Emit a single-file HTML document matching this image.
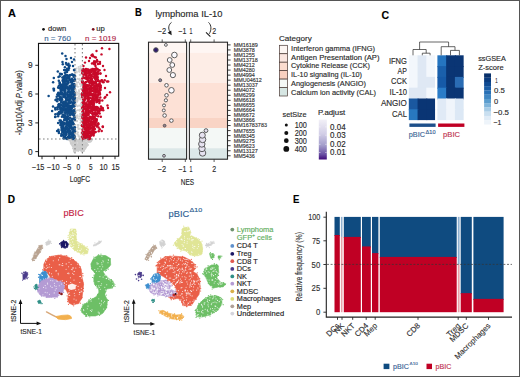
<!DOCTYPE html>
<html><head><meta charset="utf-8"><style>
html,body{margin:0;padding:0;background:#fff;}
body{width:520px;height:377px;overflow:hidden;font-family:"Liberation Sans", sans-serif;}
svg{display:block;}
text{stroke-width:0.14px;}
</style></head><body>
<svg width="520" height="377" viewBox="0 0 520 377" font-family='"Liberation Sans", sans-serif'><rect width="520" height="377" fill="#fff"/><g fill="#d2d2d2" ><circle cx="76.1" cy="112.3" r="1.05"/><circle cx="77.2" cy="117.3" r="1.05"/><circle cx="79.2" cy="71.6" r="1.05"/><circle cx="74.3" cy="137.2" r="1.05"/><circle cx="76.3" cy="85.9" r="1.05"/><circle cx="80.9" cy="106.5" r="1.05"/><circle cx="79.3" cy="78.8" r="1.05"/><circle cx="79.3" cy="139.8" r="1.05"/><circle cx="78.4" cy="129.0" r="1.05"/><circle cx="79.6" cy="71.4" r="1.05"/><circle cx="80.3" cy="116.2" r="1.05"/><circle cx="76.6" cy="68.6" r="1.05"/><circle cx="81.1" cy="106.2" r="1.05"/><circle cx="80.0" cy="140.7" r="1.05"/><circle cx="79.9" cy="144.3" r="1.05"/><circle cx="77.4" cy="134.1" r="1.05"/><circle cx="77.8" cy="145.5" r="1.05"/><circle cx="81.2" cy="74.3" r="1.05"/><circle cx="75.3" cy="84.4" r="1.05"/><circle cx="81.9" cy="103.1" r="1.05"/><circle cx="79.2" cy="91.6" r="1.05"/><circle cx="78.3" cy="98.8" r="1.05"/><circle cx="77.0" cy="115.7" r="1.05"/><circle cx="78.9" cy="142.9" r="1.05"/><circle cx="79.7" cy="145.0" r="1.05"/><circle cx="81.1" cy="150.2" r="1.05"/><circle cx="79.6" cy="79.9" r="1.05"/><circle cx="81.1" cy="148.0" r="1.05"/><circle cx="81.4" cy="114.4" r="1.05"/><circle cx="79.9" cy="83.9" r="1.05"/><circle cx="80.9" cy="114.8" r="1.05"/><circle cx="76.5" cy="71.4" r="1.05"/><circle cx="81.0" cy="150.1" r="1.05"/><circle cx="74.9" cy="134.1" r="1.05"/><circle cx="77.5" cy="78.8" r="1.05"/><circle cx="76.6" cy="131.3" r="1.05"/><circle cx="81.2" cy="69.8" r="1.05"/><circle cx="79.1" cy="69.8" r="1.05"/><circle cx="79.9" cy="94.1" r="1.05"/><circle cx="81.2" cy="149.4" r="1.05"/><circle cx="78.2" cy="150.9" r="1.05"/><circle cx="76.7" cy="72.5" r="1.05"/><circle cx="79.0" cy="68.7" r="1.05"/><circle cx="75.8" cy="100.7" r="1.05"/><circle cx="79.1" cy="79.3" r="1.05"/><circle cx="74.5" cy="139.8" r="1.05"/><circle cx="76.7" cy="147.5" r="1.05"/><circle cx="81.4" cy="98.1" r="1.05"/><circle cx="77.9" cy="110.2" r="1.05"/><circle cx="79.4" cy="116.6" r="1.05"/><circle cx="78.7" cy="118.7" r="1.05"/><circle cx="81.7" cy="109.1" r="1.05"/><circle cx="77.6" cy="127.2" r="1.05"/><circle cx="76.1" cy="91.6" r="1.05"/><circle cx="78.6" cy="67.0" r="1.05"/><circle cx="77.5" cy="115.3" r="1.05"/><circle cx="74.4" cy="118.3" r="1.05"/><circle cx="79.3" cy="71.1" r="1.05"/><circle cx="79.2" cy="105.6" r="1.05"/><circle cx="79.6" cy="96.0" r="1.05"/><circle cx="79.9" cy="128.7" r="1.05"/><circle cx="74.4" cy="71.1" r="1.05"/><circle cx="79.6" cy="147.9" r="1.05"/><circle cx="76.2" cy="104.8" r="1.05"/><circle cx="78.9" cy="93.2" r="1.05"/><circle cx="77.1" cy="92.6" r="1.05"/><circle cx="77.2" cy="116.6" r="1.05"/><circle cx="76.6" cy="98.1" r="1.05"/><circle cx="80.4" cy="68.3" r="1.05"/><circle cx="78.8" cy="128.5" r="1.05"/><circle cx="76.7" cy="84.9" r="1.05"/><circle cx="80.6" cy="86.3" r="1.05"/><circle cx="75.7" cy="103.0" r="1.05"/><circle cx="79.8" cy="74.7" r="1.05"/><circle cx="76.8" cy="94.4" r="1.05"/><circle cx="80.9" cy="103.3" r="1.05"/><circle cx="81.0" cy="80.4" r="1.05"/><circle cx="76.9" cy="121.3" r="1.05"/><circle cx="81.3" cy="104.3" r="1.05"/><circle cx="76.0" cy="76.3" r="1.05"/><circle cx="78.4" cy="82.2" r="1.05"/><circle cx="80.7" cy="137.3" r="1.05"/><circle cx="75.7" cy="89.7" r="1.05"/><circle cx="80.7" cy="120.6" r="1.05"/><circle cx="80.7" cy="95.3" r="1.05"/><circle cx="75.2" cy="90.8" r="1.05"/><circle cx="80.6" cy="89.0" r="1.05"/><circle cx="77.0" cy="101.4" r="1.05"/><circle cx="77.6" cy="100.8" r="1.05"/><circle cx="81.6" cy="79.3" r="1.05"/><circle cx="74.2" cy="146.2" r="1.05"/><circle cx="81.2" cy="149.9" r="1.05"/><circle cx="77.7" cy="146.8" r="1.05"/><circle cx="81.6" cy="84.9" r="1.05"/><circle cx="80.2" cy="137.1" r="1.05"/><circle cx="79.5" cy="110.1" r="1.05"/><circle cx="76.5" cy="95.0" r="1.05"/><circle cx="76.0" cy="71.8" r="1.05"/><circle cx="78.9" cy="90.4" r="1.05"/><circle cx="80.7" cy="69.8" r="1.05"/><circle cx="81.4" cy="125.0" r="1.05"/><circle cx="81.6" cy="142.2" r="1.05"/><circle cx="81.4" cy="115.0" r="1.05"/><circle cx="74.3" cy="129.4" r="1.05"/><circle cx="75.6" cy="91.5" r="1.05"/><circle cx="79.5" cy="110.6" r="1.05"/><circle cx="77.5" cy="145.8" r="1.05"/><circle cx="79.1" cy="95.0" r="1.05"/><circle cx="76.2" cy="139.2" r="1.05"/><circle cx="78.0" cy="132.5" r="1.05"/><circle cx="77.0" cy="82.8" r="1.05"/><circle cx="78.5" cy="135.4" r="1.05"/><circle cx="75.6" cy="133.3" r="1.05"/><circle cx="81.6" cy="134.5" r="1.05"/><circle cx="80.8" cy="66.6" r="1.05"/><circle cx="79.2" cy="139.3" r="1.05"/><circle cx="74.6" cy="89.1" r="1.05"/><circle cx="76.3" cy="110.8" r="1.05"/><circle cx="77.6" cy="106.2" r="1.05"/><circle cx="80.4" cy="66.2" r="1.05"/><circle cx="74.6" cy="76.8" r="1.05"/><circle cx="75.2" cy="71.8" r="1.05"/><circle cx="82.0" cy="138.6" r="1.05"/><circle cx="74.9" cy="108.7" r="1.05"/><circle cx="76.7" cy="92.7" r="1.05"/><circle cx="77.0" cy="121.0" r="1.05"/><circle cx="78.9" cy="96.7" r="1.05"/><circle cx="75.7" cy="93.9" r="1.05"/><circle cx="75.2" cy="113.2" r="1.05"/><circle cx="79.9" cy="98.3" r="1.05"/><circle cx="74.8" cy="81.2" r="1.05"/><circle cx="77.2" cy="117.4" r="1.05"/><circle cx="80.5" cy="98.3" r="1.05"/><circle cx="80.6" cy="118.9" r="1.05"/><circle cx="77.7" cy="97.7" r="1.05"/><circle cx="78.2" cy="125.7" r="1.05"/><circle cx="77.6" cy="125.0" r="1.05"/><circle cx="77.9" cy="86.8" r="1.05"/><circle cx="78.5" cy="125.1" r="1.05"/><circle cx="74.8" cy="102.1" r="1.05"/><circle cx="77.6" cy="140.8" r="1.05"/><circle cx="81.7" cy="97.8" r="1.05"/><circle cx="81.4" cy="133.2" r="1.05"/><circle cx="76.3" cy="105.5" r="1.05"/><circle cx="75.2" cy="135.1" r="1.05"/><circle cx="79.5" cy="141.4" r="1.05"/><circle cx="80.5" cy="122.7" r="1.05"/><circle cx="80.1" cy="113.9" r="1.05"/><circle cx="75.0" cy="116.0" r="1.05"/><circle cx="74.2" cy="78.2" r="1.05"/><circle cx="80.4" cy="69.8" r="1.05"/><circle cx="74.9" cy="74.4" r="1.05"/><circle cx="81.2" cy="81.2" r="1.05"/><circle cx="74.4" cy="137.5" r="1.05"/><circle cx="75.2" cy="137.7" r="1.05"/><circle cx="79.6" cy="137.1" r="1.05"/><circle cx="81.8" cy="115.2" r="1.05"/><circle cx="80.6" cy="69.1" r="1.05"/><circle cx="80.3" cy="109.5" r="1.05"/><circle cx="79.9" cy="75.1" r="1.05"/><circle cx="80.2" cy="145.4" r="1.05"/><circle cx="74.7" cy="93.6" r="1.05"/><circle cx="78.7" cy="136.4" r="1.05"/><circle cx="76.1" cy="81.3" r="1.05"/><circle cx="76.2" cy="118.4" r="1.05"/><circle cx="80.2" cy="99.5" r="1.05"/><circle cx="77.1" cy="99.7" r="1.05"/><circle cx="77.0" cy="101.5" r="1.05"/><circle cx="74.9" cy="108.5" r="1.05"/><circle cx="80.2" cy="79.7" r="1.05"/></g><g fill="#cdcdcd" ><circle cx="85.1" cy="148.8" r="1.05"/><circle cx="84.7" cy="145.7" r="1.05"/><circle cx="80.1" cy="147.4" r="1.05"/><circle cx="90.0" cy="140.9" r="1.05"/><circle cx="79.1" cy="148.3" r="1.05"/><circle cx="73.0" cy="142.5" r="1.05"/><circle cx="73.3" cy="146.6" r="1.05"/><circle cx="76.1" cy="142.0" r="1.05"/><circle cx="75.6" cy="148.2" r="1.05"/><circle cx="78.4" cy="150.1" r="1.05"/><circle cx="82.5" cy="142.5" r="1.05"/><circle cx="73.7" cy="139.3" r="1.05"/><circle cx="80.0" cy="144.0" r="1.05"/><circle cx="72.6" cy="143.7" r="1.05"/><circle cx="76.2" cy="149.1" r="1.05"/><circle cx="80.0" cy="146.8" r="1.05"/><circle cx="79.7" cy="149.8" r="1.05"/><circle cx="80.1" cy="148.4" r="1.05"/><circle cx="79.7" cy="142.0" r="1.05"/><circle cx="74.1" cy="148.3" r="1.05"/><circle cx="89.0" cy="142.1" r="1.05"/><circle cx="73.1" cy="142.4" r="1.05"/><circle cx="73.0" cy="148.2" r="1.05"/><circle cx="74.6" cy="150.2" r="1.05"/><circle cx="76.0" cy="144.5" r="1.05"/><circle cx="86.0" cy="140.1" r="1.05"/><circle cx="75.5" cy="143.6" r="1.05"/><circle cx="82.4" cy="147.8" r="1.05"/><circle cx="79.0" cy="145.3" r="1.05"/><circle cx="73.5" cy="146.6" r="1.05"/><circle cx="81.6" cy="140.5" r="1.05"/><circle cx="75.1" cy="147.7" r="1.05"/><circle cx="90.3" cy="140.3" r="1.05"/><circle cx="75.6" cy="147.8" r="1.05"/><circle cx="84.2" cy="149.5" r="1.05"/><circle cx="74.9" cy="148.8" r="1.05"/><circle cx="81.4" cy="140.5" r="1.05"/><circle cx="80.4" cy="143.6" r="1.05"/><circle cx="85.7" cy="147.8" r="1.05"/><circle cx="82.1" cy="141.4" r="1.05"/><circle cx="84.0" cy="147.2" r="1.05"/><circle cx="84.2" cy="140.6" r="1.05"/><circle cx="90.9" cy="140.8" r="1.05"/><circle cx="76.5" cy="148.4" r="1.05"/><circle cx="82.8" cy="146.2" r="1.05"/><circle cx="84.0" cy="145.0" r="1.05"/><circle cx="76.0" cy="141.3" r="1.05"/><circle cx="86.6" cy="146.1" r="1.05"/><circle cx="86.3" cy="143.7" r="1.05"/><circle cx="74.9" cy="144.0" r="1.05"/><circle cx="89.4" cy="139.5" r="1.05"/><circle cx="80.6" cy="142.2" r="1.05"/><circle cx="87.0" cy="143.6" r="1.05"/><circle cx="76.5" cy="144.2" r="1.05"/><circle cx="81.5" cy="149.0" r="1.05"/><circle cx="77.0" cy="150.0" r="1.05"/><circle cx="71.2" cy="142.5" r="1.05"/><circle cx="70.9" cy="140.5" r="1.05"/><circle cx="72.9" cy="141.5" r="1.05"/><circle cx="78.5" cy="148.7" r="1.05"/><circle cx="82.7" cy="140.9" r="1.05"/><circle cx="78.1" cy="141.5" r="1.05"/><circle cx="81.2" cy="146.4" r="1.05"/><circle cx="73.3" cy="142.3" r="1.05"/><circle cx="87.3" cy="139.4" r="1.05"/><circle cx="81.8" cy="146.6" r="1.05"/><circle cx="85.0" cy="142.9" r="1.05"/><circle cx="82.9" cy="148.4" r="1.05"/><circle cx="84.4" cy="145.4" r="1.05"/><circle cx="81.1" cy="145.0" r="1.05"/><circle cx="73.1" cy="145.9" r="1.05"/><circle cx="84.0" cy="144.8" r="1.05"/><circle cx="82.1" cy="151.5" r="1.05"/><circle cx="89.9" cy="140.8" r="1.05"/><circle cx="74.1" cy="140.0" r="1.05"/><circle cx="81.4" cy="151.1" r="1.05"/><circle cx="76.3" cy="150.3" r="1.05"/><circle cx="85.2" cy="140.7" r="1.05"/><circle cx="86.3" cy="143.5" r="1.05"/><circle cx="86.7" cy="145.3" r="1.05"/><circle cx="71.1" cy="139.6" r="1.05"/><circle cx="70.4" cy="141.6" r="1.05"/><circle cx="72.4" cy="145.5" r="1.05"/><circle cx="85.3" cy="146.0" r="1.05"/><circle cx="78.6" cy="147.4" r="1.05"/><circle cx="75.8" cy="145.0" r="1.05"/><circle cx="86.7" cy="144.2" r="1.05"/><circle cx="85.8" cy="143.8" r="1.05"/><circle cx="77.4" cy="145.9" r="1.05"/><circle cx="82.8" cy="141.9" r="1.05"/><circle cx="87.3" cy="140.9" r="1.05"/><circle cx="79.5" cy="141.5" r="1.05"/><circle cx="73.5" cy="141.2" r="1.05"/><circle cx="78.2" cy="141.2" r="1.05"/><circle cx="72.5" cy="145.4" r="1.05"/><circle cx="69.9" cy="139.3" r="1.05"/><circle cx="79.3" cy="144.3" r="1.05"/><circle cx="85.4" cy="139.7" r="1.05"/><circle cx="78.2" cy="144.2" r="1.05"/><circle cx="73.8" cy="140.2" r="1.05"/><circle cx="79.9" cy="141.1" r="1.05"/><circle cx="83.4" cy="143.5" r="1.05"/><circle cx="71.5" cy="139.7" r="1.05"/><circle cx="86.0" cy="142.6" r="1.05"/><circle cx="87.4" cy="145.1" r="1.05"/><circle cx="74.5" cy="142.5" r="1.05"/><circle cx="76.8" cy="140.2" r="1.05"/><circle cx="82.7" cy="139.0" r="1.05"/><circle cx="69.2" cy="140.2" r="1.05"/><circle cx="72.6" cy="139.5" r="1.05"/><circle cx="90.1" cy="141.6" r="1.05"/><circle cx="91.1" cy="139.4" r="1.05"/><circle cx="75.8" cy="146.9" r="1.05"/><circle cx="91.2" cy="140.1" r="1.05"/><circle cx="75.5" cy="150.0" r="1.05"/><circle cx="71.3" cy="144.1" r="1.05"/><circle cx="76.5" cy="147.8" r="1.05"/><circle cx="90.8" cy="141.3" r="1.05"/><circle cx="78.5" cy="142.0" r="1.05"/><circle cx="87.2" cy="145.2" r="1.05"/><circle cx="75.0" cy="141.2" r="1.05"/><circle cx="85.8" cy="146.9" r="1.05"/><circle cx="85.6" cy="144.0" r="1.05"/><circle cx="80.2" cy="141.0" r="1.05"/><circle cx="85.6" cy="139.3" r="1.05"/><circle cx="79.7" cy="148.9" r="1.05"/><circle cx="84.8" cy="140.3" r="1.05"/><circle cx="74.2" cy="150.0" r="1.05"/><circle cx="83.9" cy="150.4" r="1.05"/><circle cx="76.5" cy="143.8" r="1.05"/><circle cx="91.4" cy="140.4" r="1.05"/><circle cx="82.2" cy="140.4" r="1.05"/><circle cx="74.3" cy="139.6" r="1.05"/><circle cx="82.6" cy="139.2" r="1.05"/><circle cx="74.0" cy="151.6" r="1.05"/><circle cx="73.8" cy="146.3" r="1.05"/><circle cx="78.6" cy="149.2" r="1.05"/><circle cx="83.0" cy="149.3" r="1.05"/><circle cx="81.3" cy="141.4" r="1.05"/><circle cx="72.8" cy="140.0" r="1.05"/><circle cx="88.3" cy="140.5" r="1.05"/><circle cx="73.8" cy="149.8" r="1.05"/><circle cx="83.3" cy="147.3" r="1.05"/><circle cx="76.8" cy="146.8" r="1.05"/><circle cx="79.2" cy="140.4" r="1.05"/><circle cx="88.1" cy="141.7" r="1.05"/><circle cx="81.4" cy="145.0" r="1.05"/><circle cx="86.0" cy="140.0" r="1.05"/><circle cx="76.8" cy="145.3" r="1.05"/><circle cx="86.1" cy="144.5" r="1.05"/><circle cx="84.1" cy="146.9" r="1.05"/><circle cx="73.6" cy="143.6" r="1.05"/><circle cx="78.8" cy="140.1" r="1.05"/><circle cx="73.7" cy="141.1" r="1.05"/><circle cx="83.2" cy="151.1" r="1.05"/><circle cx="81.4" cy="144.4" r="1.05"/><circle cx="87.1" cy="144.3" r="1.05"/><circle cx="75.5" cy="151.1" r="1.05"/><circle cx="72.9" cy="140.2" r="1.05"/><circle cx="85.8" cy="142.8" r="1.05"/><circle cx="81.0" cy="147.3" r="1.05"/><circle cx="75.1" cy="144.6" r="1.05"/><circle cx="76.8" cy="148.6" r="1.05"/><circle cx="86.4" cy="142.7" r="1.05"/><circle cx="71.0" cy="142.9" r="1.05"/><circle cx="78.4" cy="140.0" r="1.05"/><circle cx="77.4" cy="141.1" r="1.05"/><circle cx="76.0" cy="145.0" r="1.05"/><circle cx="81.1" cy="146.0" r="1.05"/><circle cx="77.1" cy="150.1" r="1.05"/><circle cx="75.3" cy="145.0" r="1.05"/><circle cx="75.6" cy="142.2" r="1.05"/><circle cx="87.9" cy="139.1" r="1.05"/><circle cx="81.4" cy="141.2" r="1.05"/><circle cx="87.0" cy="145.1" r="1.05"/><circle cx="92.0" cy="139.5" r="1.05"/><circle cx="72.9" cy="139.2" r="1.05"/><circle cx="78.9" cy="143.4" r="1.05"/><circle cx="70.8" cy="143.1" r="1.05"/><circle cx="74.4" cy="149.4" r="1.05"/><circle cx="78.5" cy="142.4" r="1.05"/><circle cx="83.6" cy="147.8" r="1.05"/><circle cx="74.4" cy="140.8" r="1.05"/><circle cx="80.7" cy="149.8" r="1.05"/><circle cx="81.7" cy="142.6" r="1.05"/><circle cx="72.5" cy="139.2" r="1.05"/><circle cx="83.9" cy="150.7" r="1.05"/><circle cx="78.4" cy="145.7" r="1.05"/><circle cx="72.6" cy="141.4" r="1.05"/><circle cx="81.6" cy="144.3" r="1.05"/><circle cx="76.9" cy="144.9" r="1.05"/><circle cx="87.8" cy="144.9" r="1.05"/><circle cx="76.1" cy="145.8" r="1.05"/><circle cx="78.4" cy="150.1" r="1.05"/><circle cx="83.2" cy="139.4" r="1.05"/><circle cx="82.3" cy="146.1" r="1.05"/><circle cx="80.2" cy="142.6" r="1.05"/><circle cx="77.4" cy="145.7" r="1.05"/><circle cx="83.9" cy="141.5" r="1.05"/><circle cx="90.6" cy="141.4" r="1.05"/></g><g fill="#0f4a87" ><circle cx="62.1" cy="99.5" r="1.25"/><circle cx="70.8" cy="95.2" r="1.25"/><circle cx="63.5" cy="135.8" r="1.25"/><circle cx="69.0" cy="95.3" r="1.25"/><circle cx="73.0" cy="93.0" r="1.25"/><circle cx="60.6" cy="91.0" r="1.25"/><circle cx="72.0" cy="80.1" r="1.25"/><circle cx="73.8" cy="87.8" r="1.25"/><circle cx="63.4" cy="108.7" r="1.25"/><circle cx="66.6" cy="128.7" r="1.25"/><circle cx="74.8" cy="127.3" r="1.25"/><circle cx="60.7" cy="93.1" r="1.25"/><circle cx="71.6" cy="79.4" r="1.25"/><circle cx="70.7" cy="105.9" r="1.25"/><circle cx="74.2" cy="110.0" r="1.25"/><circle cx="61.0" cy="90.1" r="1.25"/><circle cx="62.8" cy="84.2" r="1.25"/><circle cx="61.2" cy="86.4" r="1.25"/><circle cx="65.4" cy="118.2" r="1.25"/><circle cx="74.2" cy="84.1" r="1.25"/><circle cx="72.4" cy="123.6" r="1.25"/><circle cx="63.4" cy="87.1" r="1.25"/><circle cx="74.3" cy="131.0" r="1.25"/><circle cx="68.5" cy="136.5" r="1.25"/><circle cx="73.2" cy="99.5" r="1.25"/><circle cx="59.6" cy="100.0" r="1.25"/><circle cx="73.0" cy="93.0" r="1.25"/><circle cx="73.2" cy="84.3" r="1.25"/><circle cx="60.9" cy="97.6" r="1.25"/><circle cx="72.5" cy="79.9" r="1.25"/><circle cx="62.8" cy="135.1" r="1.25"/><circle cx="72.0" cy="137.7" r="1.25"/><circle cx="60.4" cy="97.7" r="1.25"/><circle cx="64.0" cy="106.0" r="1.25"/><circle cx="74.6" cy="95.0" r="1.25"/><circle cx="63.5" cy="97.1" r="1.25"/><circle cx="67.1" cy="125.0" r="1.25"/><circle cx="66.6" cy="104.7" r="1.25"/><circle cx="66.6" cy="103.3" r="1.25"/><circle cx="72.2" cy="128.3" r="1.25"/><circle cx="60.7" cy="113.0" r="1.25"/><circle cx="72.5" cy="129.3" r="1.25"/><circle cx="64.9" cy="136.7" r="1.25"/><circle cx="71.3" cy="85.7" r="1.25"/><circle cx="74.2" cy="88.0" r="1.25"/><circle cx="70.1" cy="137.6" r="1.25"/><circle cx="73.4" cy="130.9" r="1.25"/><circle cx="65.3" cy="75.9" r="1.25"/><circle cx="61.4" cy="125.8" r="1.25"/><circle cx="67.2" cy="118.9" r="1.25"/><circle cx="73.6" cy="124.0" r="1.25"/><circle cx="68.1" cy="109.6" r="1.25"/><circle cx="66.9" cy="84.4" r="1.25"/><circle cx="67.3" cy="95.7" r="1.25"/><circle cx="70.0" cy="98.9" r="1.25"/><circle cx="65.7" cy="97.9" r="1.25"/><circle cx="63.9" cy="137.8" r="1.25"/><circle cx="64.1" cy="130.2" r="1.25"/><circle cx="60.4" cy="93.4" r="1.25"/><circle cx="73.1" cy="92.3" r="1.25"/><circle cx="63.6" cy="107.1" r="1.25"/><circle cx="65.1" cy="96.8" r="1.25"/><circle cx="60.6" cy="93.1" r="1.25"/><circle cx="67.5" cy="104.0" r="1.25"/><circle cx="61.3" cy="109.0" r="1.25"/><circle cx="68.7" cy="138.1" r="1.25"/><circle cx="65.3" cy="103.3" r="1.25"/><circle cx="69.7" cy="79.4" r="1.25"/><circle cx="64.7" cy="129.2" r="1.25"/><circle cx="64.6" cy="78.8" r="1.25"/><circle cx="59.7" cy="99.6" r="1.25"/><circle cx="71.6" cy="98.5" r="1.25"/><circle cx="61.2" cy="110.1" r="1.25"/><circle cx="61.5" cy="102.6" r="1.25"/><circle cx="69.7" cy="120.5" r="1.25"/><circle cx="67.4" cy="94.2" r="1.25"/><circle cx="69.1" cy="100.5" r="1.25"/><circle cx="61.9" cy="116.7" r="1.25"/><circle cx="72.7" cy="112.4" r="1.25"/><circle cx="69.6" cy="89.1" r="1.25"/><circle cx="72.8" cy="114.3" r="1.25"/><circle cx="70.9" cy="80.2" r="1.25"/><circle cx="74.5" cy="93.1" r="1.25"/><circle cx="60.6" cy="109.5" r="1.25"/><circle cx="63.5" cy="109.2" r="1.25"/><circle cx="63.8" cy="128.0" r="1.25"/><circle cx="69.4" cy="133.4" r="1.25"/><circle cx="73.1" cy="118.7" r="1.25"/><circle cx="70.1" cy="131.3" r="1.25"/><circle cx="61.1" cy="105.4" r="1.25"/><circle cx="72.1" cy="93.4" r="1.25"/><circle cx="66.9" cy="127.7" r="1.25"/><circle cx="74.5" cy="80.4" r="1.25"/><circle cx="74.8" cy="97.5" r="1.25"/><circle cx="72.5" cy="128.3" r="1.25"/><circle cx="69.2" cy="92.5" r="1.25"/><circle cx="68.2" cy="107.7" r="1.25"/><circle cx="65.0" cy="115.2" r="1.25"/><circle cx="73.4" cy="102.9" r="1.25"/><circle cx="66.8" cy="137.7" r="1.25"/><circle cx="69.3" cy="80.3" r="1.25"/><circle cx="61.0" cy="123.2" r="1.25"/><circle cx="74.8" cy="79.2" r="1.25"/><circle cx="68.4" cy="105.7" r="1.25"/><circle cx="64.5" cy="132.2" r="1.25"/><circle cx="68.6" cy="96.2" r="1.25"/><circle cx="61.4" cy="112.3" r="1.25"/><circle cx="69.4" cy="87.9" r="1.25"/><circle cx="66.8" cy="80.7" r="1.25"/><circle cx="64.3" cy="76.7" r="1.25"/><circle cx="66.0" cy="108.5" r="1.25"/><circle cx="72.0" cy="80.5" r="1.25"/><circle cx="61.6" cy="105.0" r="1.25"/><circle cx="70.5" cy="109.5" r="1.25"/><circle cx="67.2" cy="137.9" r="1.25"/><circle cx="71.8" cy="108.8" r="1.25"/><circle cx="61.5" cy="94.1" r="1.25"/><circle cx="67.9" cy="83.5" r="1.25"/><circle cx="69.6" cy="114.7" r="1.25"/><circle cx="62.3" cy="124.2" r="1.25"/><circle cx="65.3" cy="129.9" r="1.25"/><circle cx="74.1" cy="88.0" r="1.25"/><circle cx="70.1" cy="102.7" r="1.25"/><circle cx="62.7" cy="87.4" r="1.25"/><circle cx="63.2" cy="88.8" r="1.25"/><circle cx="73.4" cy="135.0" r="1.25"/><circle cx="70.0" cy="133.5" r="1.25"/><circle cx="72.2" cy="88.6" r="1.25"/><circle cx="69.1" cy="77.4" r="1.25"/><circle cx="61.7" cy="99.6" r="1.25"/><circle cx="74.1" cy="128.3" r="1.25"/><circle cx="68.9" cy="100.7" r="1.25"/><circle cx="71.4" cy="86.4" r="1.25"/><circle cx="64.7" cy="91.9" r="1.25"/><circle cx="73.2" cy="96.8" r="1.25"/><circle cx="68.6" cy="89.1" r="1.25"/><circle cx="71.1" cy="111.1" r="1.25"/><circle cx="71.8" cy="119.8" r="1.25"/><circle cx="65.9" cy="117.9" r="1.25"/><circle cx="64.6" cy="86.2" r="1.25"/><circle cx="66.5" cy="100.2" r="1.25"/><circle cx="65.4" cy="113.3" r="1.25"/><circle cx="74.0" cy="103.3" r="1.25"/><circle cx="63.1" cy="125.3" r="1.25"/><circle cx="65.9" cy="106.4" r="1.25"/><circle cx="61.7" cy="92.2" r="1.25"/><circle cx="71.7" cy="118.9" r="1.25"/><circle cx="61.7" cy="127.3" r="1.25"/><circle cx="59.8" cy="97.1" r="1.25"/><circle cx="72.1" cy="105.9" r="1.25"/><circle cx="70.0" cy="120.9" r="1.25"/><circle cx="66.6" cy="121.9" r="1.25"/><circle cx="68.1" cy="81.9" r="1.25"/><circle cx="68.6" cy="129.5" r="1.25"/><circle cx="61.5" cy="109.5" r="1.25"/><circle cx="67.3" cy="103.6" r="1.25"/><circle cx="62.3" cy="112.3" r="1.25"/><circle cx="73.6" cy="88.0" r="1.25"/><circle cx="67.2" cy="123.7" r="1.25"/><circle cx="61.6" cy="94.4" r="1.25"/><circle cx="68.0" cy="131.6" r="1.25"/><circle cx="65.2" cy="138.3" r="1.25"/><circle cx="70.8" cy="122.9" r="1.25"/><circle cx="67.5" cy="75.7" r="1.25"/><circle cx="69.9" cy="122.0" r="1.25"/><circle cx="66.1" cy="105.6" r="1.25"/><circle cx="64.7" cy="91.0" r="1.25"/><circle cx="69.0" cy="111.0" r="1.25"/><circle cx="67.8" cy="82.0" r="1.25"/><circle cx="64.0" cy="95.5" r="1.25"/><circle cx="69.5" cy="86.0" r="1.25"/><circle cx="69.2" cy="87.6" r="1.25"/><circle cx="73.3" cy="111.9" r="1.25"/><circle cx="69.1" cy="78.5" r="1.25"/><circle cx="67.8" cy="87.9" r="1.25"/><circle cx="73.5" cy="85.7" r="1.25"/><circle cx="60.6" cy="109.4" r="1.25"/><circle cx="68.2" cy="130.6" r="1.25"/><circle cx="73.9" cy="100.4" r="1.25"/><circle cx="70.3" cy="92.7" r="1.25"/><circle cx="73.5" cy="135.3" r="1.25"/><circle cx="69.2" cy="135.7" r="1.25"/><circle cx="70.8" cy="102.8" r="1.25"/><circle cx="72.7" cy="136.6" r="1.25"/><circle cx="67.1" cy="111.6" r="1.25"/><circle cx="71.8" cy="87.8" r="1.25"/><circle cx="65.7" cy="138.1" r="1.25"/><circle cx="62.1" cy="121.9" r="1.25"/><circle cx="65.9" cy="81.3" r="1.25"/><circle cx="71.7" cy="123.0" r="1.25"/><circle cx="59.8" cy="104.3" r="1.25"/><circle cx="63.4" cy="95.9" r="1.25"/><circle cx="65.8" cy="85.6" r="1.25"/><circle cx="67.4" cy="92.2" r="1.25"/><circle cx="61.5" cy="98.8" r="1.25"/><circle cx="67.8" cy="122.7" r="1.25"/><circle cx="68.7" cy="119.0" r="1.25"/><circle cx="71.4" cy="126.5" r="1.25"/><circle cx="65.8" cy="109.8" r="1.25"/><circle cx="74.2" cy="99.8" r="1.25"/><circle cx="66.1" cy="85.9" r="1.25"/><circle cx="64.1" cy="88.5" r="1.25"/><circle cx="60.1" cy="107.3" r="1.25"/><circle cx="65.4" cy="129.3" r="1.25"/><circle cx="74.2" cy="98.8" r="1.25"/><circle cx="63.4" cy="110.6" r="1.25"/><circle cx="72.4" cy="133.9" r="1.25"/><circle cx="61.6" cy="85.1" r="1.25"/><circle cx="68.0" cy="122.3" r="1.25"/><circle cx="72.8" cy="122.3" r="1.25"/><circle cx="64.5" cy="109.8" r="1.25"/><circle cx="72.5" cy="113.6" r="1.25"/><circle cx="66.6" cy="83.8" r="1.25"/><circle cx="73.1" cy="131.6" r="1.25"/><circle cx="74.0" cy="75.5" r="1.25"/><circle cx="69.5" cy="125.3" r="1.25"/><circle cx="59.5" cy="104.2" r="1.25"/><circle cx="70.9" cy="114.1" r="1.25"/><circle cx="74.9" cy="119.9" r="1.25"/><circle cx="64.6" cy="93.0" r="1.25"/><circle cx="74.5" cy="85.9" r="1.25"/><circle cx="69.8" cy="108.2" r="1.25"/><circle cx="73.7" cy="137.2" r="1.25"/><circle cx="69.6" cy="126.3" r="1.25"/><circle cx="68.9" cy="126.5" r="1.25"/><circle cx="70.1" cy="117.7" r="1.25"/><circle cx="68.4" cy="89.4" r="1.25"/><circle cx="70.2" cy="126.2" r="1.25"/><circle cx="68.9" cy="89.7" r="1.25"/><circle cx="70.9" cy="81.1" r="1.25"/><circle cx="66.5" cy="111.7" r="1.25"/><circle cx="70.5" cy="113.2" r="1.25"/><circle cx="74.6" cy="76.6" r="1.25"/><circle cx="71.9" cy="96.7" r="1.25"/><circle cx="70.8" cy="111.4" r="1.25"/><circle cx="66.5" cy="123.8" r="1.25"/><circle cx="64.0" cy="117.4" r="1.25"/><circle cx="68.3" cy="108.4" r="1.25"/><circle cx="74.0" cy="94.7" r="1.25"/><circle cx="68.1" cy="125.8" r="1.25"/><circle cx="63.1" cy="81.4" r="1.25"/><circle cx="65.4" cy="112.2" r="1.25"/><circle cx="72.9" cy="103.1" r="1.25"/><circle cx="73.0" cy="139.0" r="1.25"/><circle cx="59.6" cy="98.4" r="1.25"/><circle cx="68.4" cy="82.8" r="1.25"/><circle cx="71.1" cy="105.7" r="1.25"/><circle cx="69.8" cy="134.2" r="1.25"/><circle cx="69.7" cy="75.7" r="1.25"/><circle cx="67.2" cy="75.3" r="1.25"/><circle cx="63.2" cy="130.6" r="1.25"/><circle cx="66.9" cy="78.1" r="1.25"/><circle cx="67.8" cy="94.5" r="1.25"/><circle cx="70.3" cy="94.2" r="1.25"/><circle cx="66.6" cy="83.5" r="1.25"/><circle cx="62.7" cy="80.7" r="1.25"/><circle cx="63.6" cy="77.8" r="1.25"/><circle cx="73.7" cy="87.3" r="1.25"/><circle cx="67.4" cy="122.7" r="1.25"/><circle cx="67.8" cy="124.2" r="1.25"/><circle cx="73.7" cy="115.4" r="1.25"/><circle cx="67.4" cy="118.1" r="1.25"/><circle cx="74.8" cy="136.6" r="1.25"/><circle cx="66.6" cy="79.4" r="1.25"/><circle cx="69.7" cy="134.3" r="1.25"/><circle cx="66.8" cy="120.5" r="1.25"/><circle cx="67.7" cy="100.0" r="1.25"/><circle cx="74.5" cy="113.5" r="1.25"/><circle cx="63.9" cy="94.6" r="1.25"/><circle cx="68.0" cy="91.5" r="1.25"/><circle cx="69.7" cy="91.4" r="1.25"/><circle cx="63.9" cy="116.6" r="1.25"/><circle cx="69.2" cy="136.2" r="1.25"/><circle cx="70.2" cy="88.0" r="1.25"/><circle cx="72.0" cy="78.7" r="1.25"/><circle cx="65.6" cy="112.4" r="1.25"/><circle cx="72.3" cy="90.5" r="1.25"/><circle cx="72.6" cy="81.3" r="1.25"/><circle cx="70.9" cy="107.1" r="1.25"/><circle cx="67.7" cy="131.6" r="1.25"/><circle cx="68.4" cy="96.8" r="1.25"/><circle cx="66.4" cy="77.6" r="1.25"/><circle cx="69.8" cy="123.1" r="1.25"/><circle cx="71.0" cy="121.4" r="1.25"/><circle cx="71.6" cy="89.0" r="1.25"/><circle cx="66.4" cy="87.6" r="1.25"/><circle cx="64.1" cy="116.1" r="1.25"/><circle cx="65.1" cy="81.6" r="1.25"/><circle cx="69.0" cy="105.6" r="1.25"/><circle cx="68.2" cy="107.2" r="1.25"/><circle cx="69.3" cy="87.8" r="1.25"/><circle cx="64.3" cy="116.3" r="1.25"/><circle cx="72.5" cy="133.6" r="1.25"/><circle cx="64.8" cy="132.0" r="1.25"/><circle cx="60.8" cy="120.6" r="1.25"/><circle cx="64.6" cy="83.8" r="1.25"/><circle cx="73.4" cy="132.6" r="1.25"/><circle cx="60.5" cy="113.1" r="1.25"/><circle cx="62.2" cy="93.8" r="1.25"/><circle cx="69.5" cy="133.0" r="1.25"/><circle cx="72.0" cy="84.3" r="1.25"/><circle cx="69.3" cy="128.1" r="1.25"/><circle cx="68.2" cy="95.2" r="1.25"/><circle cx="71.8" cy="134.4" r="1.25"/><circle cx="64.3" cy="76.2" r="1.25"/><circle cx="69.1" cy="95.3" r="1.25"/><circle cx="71.6" cy="137.5" r="1.25"/><circle cx="63.7" cy="80.5" r="1.25"/><circle cx="71.7" cy="90.6" r="1.25"/><circle cx="72.1" cy="135.0" r="1.25"/><circle cx="70.7" cy="132.7" r="1.25"/><circle cx="71.7" cy="94.4" r="1.25"/><circle cx="66.2" cy="109.7" r="1.25"/><circle cx="67.0" cy="100.5" r="1.25"/><circle cx="62.4" cy="94.1" r="1.25"/><circle cx="65.7" cy="134.8" r="1.25"/><circle cx="74.0" cy="127.5" r="1.25"/><circle cx="71.9" cy="91.0" r="1.25"/><circle cx="61.8" cy="84.9" r="1.25"/><circle cx="63.5" cy="132.9" r="1.25"/><circle cx="73.1" cy="110.7" r="1.25"/><circle cx="74.0" cy="102.3" r="1.25"/><circle cx="71.6" cy="132.9" r="1.25"/><circle cx="60.9" cy="93.4" r="1.25"/><circle cx="61.9" cy="87.8" r="1.25"/><circle cx="64.9" cy="94.9" r="1.25"/><circle cx="63.3" cy="81.8" r="1.25"/><circle cx="69.6" cy="100.5" r="1.25"/><circle cx="66.1" cy="116.9" r="1.25"/><circle cx="73.1" cy="91.1" r="1.25"/><circle cx="74.5" cy="111.8" r="1.25"/><circle cx="70.5" cy="130.8" r="1.25"/><circle cx="70.4" cy="85.9" r="1.25"/><circle cx="70.8" cy="82.3" r="1.25"/><circle cx="68.6" cy="109.8" r="1.25"/><circle cx="70.5" cy="96.4" r="1.25"/><circle cx="62.8" cy="106.1" r="1.25"/><circle cx="63.0" cy="103.0" r="1.25"/><circle cx="73.0" cy="105.9" r="1.25"/><circle cx="63.3" cy="85.9" r="1.25"/><circle cx="69.0" cy="105.7" r="1.25"/><circle cx="61.8" cy="108.0" r="1.25"/><circle cx="69.3" cy="99.0" r="1.25"/><circle cx="74.7" cy="98.4" r="1.25"/><circle cx="67.5" cy="109.9" r="1.25"/><circle cx="67.9" cy="106.7" r="1.25"/><circle cx="63.8" cy="105.2" r="1.25"/><circle cx="61.3" cy="86.9" r="1.25"/><circle cx="63.7" cy="82.3" r="1.25"/><circle cx="64.0" cy="86.2" r="1.25"/><circle cx="73.8" cy="91.7" r="1.25"/><circle cx="61.9" cy="109.6" r="1.25"/><circle cx="63.4" cy="129.1" r="1.25"/><circle cx="74.3" cy="137.7" r="1.25"/><circle cx="73.3" cy="99.3" r="1.25"/><circle cx="68.6" cy="123.3" r="1.25"/><circle cx="63.7" cy="122.6" r="1.25"/><circle cx="67.1" cy="138.9" r="1.25"/><circle cx="67.9" cy="131.0" r="1.25"/><circle cx="63.7" cy="80.2" r="1.25"/><circle cx="73.8" cy="80.8" r="1.25"/><circle cx="71.2" cy="128.1" r="1.25"/><circle cx="74.5" cy="117.4" r="1.25"/><circle cx="64.7" cy="88.5" r="1.25"/><circle cx="69.0" cy="77.4" r="1.25"/><circle cx="72.3" cy="135.0" r="1.25"/><circle cx="64.1" cy="120.1" r="1.25"/><circle cx="63.4" cy="114.7" r="1.25"/><circle cx="74.7" cy="119.7" r="1.25"/><circle cx="67.4" cy="87.3" r="1.25"/><circle cx="72.3" cy="137.1" r="1.25"/><circle cx="72.9" cy="112.6" r="1.25"/><circle cx="69.1" cy="129.2" r="1.25"/><circle cx="64.5" cy="108.4" r="1.25"/><circle cx="65.2" cy="83.7" r="1.25"/><circle cx="63.2" cy="126.2" r="1.25"/><circle cx="71.4" cy="93.0" r="1.25"/><circle cx="62.7" cy="85.6" r="1.25"/><circle cx="68.9" cy="103.0" r="1.25"/><circle cx="64.1" cy="108.3" r="1.25"/><circle cx="69.8" cy="95.4" r="1.25"/><circle cx="64.1" cy="124.0" r="1.25"/><circle cx="73.8" cy="93.9" r="1.25"/><circle cx="65.9" cy="134.4" r="1.25"/><circle cx="68.8" cy="113.0" r="1.25"/><circle cx="69.8" cy="136.4" r="1.25"/><circle cx="73.5" cy="88.9" r="1.25"/><circle cx="65.7" cy="97.5" r="1.25"/><circle cx="60.4" cy="98.3" r="1.25"/><circle cx="68.1" cy="116.6" r="1.25"/><circle cx="66.0" cy="117.3" r="1.25"/><circle cx="67.4" cy="114.5" r="1.25"/><circle cx="67.3" cy="108.5" r="1.25"/><circle cx="72.4" cy="128.2" r="1.25"/><circle cx="70.8" cy="125.3" r="1.25"/><circle cx="73.9" cy="129.3" r="1.25"/><circle cx="68.0" cy="106.0" r="1.25"/><circle cx="72.0" cy="120.5" r="1.25"/><circle cx="72.9" cy="91.8" r="1.25"/><circle cx="66.0" cy="110.9" r="1.25"/><circle cx="73.0" cy="75.0" r="1.25"/><circle cx="61.4" cy="87.8" r="1.25"/><circle cx="66.1" cy="104.1" r="1.25"/><circle cx="65.1" cy="93.5" r="1.25"/><circle cx="65.9" cy="127.0" r="1.25"/><circle cx="70.2" cy="75.1" r="1.25"/><circle cx="74.2" cy="106.3" r="1.25"/><circle cx="70.5" cy="125.6" r="1.25"/><circle cx="65.6" cy="93.8" r="1.25"/><circle cx="67.3" cy="112.4" r="1.25"/><circle cx="68.2" cy="130.0" r="1.25"/><circle cx="73.9" cy="97.0" r="1.25"/><circle cx="69.3" cy="110.4" r="1.25"/><circle cx="69.5" cy="109.3" r="1.25"/><circle cx="74.5" cy="75.4" r="1.25"/><circle cx="73.6" cy="85.1" r="1.25"/><circle cx="67.3" cy="129.5" r="1.25"/><circle cx="64.6" cy="90.3" r="1.25"/><circle cx="74.0" cy="115.6" r="1.25"/><circle cx="71.7" cy="123.1" r="1.25"/><circle cx="73.3" cy="138.8" r="1.25"/><circle cx="71.2" cy="93.3" r="1.25"/><circle cx="64.3" cy="130.2" r="1.25"/><circle cx="72.6" cy="112.1" r="1.25"/><circle cx="64.0" cy="102.4" r="1.25"/><circle cx="63.8" cy="78.7" r="1.25"/><circle cx="62.6" cy="128.8" r="1.25"/><circle cx="65.9" cy="119.7" r="1.25"/><circle cx="71.8" cy="137.4" r="1.25"/><circle cx="73.1" cy="94.6" r="1.25"/><circle cx="63.9" cy="86.5" r="1.25"/><circle cx="65.4" cy="81.1" r="1.25"/><circle cx="61.3" cy="100.4" r="1.25"/><circle cx="65.3" cy="123.6" r="1.25"/><circle cx="74.3" cy="129.1" r="1.25"/><circle cx="69.5" cy="92.0" r="1.25"/><circle cx="64.5" cy="102.5" r="1.25"/><circle cx="65.4" cy="131.3" r="1.25"/><circle cx="66.4" cy="134.4" r="1.25"/><circle cx="67.1" cy="97.8" r="1.25"/><circle cx="63.4" cy="122.9" r="1.25"/><circle cx="69.4" cy="98.7" r="1.25"/><circle cx="71.5" cy="114.3" r="1.25"/><circle cx="74.9" cy="131.5" r="1.25"/><circle cx="67.7" cy="116.5" r="1.25"/><circle cx="66.9" cy="87.5" r="1.25"/><circle cx="60.0" cy="105.3" r="1.25"/><circle cx="67.4" cy="131.6" r="1.25"/><circle cx="63.5" cy="130.8" r="1.25"/><circle cx="63.6" cy="85.6" r="1.25"/><circle cx="61.8" cy="128.3" r="1.25"/><circle cx="69.4" cy="123.6" r="1.25"/><circle cx="65.7" cy="88.2" r="1.25"/><circle cx="64.1" cy="88.5" r="1.25"/><circle cx="62.2" cy="111.8" r="1.25"/><circle cx="70.3" cy="97.8" r="1.25"/><circle cx="66.6" cy="132.9" r="1.25"/><circle cx="66.3" cy="99.2" r="1.25"/><circle cx="64.9" cy="102.9" r="1.25"/><circle cx="70.5" cy="108.1" r="1.25"/><circle cx="64.5" cy="137.7" r="1.25"/><circle cx="71.0" cy="123.6" r="1.25"/><circle cx="64.7" cy="87.4" r="1.25"/><circle cx="66.2" cy="127.6" r="1.25"/><circle cx="64.6" cy="88.7" r="1.25"/><circle cx="69.1" cy="108.5" r="1.25"/><circle cx="68.1" cy="112.7" r="1.25"/><circle cx="63.7" cy="116.5" r="1.25"/><circle cx="73.6" cy="137.9" r="1.25"/><circle cx="60.4" cy="111.5" r="1.25"/><circle cx="66.3" cy="117.0" r="1.25"/><circle cx="74.5" cy="129.6" r="1.25"/><circle cx="66.4" cy="125.7" r="1.25"/><circle cx="70.2" cy="112.4" r="1.25"/><circle cx="73.0" cy="114.6" r="1.25"/><circle cx="70.9" cy="108.6" r="1.25"/><circle cx="65.1" cy="134.6" r="1.25"/><circle cx="63.2" cy="105.3" r="1.25"/><circle cx="66.8" cy="99.6" r="1.25"/><circle cx="63.3" cy="85.3" r="1.25"/><circle cx="64.3" cy="123.9" r="1.25"/><circle cx="64.6" cy="80.3" r="1.25"/><circle cx="68.7" cy="75.8" r="1.25"/><circle cx="74.0" cy="106.2" r="1.25"/><circle cx="61.1" cy="102.0" r="1.25"/><circle cx="70.2" cy="115.0" r="1.25"/><circle cx="70.1" cy="127.1" r="1.25"/><circle cx="69.8" cy="132.4" r="1.25"/><circle cx="62.8" cy="80.0" r="1.25"/><circle cx="71.8" cy="79.5" r="1.25"/><circle cx="73.3" cy="124.3" r="1.25"/><circle cx="61.6" cy="109.8" r="1.25"/><circle cx="69.6" cy="112.8" r="1.25"/><circle cx="63.4" cy="123.5" r="1.25"/><circle cx="65.3" cy="112.1" r="1.25"/><circle cx="68.8" cy="95.6" r="1.25"/><circle cx="63.6" cy="138.5" r="1.25"/><circle cx="72.8" cy="75.1" r="1.25"/><circle cx="63.5" cy="89.4" r="1.25"/><circle cx="72.5" cy="87.8" r="1.25"/><circle cx="72.6" cy="124.0" r="1.25"/><circle cx="69.6" cy="137.6" r="1.25"/><circle cx="64.6" cy="132.5" r="1.25"/><circle cx="63.8" cy="88.3" r="1.25"/><circle cx="71.5" cy="101.6" r="1.25"/><circle cx="66.6" cy="77.9" r="1.25"/><circle cx="70.2" cy="110.9" r="1.25"/><circle cx="72.3" cy="128.3" r="1.25"/><circle cx="73.5" cy="103.5" r="1.25"/><circle cx="61.4" cy="97.4" r="1.25"/><circle cx="72.5" cy="107.0" r="1.25"/><circle cx="65.5" cy="90.1" r="1.25"/><circle cx="61.8" cy="92.8" r="1.25"/><circle cx="64.4" cy="78.9" r="1.25"/><circle cx="62.6" cy="114.8" r="1.25"/><circle cx="73.8" cy="97.7" r="1.25"/><circle cx="66.3" cy="86.0" r="1.25"/><circle cx="73.7" cy="76.7" r="1.25"/><circle cx="62.8" cy="125.1" r="1.25"/><circle cx="64.0" cy="129.8" r="1.25"/><circle cx="61.4" cy="110.5" r="1.25"/><circle cx="66.8" cy="119.6" r="1.25"/><circle cx="74.5" cy="102.2" r="1.25"/><circle cx="71.7" cy="80.7" r="1.25"/><circle cx="73.0" cy="104.5" r="1.25"/><circle cx="68.1" cy="137.1" r="1.25"/><circle cx="62.3" cy="122.4" r="1.25"/><circle cx="62.1" cy="89.5" r="1.25"/><circle cx="71.7" cy="136.3" r="1.25"/><circle cx="64.4" cy="83.0" r="1.25"/><circle cx="64.8" cy="131.9" r="1.25"/><circle cx="65.6" cy="101.1" r="1.25"/><circle cx="71.9" cy="82.3" r="1.25"/><circle cx="63.4" cy="101.8" r="1.25"/><circle cx="63.2" cy="80.7" r="1.25"/><circle cx="63.8" cy="76.9" r="1.25"/><circle cx="63.0" cy="90.2" r="1.25"/><circle cx="62.1" cy="127.4" r="1.25"/><circle cx="64.1" cy="105.1" r="1.25"/><circle cx="62.5" cy="93.7" r="1.25"/><circle cx="65.6" cy="74.4" r="1.25"/><circle cx="74.4" cy="70.1" r="1.25"/><circle cx="74.0" cy="59.4" r="1.25"/><circle cx="72.2" cy="74.6" r="1.25"/><circle cx="71.9" cy="74.8" r="1.25"/><circle cx="68.8" cy="68.2" r="1.25"/><circle cx="55.2" cy="107.9" r="1.25"/><circle cx="58.1" cy="123.0" r="1.25"/><circle cx="60.1" cy="88.4" r="1.25"/><circle cx="65.3" cy="70.3" r="1.25"/><circle cx="61.5" cy="74.1" r="1.25"/><circle cx="59.8" cy="83.3" r="1.25"/><circle cx="57.2" cy="101.2" r="1.25"/><circle cx="66.4" cy="70.3" r="1.25"/><circle cx="59.1" cy="112.4" r="1.25"/><circle cx="52.1" cy="111.0" r="1.25"/><circle cx="53.5" cy="88.7" r="1.25"/><circle cx="53.0" cy="106.5" r="1.25"/><circle cx="56.4" cy="99.6" r="1.25"/><circle cx="59.1" cy="111.9" r="1.25"/><circle cx="57.6" cy="98.9" r="1.25"/><circle cx="57.6" cy="94.6" r="1.25"/><circle cx="58.4" cy="129.8" r="1.25"/><circle cx="60.4" cy="122.2" r="1.25"/><circle cx="57.6" cy="113.5" r="1.25"/><circle cx="62.2" cy="132.1" r="1.25"/><circle cx="57.8" cy="71.6" r="1.25"/><circle cx="58.2" cy="87.4" r="1.25"/><circle cx="58.3" cy="104.7" r="1.25"/><circle cx="58.3" cy="92.7" r="1.25"/><circle cx="61.2" cy="135.8" r="1.25"/><circle cx="59.7" cy="120.4" r="1.25"/><circle cx="57.8" cy="114.2" r="1.25"/><circle cx="55.4" cy="116.7" r="1.25"/><circle cx="62.8" cy="64.3" r="1.25"/><circle cx="58.7" cy="106.2" r="1.25"/><circle cx="59.7" cy="94.7" r="1.25"/><circle cx="59.7" cy="76.3" r="1.25"/><circle cx="55.4" cy="114.2" r="1.25"/><circle cx="66.4" cy="70.8" r="1.25"/><circle cx="59.3" cy="88.0" r="1.25"/><circle cx="59.0" cy="114.2" r="1.25"/><circle cx="58.1" cy="116.2" r="1.25"/><circle cx="58.8" cy="80.8" r="1.25"/><circle cx="68.5" cy="63.8" r="1.25"/><circle cx="64.9" cy="72.8" r="1.25"/><circle cx="58.2" cy="95.8" r="1.25"/><circle cx="58.4" cy="106.4" r="1.25"/><circle cx="58.8" cy="131.4" r="1.25"/><circle cx="67.2" cy="70.2" r="1.25"/><circle cx="61.4" cy="133.9" r="1.25"/><circle cx="69.1" cy="66.3" r="1.25"/><circle cx="59.3" cy="113.3" r="1.25"/><circle cx="58.4" cy="87.5" r="1.25"/><circle cx="58.9" cy="85.8" r="1.25"/><circle cx="58.9" cy="132.9" r="1.25"/><circle cx="57.2" cy="107.6" r="1.25"/><circle cx="59.7" cy="82.5" r="1.25"/><circle cx="57.5" cy="109.3" r="1.25"/><circle cx="56.7" cy="96.8" r="1.25"/><circle cx="61.7" cy="74.2" r="1.25"/><circle cx="62.7" cy="135.3" r="1.25"/><circle cx="53.8" cy="77.9" r="1.25"/><circle cx="66.5" cy="64.5" r="1.25"/><circle cx="59.2" cy="103.9" r="1.25"/><circle cx="59.4" cy="107.7" r="1.25"/><circle cx="60.4" cy="125.1" r="1.25"/><circle cx="57.1" cy="131.0" r="1.25"/><circle cx="67.1" cy="68.8" r="1.25"/><circle cx="64.1" cy="70.0" r="1.25"/><circle cx="69.7" cy="65.5" r="1.25"/><circle cx="64.9" cy="67.2" r="1.25"/><circle cx="62.4" cy="77.5" r="1.25"/><circle cx="58.3" cy="93.2" r="1.25"/><circle cx="53.9" cy="90.6" r="1.25"/><circle cx="60.0" cy="84.9" r="1.25"/></g><g fill="#0f4a87" ><circle cx="62.2" cy="53.6" r="1.25"/><circle cx="65.5" cy="56.0" r="1.25"/><circle cx="66.5" cy="59.0" r="1.25"/><circle cx="62.5" cy="62.0" r="1.25"/><circle cx="66.0" cy="63.0" r="1.25"/><circle cx="68.0" cy="65.0" r="1.25"/><circle cx="69.0" cy="68.0" r="1.25"/><circle cx="68.5" cy="70.0" r="1.25"/><circle cx="67.0" cy="72.0" r="1.25"/><circle cx="72.0" cy="62.0" r="1.25"/><circle cx="73.0" cy="66.0" r="1.25"/><circle cx="74.0" cy="70.0" r="1.25"/><circle cx="71.0" cy="58.0" r="1.25"/><circle cx="53.1" cy="82.3" r="1.25"/><circle cx="48.6" cy="95.9" r="1.25"/><circle cx="57.5" cy="94.5" r="1.25"/><circle cx="55.4" cy="109.4" r="1.25"/><circle cx="55.1" cy="117.0" r="1.25"/><circle cx="61.5" cy="130.0" r="1.25"/><circle cx="54.0" cy="89.0" r="1.25"/><circle cx="55.5" cy="100.0" r="1.25"/><circle cx="60.0" cy="73.8" r="1.25"/><circle cx="58.5" cy="77.0" r="1.25"/></g><g fill="#c80a2a" ><circle cx="85.1" cy="129.4" r="1.25"/><circle cx="95.7" cy="81.2" r="1.25"/><circle cx="97.2" cy="91.1" r="1.25"/><circle cx="86.9" cy="126.5" r="1.25"/><circle cx="83.7" cy="92.3" r="1.25"/><circle cx="87.4" cy="130.1" r="1.25"/><circle cx="85.0" cy="93.0" r="1.25"/><circle cx="96.8" cy="84.8" r="1.25"/><circle cx="90.9" cy="78.1" r="1.25"/><circle cx="90.1" cy="112.7" r="1.25"/><circle cx="88.6" cy="104.2" r="1.25"/><circle cx="95.6" cy="82.4" r="1.25"/><circle cx="88.6" cy="131.8" r="1.25"/><circle cx="97.5" cy="86.6" r="1.25"/><circle cx="84.9" cy="83.1" r="1.25"/><circle cx="95.0" cy="112.8" r="1.25"/><circle cx="83.8" cy="109.1" r="1.25"/><circle cx="83.6" cy="137.5" r="1.25"/><circle cx="98.8" cy="93.1" r="1.25"/><circle cx="92.3" cy="124.5" r="1.25"/><circle cx="95.1" cy="74.3" r="1.25"/><circle cx="82.2" cy="97.0" r="1.25"/><circle cx="94.8" cy="124.2" r="1.25"/><circle cx="88.8" cy="72.3" r="1.25"/><circle cx="85.9" cy="132.1" r="1.25"/><circle cx="95.2" cy="90.2" r="1.25"/><circle cx="99.0" cy="99.9" r="1.25"/><circle cx="92.9" cy="128.9" r="1.25"/><circle cx="84.9" cy="118.5" r="1.25"/><circle cx="90.6" cy="117.1" r="1.25"/><circle cx="91.5" cy="102.8" r="1.25"/><circle cx="85.4" cy="90.4" r="1.25"/><circle cx="86.2" cy="132.9" r="1.25"/><circle cx="97.3" cy="76.4" r="1.25"/><circle cx="93.2" cy="104.8" r="1.25"/><circle cx="84.5" cy="92.7" r="1.25"/><circle cx="96.2" cy="92.3" r="1.25"/><circle cx="97.5" cy="88.2" r="1.25"/><circle cx="97.2" cy="90.3" r="1.25"/><circle cx="89.3" cy="81.5" r="1.25"/><circle cx="84.4" cy="78.0" r="1.25"/><circle cx="88.0" cy="105.6" r="1.25"/><circle cx="85.5" cy="106.6" r="1.25"/><circle cx="87.5" cy="90.7" r="1.25"/><circle cx="82.9" cy="131.9" r="1.25"/><circle cx="96.5" cy="98.1" r="1.25"/><circle cx="86.1" cy="109.0" r="1.25"/><circle cx="83.0" cy="138.8" r="1.25"/><circle cx="82.3" cy="78.6" r="1.25"/><circle cx="96.6" cy="99.7" r="1.25"/><circle cx="86.9" cy="88.8" r="1.25"/><circle cx="83.1" cy="124.9" r="1.25"/><circle cx="91.6" cy="70.2" r="1.25"/><circle cx="90.2" cy="75.2" r="1.25"/><circle cx="91.7" cy="79.1" r="1.25"/><circle cx="87.8" cy="128.6" r="1.25"/><circle cx="92.6" cy="88.1" r="1.25"/><circle cx="82.8" cy="118.0" r="1.25"/><circle cx="88.4" cy="85.8" r="1.25"/><circle cx="86.5" cy="104.4" r="1.25"/><circle cx="85.9" cy="115.1" r="1.25"/><circle cx="86.1" cy="132.3" r="1.25"/><circle cx="83.3" cy="84.5" r="1.25"/><circle cx="85.4" cy="77.9" r="1.25"/><circle cx="87.0" cy="130.8" r="1.25"/><circle cx="98.3" cy="100.0" r="1.25"/><circle cx="89.8" cy="136.7" r="1.25"/><circle cx="87.6" cy="85.8" r="1.25"/><circle cx="86.3" cy="104.4" r="1.25"/><circle cx="85.6" cy="93.3" r="1.25"/><circle cx="94.7" cy="85.9" r="1.25"/><circle cx="89.0" cy="111.2" r="1.25"/><circle cx="92.3" cy="102.0" r="1.25"/><circle cx="82.3" cy="116.9" r="1.25"/><circle cx="88.0" cy="128.0" r="1.25"/><circle cx="98.3" cy="92.9" r="1.25"/><circle cx="87.0" cy="122.0" r="1.25"/><circle cx="88.4" cy="70.7" r="1.25"/><circle cx="88.4" cy="99.8" r="1.25"/><circle cx="91.0" cy="75.8" r="1.25"/><circle cx="95.0" cy="86.8" r="1.25"/><circle cx="86.8" cy="106.0" r="1.25"/><circle cx="87.9" cy="126.8" r="1.25"/><circle cx="86.3" cy="74.9" r="1.25"/><circle cx="88.4" cy="72.7" r="1.25"/><circle cx="92.8" cy="132.6" r="1.25"/><circle cx="84.4" cy="114.6" r="1.25"/><circle cx="85.5" cy="85.8" r="1.25"/><circle cx="92.8" cy="95.1" r="1.25"/><circle cx="89.1" cy="70.6" r="1.25"/><circle cx="93.2" cy="98.8" r="1.25"/><circle cx="87.2" cy="126.9" r="1.25"/><circle cx="86.3" cy="111.2" r="1.25"/><circle cx="92.7" cy="100.8" r="1.25"/><circle cx="89.7" cy="72.7" r="1.25"/><circle cx="85.0" cy="104.2" r="1.25"/><circle cx="96.0" cy="86.4" r="1.25"/><circle cx="85.3" cy="93.5" r="1.25"/><circle cx="90.9" cy="88.9" r="1.25"/><circle cx="88.0" cy="96.9" r="1.25"/><circle cx="85.7" cy="91.6" r="1.25"/><circle cx="91.9" cy="104.3" r="1.25"/><circle cx="91.2" cy="75.2" r="1.25"/><circle cx="98.6" cy="90.5" r="1.25"/><circle cx="83.4" cy="134.7" r="1.25"/><circle cx="87.1" cy="117.7" r="1.25"/><circle cx="95.8" cy="76.8" r="1.25"/><circle cx="91.0" cy="132.6" r="1.25"/><circle cx="97.1" cy="113.6" r="1.25"/><circle cx="93.0" cy="107.9" r="1.25"/><circle cx="95.1" cy="114.7" r="1.25"/><circle cx="85.9" cy="128.9" r="1.25"/><circle cx="91.2" cy="83.5" r="1.25"/><circle cx="87.6" cy="110.3" r="1.25"/><circle cx="92.7" cy="129.2" r="1.25"/><circle cx="90.0" cy="117.1" r="1.25"/><circle cx="84.9" cy="117.7" r="1.25"/><circle cx="83.7" cy="125.5" r="1.25"/><circle cx="89.2" cy="132.2" r="1.25"/><circle cx="85.2" cy="88.4" r="1.25"/><circle cx="89.4" cy="111.0" r="1.25"/><circle cx="83.5" cy="117.8" r="1.25"/><circle cx="87.3" cy="130.3" r="1.25"/><circle cx="94.6" cy="99.8" r="1.25"/><circle cx="89.0" cy="111.4" r="1.25"/><circle cx="89.9" cy="89.5" r="1.25"/><circle cx="85.8" cy="71.2" r="1.25"/><circle cx="83.6" cy="126.8" r="1.25"/><circle cx="95.1" cy="75.0" r="1.25"/><circle cx="91.0" cy="95.2" r="1.25"/><circle cx="93.5" cy="110.1" r="1.25"/><circle cx="95.1" cy="91.3" r="1.25"/><circle cx="94.1" cy="69.0" r="1.25"/><circle cx="92.6" cy="90.7" r="1.25"/><circle cx="94.7" cy="90.3" r="1.25"/><circle cx="92.2" cy="95.3" r="1.25"/><circle cx="96.2" cy="91.5" r="1.25"/><circle cx="84.8" cy="123.4" r="1.25"/><circle cx="95.3" cy="121.9" r="1.25"/><circle cx="85.2" cy="85.6" r="1.25"/><circle cx="92.5" cy="134.2" r="1.25"/><circle cx="94.4" cy="78.1" r="1.25"/><circle cx="84.9" cy="134.1" r="1.25"/><circle cx="86.1" cy="123.6" r="1.25"/><circle cx="89.0" cy="124.1" r="1.25"/><circle cx="84.1" cy="102.1" r="1.25"/><circle cx="92.7" cy="114.7" r="1.25"/><circle cx="82.8" cy="89.3" r="1.25"/><circle cx="86.0" cy="75.3" r="1.25"/><circle cx="89.1" cy="138.8" r="1.25"/><circle cx="90.8" cy="131.7" r="1.25"/><circle cx="88.2" cy="78.4" r="1.25"/><circle cx="91.0" cy="135.5" r="1.25"/><circle cx="89.9" cy="138.4" r="1.25"/><circle cx="93.2" cy="118.8" r="1.25"/><circle cx="86.9" cy="133.0" r="1.25"/><circle cx="86.6" cy="71.3" r="1.25"/><circle cx="85.9" cy="69.9" r="1.25"/><circle cx="86.4" cy="110.3" r="1.25"/><circle cx="83.6" cy="86.4" r="1.25"/><circle cx="90.8" cy="94.1" r="1.25"/><circle cx="97.0" cy="110.4" r="1.25"/><circle cx="85.9" cy="73.9" r="1.25"/><circle cx="96.3" cy="74.4" r="1.25"/><circle cx="92.2" cy="113.2" r="1.25"/><circle cx="82.0" cy="126.0" r="1.25"/><circle cx="85.9" cy="132.2" r="1.25"/><circle cx="88.3" cy="113.0" r="1.25"/><circle cx="86.3" cy="121.2" r="1.25"/><circle cx="86.2" cy="88.4" r="1.25"/><circle cx="88.6" cy="119.7" r="1.25"/><circle cx="87.8" cy="79.9" r="1.25"/><circle cx="88.0" cy="108.8" r="1.25"/><circle cx="95.4" cy="110.5" r="1.25"/><circle cx="94.4" cy="113.8" r="1.25"/><circle cx="96.8" cy="90.2" r="1.25"/><circle cx="87.7" cy="134.9" r="1.25"/><circle cx="83.3" cy="70.6" r="1.25"/><circle cx="94.3" cy="122.0" r="1.25"/><circle cx="89.4" cy="119.7" r="1.25"/><circle cx="83.9" cy="106.8" r="1.25"/><circle cx="97.9" cy="110.9" r="1.25"/><circle cx="92.2" cy="83.4" r="1.25"/><circle cx="90.3" cy="128.5" r="1.25"/><circle cx="86.0" cy="93.5" r="1.25"/><circle cx="95.4" cy="120.3" r="1.25"/><circle cx="86.9" cy="130.4" r="1.25"/><circle cx="93.6" cy="121.1" r="1.25"/><circle cx="94.8" cy="95.3" r="1.25"/><circle cx="85.4" cy="96.0" r="1.25"/><circle cx="92.3" cy="69.0" r="1.25"/><circle cx="82.6" cy="121.7" r="1.25"/><circle cx="86.8" cy="73.3" r="1.25"/><circle cx="94.3" cy="83.6" r="1.25"/><circle cx="91.7" cy="82.3" r="1.25"/><circle cx="87.7" cy="107.6" r="1.25"/><circle cx="87.6" cy="128.8" r="1.25"/><circle cx="93.0" cy="104.8" r="1.25"/><circle cx="85.2" cy="97.3" r="1.25"/><circle cx="89.9" cy="135.7" r="1.25"/><circle cx="90.1" cy="107.2" r="1.25"/><circle cx="86.6" cy="112.2" r="1.25"/><circle cx="90.3" cy="74.1" r="1.25"/><circle cx="83.2" cy="132.0" r="1.25"/><circle cx="85.7" cy="137.7" r="1.25"/><circle cx="89.3" cy="138.9" r="1.25"/><circle cx="85.6" cy="88.1" r="1.25"/><circle cx="93.7" cy="131.2" r="1.25"/><circle cx="89.9" cy="125.4" r="1.25"/><circle cx="94.7" cy="107.0" r="1.25"/><circle cx="93.1" cy="126.6" r="1.25"/><circle cx="96.1" cy="89.2" r="1.25"/><circle cx="88.0" cy="135.7" r="1.25"/><circle cx="84.7" cy="69.7" r="1.25"/><circle cx="88.5" cy="114.6" r="1.25"/><circle cx="89.2" cy="133.2" r="1.25"/><circle cx="84.2" cy="118.0" r="1.25"/><circle cx="93.7" cy="105.7" r="1.25"/><circle cx="92.2" cy="133.2" r="1.25"/><circle cx="90.5" cy="87.5" r="1.25"/><circle cx="82.9" cy="137.5" r="1.25"/><circle cx="84.8" cy="74.0" r="1.25"/><circle cx="86.7" cy="120.2" r="1.25"/><circle cx="94.2" cy="118.5" r="1.25"/><circle cx="82.5" cy="125.6" r="1.25"/><circle cx="93.9" cy="117.2" r="1.25"/><circle cx="94.8" cy="118.2" r="1.25"/><circle cx="90.2" cy="126.2" r="1.25"/><circle cx="88.8" cy="129.6" r="1.25"/><circle cx="86.5" cy="76.6" r="1.25"/><circle cx="85.7" cy="134.3" r="1.25"/><circle cx="96.7" cy="102.0" r="1.25"/><circle cx="93.8" cy="117.0" r="1.25"/><circle cx="90.5" cy="101.9" r="1.25"/><circle cx="85.1" cy="74.4" r="1.25"/><circle cx="90.7" cy="80.1" r="1.25"/><circle cx="83.2" cy="105.8" r="1.25"/><circle cx="83.6" cy="113.4" r="1.25"/><circle cx="82.5" cy="96.0" r="1.25"/><circle cx="84.4" cy="102.3" r="1.25"/><circle cx="85.9" cy="134.8" r="1.25"/><circle cx="87.8" cy="127.0" r="1.25"/><circle cx="96.3" cy="91.9" r="1.25"/><circle cx="90.8" cy="88.2" r="1.25"/><circle cx="97.3" cy="113.8" r="1.25"/><circle cx="82.8" cy="118.3" r="1.25"/><circle cx="98.1" cy="100.9" r="1.25"/><circle cx="86.7" cy="128.8" r="1.25"/><circle cx="86.3" cy="78.0" r="1.25"/><circle cx="84.5" cy="122.0" r="1.25"/><circle cx="85.1" cy="131.4" r="1.25"/><circle cx="92.3" cy="117.3" r="1.25"/><circle cx="90.8" cy="86.0" r="1.25"/><circle cx="86.2" cy="113.0" r="1.25"/><circle cx="92.3" cy="106.2" r="1.25"/><circle cx="85.0" cy="136.0" r="1.25"/><circle cx="90.3" cy="81.2" r="1.25"/><circle cx="89.7" cy="110.8" r="1.25"/><circle cx="84.3" cy="132.9" r="1.25"/><circle cx="89.8" cy="104.6" r="1.25"/><circle cx="89.6" cy="82.9" r="1.25"/><circle cx="88.4" cy="100.7" r="1.25"/><circle cx="95.7" cy="123.1" r="1.25"/><circle cx="84.2" cy="136.8" r="1.25"/><circle cx="98.1" cy="95.0" r="1.25"/><circle cx="83.4" cy="74.8" r="1.25"/><circle cx="96.6" cy="73.5" r="1.25"/><circle cx="89.2" cy="104.4" r="1.25"/><circle cx="95.8" cy="75.9" r="1.25"/><circle cx="88.6" cy="138.5" r="1.25"/><circle cx="88.5" cy="132.9" r="1.25"/><circle cx="85.0" cy="90.8" r="1.25"/><circle cx="84.5" cy="90.3" r="1.25"/><circle cx="82.8" cy="94.8" r="1.25"/><circle cx="95.3" cy="71.9" r="1.25"/><circle cx="92.5" cy="128.4" r="1.25"/><circle cx="89.7" cy="93.6" r="1.25"/><circle cx="94.8" cy="107.0" r="1.25"/><circle cx="90.7" cy="90.2" r="1.25"/><circle cx="95.7" cy="107.4" r="1.25"/><circle cx="82.1" cy="93.5" r="1.25"/><circle cx="97.0" cy="97.3" r="1.25"/><circle cx="92.3" cy="81.2" r="1.25"/><circle cx="86.3" cy="78.3" r="1.25"/><circle cx="83.6" cy="112.7" r="1.25"/><circle cx="91.9" cy="100.8" r="1.25"/><circle cx="94.9" cy="96.2" r="1.25"/><circle cx="85.6" cy="128.2" r="1.25"/><circle cx="92.6" cy="122.3" r="1.25"/><circle cx="91.4" cy="110.7" r="1.25"/><circle cx="93.9" cy="108.7" r="1.25"/><circle cx="86.0" cy="117.4" r="1.25"/><circle cx="92.9" cy="114.5" r="1.25"/><circle cx="97.1" cy="101.4" r="1.25"/><circle cx="91.4" cy="91.0" r="1.25"/><circle cx="91.7" cy="108.8" r="1.25"/><circle cx="93.0" cy="81.9" r="1.25"/><circle cx="90.4" cy="77.1" r="1.25"/><circle cx="93.8" cy="100.6" r="1.25"/><circle cx="94.5" cy="129.0" r="1.25"/><circle cx="97.5" cy="85.1" r="1.25"/><circle cx="90.5" cy="102.0" r="1.25"/><circle cx="94.7" cy="71.9" r="1.25"/><circle cx="86.7" cy="85.0" r="1.25"/><circle cx="86.0" cy="90.4" r="1.25"/><circle cx="86.9" cy="89.2" r="1.25"/><circle cx="87.9" cy="106.3" r="1.25"/><circle cx="95.2" cy="122.0" r="1.25"/><circle cx="86.1" cy="134.2" r="1.25"/><circle cx="93.0" cy="116.8" r="1.25"/><circle cx="87.8" cy="119.7" r="1.25"/><circle cx="94.6" cy="82.5" r="1.25"/><circle cx="87.4" cy="114.9" r="1.25"/><circle cx="83.0" cy="115.7" r="1.25"/><circle cx="94.4" cy="123.9" r="1.25"/><circle cx="83.2" cy="136.9" r="1.25"/><circle cx="93.6" cy="117.4" r="1.25"/><circle cx="91.8" cy="78.9" r="1.25"/><circle cx="85.6" cy="82.3" r="1.25"/><circle cx="86.1" cy="71.0" r="1.25"/><circle cx="89.5" cy="128.5" r="1.25"/><circle cx="95.2" cy="124.8" r="1.25"/><circle cx="95.7" cy="79.6" r="1.25"/><circle cx="89.6" cy="131.7" r="1.25"/><circle cx="85.0" cy="92.4" r="1.25"/><circle cx="88.3" cy="99.7" r="1.25"/><circle cx="93.5" cy="87.2" r="1.25"/><circle cx="86.0" cy="113.5" r="1.25"/><circle cx="90.2" cy="81.1" r="1.25"/><circle cx="91.8" cy="118.8" r="1.25"/><circle cx="95.8" cy="113.9" r="1.25"/><circle cx="88.2" cy="122.0" r="1.25"/><circle cx="91.5" cy="121.2" r="1.25"/><circle cx="84.8" cy="92.9" r="1.25"/><circle cx="94.2" cy="95.4" r="1.25"/><circle cx="86.3" cy="121.6" r="1.25"/><circle cx="83.2" cy="106.9" r="1.25"/><circle cx="89.1" cy="110.9" r="1.25"/><circle cx="94.0" cy="122.7" r="1.25"/><circle cx="96.5" cy="72.7" r="1.25"/><circle cx="97.8" cy="81.0" r="1.25"/><circle cx="84.2" cy="138.0" r="1.25"/><circle cx="84.5" cy="89.4" r="1.25"/><circle cx="90.6" cy="132.7" r="1.25"/><circle cx="90.2" cy="136.6" r="1.25"/><circle cx="95.2" cy="94.2" r="1.25"/><circle cx="87.6" cy="93.9" r="1.25"/><circle cx="93.9" cy="98.8" r="1.25"/><circle cx="91.5" cy="91.1" r="1.25"/><circle cx="94.8" cy="108.7" r="1.25"/><circle cx="89.1" cy="101.9" r="1.25"/><circle cx="89.5" cy="107.9" r="1.25"/><circle cx="83.6" cy="120.2" r="1.25"/><circle cx="82.6" cy="81.4" r="1.25"/><circle cx="96.4" cy="97.9" r="1.25"/><circle cx="92.1" cy="111.0" r="1.25"/><circle cx="90.9" cy="134.5" r="1.25"/><circle cx="85.8" cy="89.5" r="1.25"/><circle cx="85.7" cy="106.6" r="1.25"/><circle cx="83.3" cy="110.7" r="1.25"/><circle cx="94.3" cy="96.4" r="1.25"/><circle cx="84.5" cy="86.8" r="1.25"/><circle cx="84.8" cy="121.4" r="1.25"/><circle cx="89.1" cy="132.1" r="1.25"/><circle cx="88.3" cy="131.2" r="1.25"/><circle cx="86.3" cy="103.2" r="1.25"/><circle cx="96.4" cy="73.1" r="1.25"/><circle cx="83.4" cy="84.3" r="1.25"/><circle cx="87.9" cy="134.3" r="1.25"/><circle cx="96.7" cy="109.7" r="1.25"/><circle cx="85.7" cy="120.2" r="1.25"/><circle cx="93.2" cy="88.8" r="1.25"/><circle cx="85.4" cy="116.6" r="1.25"/><circle cx="90.7" cy="86.5" r="1.25"/><circle cx="94.2" cy="73.2" r="1.25"/><circle cx="84.3" cy="115.0" r="1.25"/><circle cx="91.5" cy="109.6" r="1.25"/><circle cx="88.7" cy="75.2" r="1.25"/><circle cx="88.2" cy="124.4" r="1.25"/><circle cx="85.4" cy="119.9" r="1.25"/><circle cx="88.4" cy="138.9" r="1.25"/><circle cx="82.2" cy="108.1" r="1.25"/><circle cx="82.0" cy="93.9" r="1.25"/><circle cx="85.0" cy="99.7" r="1.25"/><circle cx="87.2" cy="86.1" r="1.25"/><circle cx="86.6" cy="79.1" r="1.25"/><circle cx="84.2" cy="104.3" r="1.25"/><circle cx="97.4" cy="108.2" r="1.25"/><circle cx="95.9" cy="119.5" r="1.25"/><circle cx="92.4" cy="76.6" r="1.25"/><circle cx="97.9" cy="85.9" r="1.25"/><circle cx="94.0" cy="103.7" r="1.25"/><circle cx="83.8" cy="123.3" r="1.25"/><circle cx="94.7" cy="76.0" r="1.25"/><circle cx="87.8" cy="126.3" r="1.25"/><circle cx="82.4" cy="70.7" r="1.25"/><circle cx="91.4" cy="125.1" r="1.25"/><circle cx="93.5" cy="95.2" r="1.25"/><circle cx="82.1" cy="125.6" r="1.25"/><circle cx="96.0" cy="121.2" r="1.25"/><circle cx="93.0" cy="129.8" r="1.25"/><circle cx="92.3" cy="99.8" r="1.25"/><circle cx="94.5" cy="77.0" r="1.25"/><circle cx="88.2" cy="115.2" r="1.25"/><circle cx="84.7" cy="72.5" r="1.25"/><circle cx="97.7" cy="97.1" r="1.25"/><circle cx="96.5" cy="102.0" r="1.25"/><circle cx="86.2" cy="82.1" r="1.25"/><circle cx="86.9" cy="85.6" r="1.25"/><circle cx="87.0" cy="124.7" r="1.25"/><circle cx="93.6" cy="91.4" r="1.25"/><circle cx="96.9" cy="100.3" r="1.25"/><circle cx="94.4" cy="117.7" r="1.25"/><circle cx="88.7" cy="98.9" r="1.25"/><circle cx="98.7" cy="100.7" r="1.25"/><circle cx="88.1" cy="135.1" r="1.25"/><circle cx="83.2" cy="103.5" r="1.25"/><circle cx="89.7" cy="129.1" r="1.25"/><circle cx="84.8" cy="97.8" r="1.25"/><circle cx="93.9" cy="102.0" r="1.25"/><circle cx="86.5" cy="87.8" r="1.25"/><circle cx="90.2" cy="104.8" r="1.25"/><circle cx="82.9" cy="69.5" r="1.25"/><circle cx="94.1" cy="95.2" r="1.25"/><circle cx="82.3" cy="95.7" r="1.25"/><circle cx="85.3" cy="86.0" r="1.25"/><circle cx="85.2" cy="122.5" r="1.25"/><circle cx="84.9" cy="137.7" r="1.25"/><circle cx="82.3" cy="81.6" r="1.25"/><circle cx="90.6" cy="103.4" r="1.25"/><circle cx="91.2" cy="123.7" r="1.25"/><circle cx="82.9" cy="107.0" r="1.25"/><circle cx="84.7" cy="133.9" r="1.25"/><circle cx="85.0" cy="85.4" r="1.25"/><circle cx="92.5" cy="110.2" r="1.25"/><circle cx="86.4" cy="91.1" r="1.25"/><circle cx="90.5" cy="69.8" r="1.25"/><circle cx="83.8" cy="118.8" r="1.25"/><circle cx="94.8" cy="85.9" r="1.25"/><circle cx="84.0" cy="118.7" r="1.25"/><circle cx="89.0" cy="138.2" r="1.25"/><circle cx="86.7" cy="119.1" r="1.25"/><circle cx="86.5" cy="136.7" r="1.25"/><circle cx="97.2" cy="113.6" r="1.25"/><circle cx="84.3" cy="127.4" r="1.25"/><circle cx="85.3" cy="78.1" r="1.25"/><circle cx="96.0" cy="77.4" r="1.25"/><circle cx="89.8" cy="107.0" r="1.25"/><circle cx="90.4" cy="94.8" r="1.25"/><circle cx="94.3" cy="99.6" r="1.25"/><circle cx="96.7" cy="98.1" r="1.25"/><circle cx="93.2" cy="128.2" r="1.25"/><circle cx="84.5" cy="121.5" r="1.25"/><circle cx="96.3" cy="98.5" r="1.25"/><circle cx="91.7" cy="93.9" r="1.25"/><circle cx="95.9" cy="83.8" r="1.25"/><circle cx="88.1" cy="92.4" r="1.25"/><circle cx="83.2" cy="126.2" r="1.25"/><circle cx="88.1" cy="69.5" r="1.25"/><circle cx="83.9" cy="100.1" r="1.25"/><circle cx="95.1" cy="96.5" r="1.25"/><circle cx="93.1" cy="130.8" r="1.25"/><circle cx="83.0" cy="124.6" r="1.25"/><circle cx="89.6" cy="94.6" r="1.25"/><circle cx="93.4" cy="71.0" r="1.25"/><circle cx="95.3" cy="88.5" r="1.25"/><circle cx="86.0" cy="116.3" r="1.25"/><circle cx="89.6" cy="92.9" r="1.25"/><circle cx="82.2" cy="82.6" r="1.25"/><circle cx="85.9" cy="98.5" r="1.25"/><circle cx="95.4" cy="86.8" r="1.25"/><circle cx="87.9" cy="121.0" r="1.25"/><circle cx="93.1" cy="70.7" r="1.25"/><circle cx="83.7" cy="87.4" r="1.25"/><circle cx="94.8" cy="121.7" r="1.25"/><circle cx="91.3" cy="86.9" r="1.25"/><circle cx="88.2" cy="131.1" r="1.25"/><circle cx="84.7" cy="93.4" r="1.25"/><circle cx="95.0" cy="70.9" r="1.25"/><circle cx="84.4" cy="125.8" r="1.25"/><circle cx="85.0" cy="114.2" r="1.25"/><circle cx="87.4" cy="121.3" r="1.25"/><circle cx="89.9" cy="117.7" r="1.25"/><circle cx="90.8" cy="74.8" r="1.25"/><circle cx="82.7" cy="114.8" r="1.25"/><circle cx="86.0" cy="71.6" r="1.25"/><circle cx="96.2" cy="119.5" r="1.25"/><circle cx="96.6" cy="100.3" r="1.25"/><circle cx="86.0" cy="118.7" r="1.25"/><circle cx="96.4" cy="100.2" r="1.25"/><circle cx="90.5" cy="102.8" r="1.25"/><circle cx="84.2" cy="119.5" r="1.25"/><circle cx="90.8" cy="101.2" r="1.25"/><circle cx="93.2" cy="108.7" r="1.25"/><circle cx="90.1" cy="88.0" r="1.25"/><circle cx="83.7" cy="101.2" r="1.25"/><circle cx="95.2" cy="124.1" r="1.25"/><circle cx="88.6" cy="108.2" r="1.25"/><circle cx="89.7" cy="94.9" r="1.25"/><circle cx="86.6" cy="94.9" r="1.25"/><circle cx="85.9" cy="135.4" r="1.25"/><circle cx="93.1" cy="83.9" r="1.25"/><circle cx="87.1" cy="69.4" r="1.25"/><circle cx="95.3" cy="108.3" r="1.25"/><circle cx="82.9" cy="90.2" r="1.25"/><circle cx="82.1" cy="136.7" r="1.25"/><circle cx="90.7" cy="98.3" r="1.25"/><circle cx="85.5" cy="138.1" r="1.25"/><circle cx="86.8" cy="85.9" r="1.25"/><circle cx="84.5" cy="95.3" r="1.25"/><circle cx="88.0" cy="132.0" r="1.25"/><circle cx="86.0" cy="120.4" r="1.25"/><circle cx="95.8" cy="115.7" r="1.25"/><circle cx="98.2" cy="85.1" r="1.25"/><circle cx="94.2" cy="88.9" r="1.25"/><circle cx="87.0" cy="134.9" r="1.25"/><circle cx="86.3" cy="134.2" r="1.25"/><circle cx="97.7" cy="99.6" r="1.25"/><circle cx="82.8" cy="111.2" r="1.25"/><circle cx="90.7" cy="79.5" r="1.25"/><circle cx="83.0" cy="92.8" r="1.25"/><circle cx="86.4" cy="126.0" r="1.25"/><circle cx="86.2" cy="132.3" r="1.25"/><circle cx="89.0" cy="81.8" r="1.25"/><circle cx="94.0" cy="126.9" r="1.25"/><circle cx="86.1" cy="108.4" r="1.25"/><circle cx="86.3" cy="105.9" r="1.25"/><circle cx="82.1" cy="94.3" r="1.25"/><circle cx="95.5" cy="70.3" r="1.25"/><circle cx="85.4" cy="122.7" r="1.25"/><circle cx="82.6" cy="112.1" r="1.25"/><circle cx="90.1" cy="127.0" r="1.25"/><circle cx="88.3" cy="119.4" r="1.25"/><circle cx="95.9" cy="99.4" r="1.25"/><circle cx="83.3" cy="91.3" r="1.25"/><circle cx="96.5" cy="77.1" r="1.25"/><circle cx="83.1" cy="88.4" r="1.25"/><circle cx="84.1" cy="108.6" r="1.25"/><circle cx="95.1" cy="98.9" r="1.25"/><circle cx="89.2" cy="85.3" r="1.25"/><circle cx="91.5" cy="134.2" r="1.25"/><circle cx="82.5" cy="129.8" r="1.25"/><circle cx="87.6" cy="137.1" r="1.25"/><circle cx="97.9" cy="79.5" r="1.25"/><circle cx="97.7" cy="77.6" r="1.25"/><circle cx="83.1" cy="71.2" r="1.25"/><circle cx="92.2" cy="102.1" r="1.25"/><circle cx="95.1" cy="110.0" r="1.25"/><circle cx="93.4" cy="76.6" r="1.25"/><circle cx="98.2" cy="91.5" r="1.25"/><circle cx="92.8" cy="112.8" r="1.25"/><circle cx="96.6" cy="78.3" r="1.25"/><circle cx="85.5" cy="89.3" r="1.25"/><circle cx="95.3" cy="98.4" r="1.25"/><circle cx="90.0" cy="91.6" r="1.25"/><circle cx="85.9" cy="111.3" r="1.25"/><circle cx="88.4" cy="77.3" r="1.25"/><circle cx="91.9" cy="118.9" r="1.25"/><circle cx="93.1" cy="83.8" r="1.25"/><circle cx="91.2" cy="127.5" r="1.25"/><circle cx="82.7" cy="81.8" r="1.25"/><circle cx="89.0" cy="138.0" r="1.25"/><circle cx="94.6" cy="88.1" r="1.25"/><circle cx="92.1" cy="109.6" r="1.25"/><circle cx="93.4" cy="94.1" r="1.25"/><circle cx="88.5" cy="95.8" r="1.25"/><circle cx="94.5" cy="91.7" r="1.25"/><circle cx="85.7" cy="129.2" r="1.25"/><circle cx="85.9" cy="74.2" r="1.25"/><circle cx="87.0" cy="121.9" r="1.25"/><circle cx="94.1" cy="69.7" r="1.25"/><circle cx="83.1" cy="99.4" r="1.25"/><circle cx="89.2" cy="121.3" r="1.25"/><circle cx="92.8" cy="128.3" r="1.25"/><circle cx="93.7" cy="126.7" r="1.25"/><circle cx="95.8" cy="95.9" r="1.25"/><circle cx="92.8" cy="103.7" r="1.25"/><circle cx="92.6" cy="84.2" r="1.25"/><circle cx="95.2" cy="74.2" r="1.25"/><circle cx="91.4" cy="81.5" r="1.25"/><circle cx="92.8" cy="127.9" r="1.25"/><circle cx="87.4" cy="128.9" r="1.25"/><circle cx="97.0" cy="73.9" r="1.25"/><circle cx="96.7" cy="90.4" r="1.25"/><circle cx="89.5" cy="97.7" r="1.25"/><circle cx="90.9" cy="106.9" r="1.25"/><circle cx="90.1" cy="123.6" r="1.25"/><circle cx="90.7" cy="80.7" r="1.25"/><circle cx="95.3" cy="75.6" r="1.25"/><circle cx="88.0" cy="81.3" r="1.25"/><circle cx="87.5" cy="110.3" r="1.25"/><circle cx="91.3" cy="131.6" r="1.25"/><circle cx="89.3" cy="92.3" r="1.25"/><circle cx="89.3" cy="120.7" r="1.25"/><circle cx="87.2" cy="113.5" r="1.25"/><circle cx="91.5" cy="108.8" r="1.25"/><circle cx="86.1" cy="132.0" r="1.25"/><circle cx="84.9" cy="125.0" r="1.25"/><circle cx="85.9" cy="89.3" r="1.25"/><circle cx="83.0" cy="134.0" r="1.25"/><circle cx="90.0" cy="89.1" r="1.25"/><circle cx="91.7" cy="118.7" r="1.25"/><circle cx="88.2" cy="77.5" r="1.25"/><circle cx="84.1" cy="119.4" r="1.25"/><circle cx="95.1" cy="77.5" r="1.25"/><circle cx="83.1" cy="69.0" r="1.25"/><circle cx="95.8" cy="82.1" r="1.25"/><circle cx="89.3" cy="93.4" r="1.25"/><circle cx="96.5" cy="106.9" r="1.25"/><circle cx="84.9" cy="71.8" r="1.25"/><circle cx="92.9" cy="97.1" r="1.25"/><circle cx="89.0" cy="78.3" r="1.25"/><circle cx="83.0" cy="108.8" r="1.25"/><circle cx="83.0" cy="92.2" r="1.25"/><circle cx="82.1" cy="132.8" r="1.25"/><circle cx="92.0" cy="80.2" r="1.25"/><circle cx="91.8" cy="85.1" r="1.25"/><circle cx="98.8" cy="92.9" r="1.25"/><circle cx="87.7" cy="108.8" r="1.25"/><circle cx="89.9" cy="81.6" r="1.25"/><circle cx="92.0" cy="123.1" r="1.25"/><circle cx="89.6" cy="118.4" r="1.25"/><circle cx="86.3" cy="134.4" r="1.25"/><circle cx="97.5" cy="107.3" r="1.25"/><circle cx="88.5" cy="124.3" r="1.25"/><circle cx="92.5" cy="124.7" r="1.25"/><circle cx="88.8" cy="89.6" r="1.25"/><circle cx="87.3" cy="122.0" r="1.25"/><circle cx="91.1" cy="93.5" r="1.25"/><circle cx="86.0" cy="74.3" r="1.25"/><circle cx="84.4" cy="138.1" r="1.25"/><circle cx="82.1" cy="125.5" r="1.25"/><circle cx="90.8" cy="90.5" r="1.25"/><circle cx="98.0" cy="90.9" r="1.25"/><circle cx="85.1" cy="136.1" r="1.25"/><circle cx="96.8" cy="78.6" r="1.25"/><circle cx="89.1" cy="124.6" r="1.25"/><circle cx="82.1" cy="73.1" r="1.25"/><circle cx="92.2" cy="117.2" r="1.25"/><circle cx="87.6" cy="101.6" r="1.25"/><circle cx="88.3" cy="88.3" r="1.25"/><circle cx="92.4" cy="98.3" r="1.25"/><circle cx="87.7" cy="98.0" r="1.25"/><circle cx="93.2" cy="84.7" r="1.25"/><circle cx="84.0" cy="134.6" r="1.25"/><circle cx="91.0" cy="123.0" r="1.25"/><circle cx="84.3" cy="85.2" r="1.25"/><circle cx="83.9" cy="127.5" r="1.25"/><circle cx="83.4" cy="77.3" r="1.25"/><circle cx="87.1" cy="126.0" r="1.25"/><circle cx="86.0" cy="69.1" r="1.25"/><circle cx="89.8" cy="105.3" r="1.25"/><circle cx="95.7" cy="79.3" r="1.25"/><circle cx="86.1" cy="117.7" r="1.25"/><circle cx="86.3" cy="91.3" r="1.25"/><circle cx="90.9" cy="70.5" r="1.25"/><circle cx="93.2" cy="88.2" r="1.25"/><circle cx="86.2" cy="127.7" r="1.25"/><circle cx="88.2" cy="89.0" r="1.25"/><circle cx="82.8" cy="102.3" r="1.25"/><circle cx="87.3" cy="96.3" r="1.25"/><circle cx="95.1" cy="76.8" r="1.25"/><circle cx="89.2" cy="117.7" r="1.25"/><circle cx="93.1" cy="74.1" r="1.25"/><circle cx="97.0" cy="95.6" r="1.25"/><circle cx="85.7" cy="114.3" r="1.25"/><circle cx="90.4" cy="121.6" r="1.25"/><circle cx="95.5" cy="93.8" r="1.25"/><circle cx="84.4" cy="92.1" r="1.25"/><circle cx="91.1" cy="72.0" r="1.25"/><circle cx="84.7" cy="88.1" r="1.25"/><circle cx="93.5" cy="72.3" r="1.25"/><circle cx="96.6" cy="88.5" r="1.25"/><circle cx="91.7" cy="131.5" r="1.25"/><circle cx="98.0" cy="84.7" r="1.25"/><circle cx="95.2" cy="112.6" r="1.25"/><circle cx="85.7" cy="132.6" r="1.25"/><circle cx="97.2" cy="95.3" r="1.25"/><circle cx="83.7" cy="89.3" r="1.25"/><circle cx="90.2" cy="71.7" r="1.25"/><circle cx="104.7" cy="80.2" r="1.25"/><circle cx="92.4" cy="55.9" r="1.25"/><circle cx="99.6" cy="113.4" r="1.25"/><circle cx="98.2" cy="123.3" r="1.25"/><circle cx="102.8" cy="126.5" r="1.25"/><circle cx="97.5" cy="125.7" r="1.25"/><circle cx="100.7" cy="87.7" r="1.25"/><circle cx="97.7" cy="73.0" r="1.25"/><circle cx="100.3" cy="97.6" r="1.25"/><circle cx="99.2" cy="86.8" r="1.25"/><circle cx="93.5" cy="135.4" r="1.25"/><circle cx="99.9" cy="94.4" r="1.25"/><circle cx="102.3" cy="100.6" r="1.25"/><circle cx="95.7" cy="131.9" r="1.25"/><circle cx="94.7" cy="131.9" r="1.25"/><circle cx="99.9" cy="93.8" r="1.25"/><circle cx="93.3" cy="134.2" r="1.25"/><circle cx="100.4" cy="73.4" r="1.25"/><circle cx="97.6" cy="74.5" r="1.25"/><circle cx="100.4" cy="85.2" r="1.25"/><circle cx="99.6" cy="92.3" r="1.25"/><circle cx="99.5" cy="83.5" r="1.25"/><circle cx="97.9" cy="69.4" r="1.25"/><circle cx="97.7" cy="73.7" r="1.25"/><circle cx="98.7" cy="131.2" r="1.25"/><circle cx="100.7" cy="86.1" r="1.25"/><circle cx="93.5" cy="63.0" r="1.25"/><circle cx="105.4" cy="97.1" r="1.25"/><circle cx="94.2" cy="61.4" r="1.25"/><circle cx="96.5" cy="120.1" r="1.25"/><circle cx="99.4" cy="103.1" r="1.25"/><circle cx="100.8" cy="116.8" r="1.25"/><circle cx="98.5" cy="127.4" r="1.25"/><circle cx="95.4" cy="62.2" r="1.25"/><circle cx="99.7" cy="100.9" r="1.25"/><circle cx="98.2" cy="71.5" r="1.25"/><circle cx="100.1" cy="89.6" r="1.25"/><circle cx="93.9" cy="133.2" r="1.25"/><circle cx="95.9" cy="125.2" r="1.25"/><circle cx="99.1" cy="111.6" r="1.25"/><circle cx="100.4" cy="87.3" r="1.25"/><circle cx="95.5" cy="65.9" r="1.25"/><circle cx="99.5" cy="88.8" r="1.25"/><circle cx="98.3" cy="124.3" r="1.25"/><circle cx="101.0" cy="106.6" r="1.25"/><circle cx="96.1" cy="68.3" r="1.25"/><circle cx="97.6" cy="61.5" r="1.25"/><circle cx="107.0" cy="95.0" r="1.25"/><circle cx="99.6" cy="81.6" r="1.25"/><circle cx="102.3" cy="108.2" r="1.25"/><circle cx="100.5" cy="90.1" r="1.25"/><circle cx="99.5" cy="84.2" r="1.25"/><circle cx="99.7" cy="129.3" r="1.25"/><circle cx="99.3" cy="90.8" r="1.25"/><circle cx="96.7" cy="126.4" r="1.25"/><circle cx="98.2" cy="116.3" r="1.25"/><circle cx="95.9" cy="61.6" r="1.25"/><circle cx="99.9" cy="63.7" r="1.25"/><circle cx="97.1" cy="68.9" r="1.25"/><circle cx="91.6" cy="55.3" r="1.25"/><circle cx="98.4" cy="108.3" r="1.25"/><circle cx="94.3" cy="64.3" r="1.25"/><circle cx="92.9" cy="56.1" r="1.25"/><circle cx="100.3" cy="73.5" r="1.25"/><circle cx="99.5" cy="110.6" r="1.25"/><circle cx="101.7" cy="131.1" r="1.25"/><circle cx="101.6" cy="80.2" r="1.25"/><circle cx="98.2" cy="111.9" r="1.25"/><circle cx="96.7" cy="119.3" r="1.25"/><circle cx="103.2" cy="110.2" r="1.25"/><circle cx="100.8" cy="108.4" r="1.25"/><circle cx="99.3" cy="109.0" r="1.25"/><circle cx="95.1" cy="64.1" r="1.25"/><circle cx="102.0" cy="80.5" r="1.25"/><circle cx="102.8" cy="127.1" r="1.25"/><circle cx="103.5" cy="82.3" r="1.25"/><circle cx="94.7" cy="129.1" r="1.25"/><circle cx="99.2" cy="99.9" r="1.25"/><circle cx="94.2" cy="61.5" r="1.25"/><circle cx="98.0" cy="112.8" r="1.25"/><circle cx="99.9" cy="81.4" r="1.25"/><circle cx="99.3" cy="99.7" r="1.25"/><circle cx="96.3" cy="69.2" r="1.25"/><circle cx="108.2" cy="81.4" r="1.25"/><circle cx="99.6" cy="70.3" r="1.25"/><circle cx="102.5" cy="108.2" r="1.25"/><circle cx="96.5" cy="120.9" r="1.25"/><circle cx="102.5" cy="82.0" r="1.25"/><circle cx="102.5" cy="108.0" r="1.25"/><circle cx="95.8" cy="57.6" r="1.25"/></g><g fill="#c80a2a" ><circle cx="102.0" cy="48.3" r="1.2"/><circle cx="109.4" cy="49.0" r="1.2"/><circle cx="96.5" cy="51.0" r="1.2"/><circle cx="92.5" cy="54.4" r="1.2"/><circle cx="101.5" cy="54.4" r="1.2"/><circle cx="86.0" cy="57.5" r="1.2"/><circle cx="90.0" cy="58.0" r="1.2"/><circle cx="94.5" cy="57.0" r="1.2"/><circle cx="85.0" cy="62.6" r="1.2"/><circle cx="89.0" cy="61.0" r="1.2"/><circle cx="97.0" cy="60.0" r="1.2"/><circle cx="100.0" cy="62.0" r="1.2"/><circle cx="92.0" cy="63.5" r="1.2"/><circle cx="83.5" cy="66.0" r="1.2"/><circle cx="104.5" cy="70.0" r="1.2"/><circle cx="106.0" cy="76.0" r="1.2"/><circle cx="107.0" cy="81.5" r="1.2"/><circle cx="110.0" cy="92.3" r="1.2"/><circle cx="107.5" cy="105.5" r="1.2"/><circle cx="108.0" cy="108.0" r="1.2"/><circle cx="101.0" cy="110.0" r="1.2"/><circle cx="105.0" cy="88.0" r="1.2"/><circle cx="104.5" cy="98.0" r="1.2"/><circle cx="103.0" cy="66.0" r="1.2"/><circle cx="98.0" cy="64.0" r="1.2"/></g><rect x="38.5" y="43.4" width="80.2" height="112.8" fill="none" stroke="#111" stroke-width="1.1"/><g stroke="#808080" stroke-width="1.1" stroke-dasharray="1.6,2.4" fill="none"><line x1="75.0" y1="44" x2="75.0" y2="156"/><line x1="82.4" y1="44" x2="82.4" y2="156"/><line x1="39" y1="139" x2="118.5" y2="139"/></g><line x1="35.3" y1="151.6" x2="38.5" y2="151.6" stroke="#111" stroke-width="0.9"/><text x="32.7" y="154.7" font-size="8.3" text-anchor="end" fill="#2a2a2a" stroke="#2a2a2a" font-weight="normal" >0</text><line x1="35.3" y1="122.9" x2="38.5" y2="122.9" stroke="#111" stroke-width="0.9"/><text x="32.7" y="126.0" font-size="8.3" text-anchor="end" fill="#2a2a2a" stroke="#2a2a2a" font-weight="normal" >3</text><line x1="35.3" y1="94" x2="38.5" y2="94" stroke="#111" stroke-width="0.9"/><text x="32.7" y="97.1" font-size="8.3" text-anchor="end" fill="#2a2a2a" stroke="#2a2a2a" font-weight="normal" >6</text><line x1="35.3" y1="65.3" x2="38.5" y2="65.3" stroke="#111" stroke-width="0.9"/><text x="32.7" y="68.39999999999999" font-size="8.3" text-anchor="end" fill="#2a2a2a" stroke="#2a2a2a" font-weight="normal" >9</text><line x1="42" y1="156.2" x2="42" y2="159.2" stroke="#111" stroke-width="0.9"/><line x1="54.2" y1="156.2" x2="54.2" y2="159.2" stroke="#111" stroke-width="0.9"/><line x1="66.3" y1="156.2" x2="66.3" y2="159.2" stroke="#111" stroke-width="0.9"/><line x1="78.5" y1="156.2" x2="78.5" y2="159.2" stroke="#111" stroke-width="0.9"/><line x1="90.7" y1="156.2" x2="90.7" y2="159.2" stroke="#111" stroke-width="0.9"/><line x1="102.9" y1="156.2" x2="102.9" y2="159.2" stroke="#111" stroke-width="0.9"/><line x1="115" y1="156.2" x2="115" y2="159.2" stroke="#111" stroke-width="0.9"/><text x="31.90" y="169.80" font-size="8.5" fill="#2a2a2a" stroke="#2a2a2a" font-weight="normal" textLength="12.50" lengthAdjust="spacingAndGlyphs" >−15</text><text x="47.00" y="169.80" font-size="8.5" fill="#2a2a2a" stroke="#2a2a2a" font-weight="normal" textLength="12.60" lengthAdjust="spacingAndGlyphs" >−10</text><text x="63.00" y="169.80" font-size="8.5" fill="#2a2a2a" stroke="#2a2a2a" font-weight="normal" textLength="8.30" lengthAdjust="spacingAndGlyphs" >−5</text><text x="76.60" y="169.80" font-size="8.5" fill="#2a2a2a" stroke="#2a2a2a" font-weight="normal" textLength="3.70" lengthAdjust="spacingAndGlyphs" >0</text><text x="88.90" y="169.80" font-size="8.5" fill="#2a2a2a" stroke="#2a2a2a" font-weight="normal" textLength="3.60" lengthAdjust="spacingAndGlyphs" >5</text><text x="99.50" y="169.80" font-size="8.5" fill="#2a2a2a" stroke="#2a2a2a" font-weight="normal" textLength="8.20" lengthAdjust="spacingAndGlyphs" >10</text><text x="111.40" y="169.80" font-size="8.5" fill="#2a2a2a" stroke="#2a2a2a" font-weight="normal" textLength="8.20" lengthAdjust="spacingAndGlyphs" >15</text><text x="69.80" y="182.30" font-size="8.2" fill="#2a2a2a" stroke="#2a2a2a" font-weight="normal" textLength="20.20" lengthAdjust="spacingAndGlyphs" >LogFC</text><text transform="translate(22.2,102.7) rotate(-90)" font-size="8.6" text-anchor="middle" fill="#2a2a2a" stroke="#2a2a2a" textLength="65" lengthAdjust="spacingAndGlyphs">-log10(Adj <tspan font-style="italic">P</tspan>.value)</text><circle cx="43.5" cy="29.3" r="1.35" fill="#111"/><text x="48.10" y="31.10" font-size="6.8" fill="#2a2a2a" stroke="#2a2a2a" font-weight="normal" textLength="18.10" lengthAdjust="spacingAndGlyphs" >down</text><text x="44.20" y="40.80" font-size="7.3" fill="#3d6898" stroke="#3d6898" font-weight="normal" textLength="26.60" lengthAdjust="spacingAndGlyphs" >n = 760</text><circle cx="93.2" cy="29.3" r="1.35" fill="#7a1020"/><text x="96.20" y="31.10" font-size="6.8" fill="#2a2a2a" stroke="#2a2a2a" font-weight="normal" textLength="8.50" lengthAdjust="spacingAndGlyphs" >up</text><text x="85.10" y="40.80" font-size="7.3" fill="#b02a4c" stroke="#b02a4c" font-weight="normal" textLength="31.10" lengthAdjust="spacingAndGlyphs" >n = 1019</text><rect x="148.5" y="42.2" width="38.10" height="10.60" fill="#fef6f3"/><rect x="148.5" y="52.8" width="38.10" height="30.00" fill="#fdede6"/><rect x="148.5" y="82.8" width="38.10" height="35.20" fill="#fde1d6"/><rect x="148.5" y="118" width="38.10" height="10.00" fill="#f9d4c5"/><rect x="148.5" y="128" width="38.10" height="20.20" fill="#f4f8f6"/><rect x="148.5" y="148.2" width="38.10" height="11.00" fill="#dce8e8"/><rect x="148.5" y="42.2" width="38.10" height="117" fill="none" stroke="#2a2a2a" stroke-width="1.1"/><rect x="189.4" y="42.2" width="38.10" height="10.60" fill="#fef6f3"/><rect x="189.4" y="52.8" width="38.10" height="30.00" fill="#fdede6"/><rect x="189.4" y="82.8" width="38.10" height="35.20" fill="#fde1d6"/><rect x="189.4" y="118" width="38.10" height="10.00" fill="#f9d4c5"/><rect x="189.4" y="128" width="38.10" height="20.20" fill="#f4f8f6"/><rect x="189.4" y="148.2" width="38.10" height="11.00" fill="#dce8e8"/><rect x="189.4" y="42.2" width="38.10" height="117" fill="none" stroke="#2a2a2a" stroke-width="1.1"/><line x1="162.2" y1="39.4" x2="162.2" y2="42.2" stroke="#333" stroke-width="0.8"/><line x1="162.2" y1="159.2" x2="162.2" y2="162" stroke="#333" stroke-width="0.8"/><line x1="185.3" y1="39.4" x2="185.3" y2="42.2" stroke="#333" stroke-width="0.8"/><line x1="185.3" y1="159.2" x2="185.3" y2="162" stroke="#333" stroke-width="0.8"/><line x1="190.7" y1="39.4" x2="190.7" y2="42.2" stroke="#333" stroke-width="0.8"/><line x1="190.7" y1="159.2" x2="190.7" y2="162" stroke="#333" stroke-width="0.8"/><line x1="214.1" y1="39.4" x2="214.1" y2="42.2" stroke="#333" stroke-width="0.8"/><line x1="214.1" y1="159.2" x2="214.1" y2="162" stroke="#333" stroke-width="0.8"/><text x="157.70" y="33.90" font-size="8.4" fill="#2a2a2a" stroke="#2a2a2a" font-weight="normal" textLength="8.50" lengthAdjust="spacingAndGlyphs" >−2</text><text x="178.50" y="33.90" font-size="8.4" fill="#2a2a2a" stroke="#2a2a2a" font-weight="normal" textLength="8.00" lengthAdjust="spacingAndGlyphs" >−1</text><text x="189.40" y="33.90" font-size="8.4" fill="#2a2a2a" stroke="#2a2a2a" font-weight="normal" textLength="2.90" lengthAdjust="spacingAndGlyphs" >1</text><text x="212.30" y="33.90" font-size="8.4" fill="#2a2a2a" stroke="#2a2a2a" font-weight="normal" textLength="3.90" lengthAdjust="spacingAndGlyphs" >2</text><text x="157.70" y="172.00" font-size="8.4" fill="#2a2a2a" stroke="#2a2a2a" font-weight="normal" textLength="8.50" lengthAdjust="spacingAndGlyphs" >−2</text><text x="178.50" y="172.00" font-size="8.4" fill="#2a2a2a" stroke="#2a2a2a" font-weight="normal" textLength="8.00" lengthAdjust="spacingAndGlyphs" >−1</text><text x="189.40" y="172.00" font-size="8.4" fill="#2a2a2a" stroke="#2a2a2a" font-weight="normal" textLength="2.90" lengthAdjust="spacingAndGlyphs" >1</text><text x="212.30" y="172.00" font-size="8.4" fill="#2a2a2a" stroke="#2a2a2a" font-weight="normal" textLength="3.90" lengthAdjust="spacingAndGlyphs" >2</text><text x="180.80" y="184.90" font-size="9.2" fill="#2a2a2a" stroke="#2a2a2a" font-weight="normal" textLength="13.40" lengthAdjust="spacingAndGlyphs" >NES</text><text x="155.40" y="17.30" font-size="8.6" fill="#2a2a2a" stroke="#2a2a2a" font-weight="normal" textLength="67.10" lengthAdjust="spacingAndGlyphs" >lymphoma IL-10</text><path d="M171.5,22.4 C168.4,24.6 168,28.6 169.9,31.8" fill="none" stroke="#1a1a1a" stroke-width="0.9"/><path d="M171.7,35.3 L167.5,32.7 L171.2,30.6 Z" fill="#1a1a1a"/><path d="M208.5,22.4 C211.6,25 211.6,30.2 209.2,33.8" fill="none" stroke="#1a1a1a" stroke-width="0.9"/><path d="M206,32.4 L210.4,36.6" fill="none" stroke="#1a1a1a" stroke-width="1.1"/><line x1="227.5" y1="44.90" x2="230.6" y2="44.90" stroke="#222" stroke-width="0.9"/><text x="233.7" y="46.85" font-size="5.45" text-anchor="start" fill="#333" stroke="#333" font-weight="normal" >MM16189</text><line x1="227.5" y1="49.94" x2="230.6" y2="49.94" stroke="#222" stroke-width="0.9"/><text x="233.7" y="51.89" font-size="5.45" text-anchor="start" fill="#333" stroke="#333" font-weight="normal" >MM3878</text><line x1="227.5" y1="54.98" x2="230.6" y2="54.98" stroke="#222" stroke-width="0.9"/><text x="233.7" y="56.93" font-size="5.45" text-anchor="start" fill="#333" stroke="#333" font-weight="normal" >MM1255</text><line x1="227.5" y1="60.02" x2="230.6" y2="60.02" stroke="#222" stroke-width="0.9"/><text x="233.7" y="61.97" font-size="5.45" text-anchor="start" fill="#333" stroke="#333" font-weight="normal" >MM13718</text><line x1="227.5" y1="65.06" x2="230.6" y2="65.06" stroke="#222" stroke-width="0.9"/><text x="233.7" y="67.01" font-size="5.45" text-anchor="start" fill="#333" stroke="#333" font-weight="normal" >MM4212</text><line x1="227.5" y1="70.10" x2="230.6" y2="70.10" stroke="#222" stroke-width="0.9"/><text x="233.7" y="72.05" font-size="5.45" text-anchor="start" fill="#333" stroke="#333" font-weight="normal" >MM4280</text><line x1="227.5" y1="75.14" x2="230.6" y2="75.14" stroke="#222" stroke-width="0.9"/><text x="233.7" y="77.09" font-size="5.45" text-anchor="start" fill="#333" stroke="#333" font-weight="normal" >MM4994</text><line x1="227.5" y1="80.18" x2="230.6" y2="80.18" stroke="#222" stroke-width="0.9"/><text x="233.7" y="82.13" font-size="5.45" text-anchor="start" fill="#333" stroke="#333" font-weight="normal" >MMU04612</text><line x1="227.5" y1="85.22" x2="230.6" y2="85.22" stroke="#222" stroke-width="0.9"/><text x="233.7" y="87.17" font-size="5.45" text-anchor="start" fill="#333" stroke="#333" font-weight="normal" >MM13037</text><line x1="227.5" y1="90.26" x2="230.6" y2="90.26" stroke="#222" stroke-width="0.9"/><text x="233.7" y="92.21" font-size="5.45" text-anchor="start" fill="#333" stroke="#333" font-weight="normal" >MM4072</text><line x1="227.5" y1="95.30" x2="230.6" y2="95.30" stroke="#222" stroke-width="0.9"/><text x="233.7" y="97.25" font-size="5.45" text-anchor="start" fill="#333" stroke="#333" font-weight="normal" >MM6299</text><line x1="227.5" y1="100.34" x2="230.6" y2="100.34" stroke="#222" stroke-width="0.9"/><text x="233.7" y="102.29" font-size="5.45" text-anchor="start" fill="#333" stroke="#333" font-weight="normal" >MM6618</text><line x1="227.5" y1="105.38" x2="230.6" y2="105.38" stroke="#222" stroke-width="0.9"/><text x="233.7" y="107.33" font-size="5.45" text-anchor="start" fill="#333" stroke="#333" font-weight="normal" >MM6655</text><line x1="227.5" y1="110.42" x2="230.6" y2="110.42" stroke="#222" stroke-width="0.9"/><text x="233.7" y="112.37" font-size="5.45" text-anchor="start" fill="#333" stroke="#333" font-weight="normal" >MM6664</text><line x1="227.5" y1="115.46" x2="230.6" y2="115.46" stroke="#222" stroke-width="0.9"/><text x="233.7" y="117.41" font-size="5.45" text-anchor="start" fill="#333" stroke="#333" font-weight="normal" >MM6672</text><line x1="227.5" y1="120.50" x2="230.6" y2="120.50" stroke="#222" stroke-width="0.9"/><text x="233.7" y="122.45" font-size="5.45" text-anchor="start" fill="#333" stroke="#333" font-weight="normal" >MM3866</text><line x1="227.5" y1="125.54" x2="230.6" y2="125.54" stroke="#222" stroke-width="0.9"/><text x="233.7" y="127.49" font-size="5.45" text-anchor="start" fill="#333" stroke="#333" font-weight="normal" >MM16783783</text><line x1="227.5" y1="130.58" x2="230.6" y2="130.58" stroke="#222" stroke-width="0.9"/><text x="233.7" y="132.53" font-size="5.45" text-anchor="start" fill="#333" stroke="#333" font-weight="normal" >MM7655</text><line x1="227.5" y1="135.62" x2="230.6" y2="135.62" stroke="#222" stroke-width="0.9"/><text x="233.7" y="137.57" font-size="5.45" text-anchor="start" fill="#333" stroke="#333" font-weight="normal" >MM8345</text><line x1="227.5" y1="140.66" x2="230.6" y2="140.66" stroke="#222" stroke-width="0.9"/><text x="233.7" y="142.61" font-size="5.45" text-anchor="start" fill="#333" stroke="#333" font-weight="normal" >MM9275</text><line x1="227.5" y1="145.70" x2="230.6" y2="145.70" stroke="#222" stroke-width="0.9"/><text x="233.7" y="147.65" font-size="5.45" text-anchor="start" fill="#333" stroke="#333" font-weight="normal" >MM9623</text><line x1="227.5" y1="150.74" x2="230.6" y2="150.74" stroke="#222" stroke-width="0.9"/><text x="233.7" y="152.69" font-size="5.45" text-anchor="start" fill="#333" stroke="#333" font-weight="normal" >MM13127</text><line x1="227.5" y1="155.78" x2="230.6" y2="155.78" stroke="#222" stroke-width="0.9"/><text x="233.7" y="157.73" font-size="5.45" text-anchor="start" fill="#333" stroke="#333" font-weight="normal" >MM5436</text><circle cx="165.9" cy="44.9" r="1.4" fill="#fbfaff" stroke="#555" stroke-width="0.95"/><circle cx="155.9" cy="50" r="2.3" fill="#2c1a6e" stroke="#555" stroke-width="0.95"/><circle cx="174.4" cy="55" r="2.8" fill="#fbfaff" stroke="#555" stroke-width="0.95"/><circle cx="169.7" cy="60" r="2.4" fill="#fbfaff" stroke="#555" stroke-width="0.95"/><circle cx="172.3" cy="65" r="2.4" fill="#fbfaff" stroke="#555" stroke-width="0.95"/><circle cx="169.3" cy="70" r="2.4" fill="#fbfaff" stroke="#555" stroke-width="0.95"/><circle cx="172.9" cy="75.1" r="2.6" fill="#fbfaff" stroke="#555" stroke-width="0.95"/><circle cx="160.2" cy="80.2" r="1.5" fill="#8a7fa0" stroke="#555" stroke-width="0.95"/><circle cx="166.5" cy="85.3" r="1.8" fill="#fbfaff" stroke="#555" stroke-width="0.95"/><circle cx="171.4" cy="90.3" r="2.8" fill="#fbfaff" stroke="#555" stroke-width="0.95"/><circle cx="166.5" cy="95.3" r="1.8" fill="#fbfaff" stroke="#555" stroke-width="0.95"/><circle cx="165.9" cy="100.3" r="1.6" fill="#fbfaff" stroke="#555" stroke-width="0.95"/><circle cx="164" cy="105.4" r="1.5" fill="#fbfaff" stroke="#555" stroke-width="0.95"/><circle cx="163.8" cy="110.4" r="1.5" fill="#fbfaff" stroke="#555" stroke-width="0.95"/><circle cx="164.6" cy="115.5" r="1.8" fill="#fbfaff" stroke="#555" stroke-width="0.95"/><circle cx="171.4" cy="120.6" r="1.8" fill="#fbfaff" stroke="#555" stroke-width="0.95"/><circle cx="164.6" cy="125.7" r="1.4" fill="#9a7e8e" stroke="#555" stroke-width="0.95"/><circle cx="164" cy="155.8" r="1.4" fill="#c8c0d4" stroke="#555" stroke-width="0.95"/><circle cx="202.6" cy="153.0" r="3.2" fill="#e6e2f0" stroke="#555" stroke-width="0.95"/><circle cx="202.0" cy="148.5" r="3.2" fill="#e6e2f0" stroke="#555" stroke-width="0.95"/><circle cx="201.8" cy="144.0" r="3.2" fill="#e6e2f0" stroke="#555" stroke-width="0.95"/><circle cx="202.6" cy="139.5" r="3.2" fill="#e6e2f0" stroke="#555" stroke-width="0.95"/><circle cx="202.3" cy="135.2" r="3.0" fill="#e6e2f0" stroke="#555" stroke-width="0.95"/><circle cx="206.0" cy="130.6" r="1.9" fill="#e6e2f0" stroke="#555" stroke-width="0.95"/><text x="278.90" y="41.20" font-size="7.3" fill="#2a2a2a" stroke="#2a2a2a" font-weight="normal" textLength="32.90" lengthAdjust="spacingAndGlyphs" >Category</text><rect x="279.4" y="45.30" width="8.2" height="8.45" fill="#fdf6f3" stroke="#4a3a36" stroke-width="0.7"/><text x="291.10" y="50.70" font-size="6.9" fill="#2a2a2a" stroke="#2a2a2a" font-weight="normal" textLength="83.90" lengthAdjust="spacingAndGlyphs" >Interferon gamma (IFNG)</text><rect x="279.4" y="53.75" width="8.2" height="8.45" fill="#fbe6e0" stroke="#4a3a36" stroke-width="0.7"/><text x="291.10" y="59.50" font-size="6.9" fill="#2a2a2a" stroke="#2a2a2a" font-weight="normal" textLength="88.40" lengthAdjust="spacingAndGlyphs" >Antigen Presentation (AP)</text><rect x="279.4" y="62.20" width="8.2" height="8.45" fill="#fcdccf" stroke="#4a3a36" stroke-width="0.7"/><text x="291.10" y="68.30" font-size="6.9" fill="#2a2a2a" stroke="#2a2a2a" font-weight="normal" textLength="78.90" lengthAdjust="spacingAndGlyphs" >Cytokine Release (CCK)</text><rect x="279.4" y="70.65" width="8.2" height="8.45" fill="#f9d0c0" stroke="#4a3a36" stroke-width="0.7"/><text x="291.10" y="77.10" font-size="6.9" fill="#2a2a2a" stroke="#2a2a2a" font-weight="normal" textLength="70.90" lengthAdjust="spacingAndGlyphs" >IL-10 signaling (IL-10)</text><rect x="279.4" y="79.10" width="8.2" height="8.45" fill="#f4f8f6" stroke="#4a3a36" stroke-width="0.7"/><text x="291.10" y="85.90" font-size="6.9" fill="#2a2a2a" stroke="#2a2a2a" font-weight="normal" textLength="74.90" lengthAdjust="spacingAndGlyphs" >Angiogenesis (ANGIO)</text><rect x="279.4" y="87.55" width="8.2" height="8.45" fill="#d6e6e3" stroke="#4a3a36" stroke-width="0.7"/><text x="291.10" y="94.70" font-size="6.9" fill="#2a2a2a" stroke="#2a2a2a" font-weight="normal" textLength="84.90" lengthAdjust="spacingAndGlyphs" >Calcium ion activity (CAL)</text><text x="282.50" y="116.60" font-size="6.8" fill="#2a2a2a" stroke="#2a2a2a" font-weight="normal" textLength="24.00" lengthAdjust="spacingAndGlyphs" >setSize</text><circle cx="286.3" cy="124.9" r="1.5" fill="#111"/><text x="294.70" y="128.10" font-size="8.2" fill="#2a2a2a" stroke="#2a2a2a" font-weight="normal" textLength="12.20" lengthAdjust="spacingAndGlyphs" >100</text><circle cx="286.3" cy="132.9" r="2.0" fill="#111"/><text x="294.70" y="136.10" font-size="8.2" fill="#2a2a2a" stroke="#2a2a2a" font-weight="normal" textLength="12.20" lengthAdjust="spacingAndGlyphs" >200</text><circle cx="286.3" cy="140.7" r="2.35" fill="#111"/><text x="294.70" y="143.90" font-size="8.2" fill="#2a2a2a" stroke="#2a2a2a" font-weight="normal" textLength="12.20" lengthAdjust="spacingAndGlyphs" >300</text><circle cx="286.3" cy="148.9" r="2.9" fill="#111"/><text x="294.70" y="152.10" font-size="8.2" fill="#2a2a2a" stroke="#2a2a2a" font-weight="normal" textLength="12.20" lengthAdjust="spacingAndGlyphs" >400</text><text x="318.00" y="114.80" font-size="6.8" fill="#2a2a2a" stroke="#2a2a2a" font-weight="normal" textLength="27.30" lengthAdjust="spacingAndGlyphs" >P.adjust</text><defs><linearGradient id="pg" x1="0" y1="0" x2="0" y2="1"><stop offset="0" stop-color="#f2f0f7"/><stop offset="0.35" stop-color="#d3cfe7"/><stop offset="0.65" stop-color="#a29cca"/><stop offset="0.87" stop-color="#6a51a3"/><stop offset="1" stop-color="#3f0a7a"/></linearGradient></defs><rect x="318.8" y="119.6" width="8" height="39.9" fill="url(#pg)"/><line x1="319" y1="126.9" x2="320.5" y2="126.9" stroke="#fff" stroke-width="0.5"/><line x1="325.2" y1="126.9" x2="326.7" y2="126.9" stroke="#fff" stroke-width="0.5"/><text x="330.00" y="129.85" font-size="8.2" fill="#2a2a2a" stroke="#2a2a2a" font-weight="normal" textLength="15.60" lengthAdjust="spacingAndGlyphs" >0.04</text><line x1="319" y1="135.2" x2="320.5" y2="135.2" stroke="#fff" stroke-width="0.5"/><line x1="325.2" y1="135.2" x2="326.7" y2="135.2" stroke="#fff" stroke-width="0.5"/><text x="330.00" y="138.15" font-size="8.2" fill="#2a2a2a" stroke="#2a2a2a" font-weight="normal" textLength="15.60" lengthAdjust="spacingAndGlyphs" >0.03</text><line x1="319" y1="144.3" x2="320.5" y2="144.3" stroke="#fff" stroke-width="0.5"/><line x1="325.2" y1="144.3" x2="326.7" y2="144.3" stroke="#fff" stroke-width="0.5"/><text x="330.00" y="147.25" font-size="8.2" fill="#2a2a2a" stroke="#2a2a2a" font-weight="normal" textLength="15.60" lengthAdjust="spacingAndGlyphs" >0.02</text><line x1="319" y1="152.5" x2="320.5" y2="152.5" stroke="#fff" stroke-width="0.5"/><line x1="325.2" y1="152.5" x2="326.7" y2="152.5" stroke="#fff" stroke-width="0.5"/><text x="330.00" y="155.45" font-size="8.2" fill="#2a2a2a" stroke="#2a2a2a" font-weight="normal" textLength="15.60" lengthAdjust="spacingAndGlyphs" >0.01</text><rect x="408.80" y="55.30" width="9.75" height="11.80" fill="#f3f7fc"/><rect x="437.40" y="55.30" width="9.75" height="11.80" fill="#2575c0"/><rect x="417.55" y="55.30" width="9.75" height="11.80" fill="#dfe8f4"/><rect x="446.15" y="55.30" width="9.75" height="11.80" fill="#0a3574"/><rect x="426.30" y="55.30" width="8.75" height="11.80" fill="#f3f7fc"/><rect x="454.90" y="55.30" width="8.75" height="11.80" fill="#0a3574"/><rect x="408.80" y="66.10" width="9.75" height="11.80" fill="#f3f7fc"/><rect x="437.40" y="66.10" width="9.75" height="11.80" fill="#1a60ac"/><rect x="417.55" y="66.10" width="9.75" height="11.80" fill="#dfe8f4"/><rect x="446.15" y="66.10" width="9.75" height="11.80" fill="#0a3574"/><rect x="426.30" y="66.10" width="8.75" height="11.80" fill="#f3f7fc"/><rect x="454.90" y="66.10" width="8.75" height="11.80" fill="#0a3574"/><rect x="408.80" y="76.90" width="9.75" height="11.80" fill="#f3f7fc"/><rect x="437.40" y="76.90" width="9.75" height="11.80" fill="#165aa8"/><rect x="417.55" y="76.90" width="9.75" height="11.80" fill="#dfe8f4"/><rect x="446.15" y="76.90" width="9.75" height="11.80" fill="#0a3574"/><rect x="426.30" y="76.90" width="8.75" height="11.80" fill="#dfe8f4"/><rect x="454.90" y="76.90" width="8.75" height="11.80" fill="#2a6cb4"/><rect x="408.80" y="87.70" width="9.75" height="11.80" fill="#dfe8f4"/><rect x="437.40" y="87.70" width="9.75" height="11.80" fill="#2a7cc8"/><rect x="417.55" y="87.70" width="9.75" height="11.80" fill="#dfe8f4"/><rect x="446.15" y="87.70" width="9.75" height="11.80" fill="#0a3574"/><rect x="426.30" y="87.70" width="8.75" height="11.80" fill="#f3f7fc"/><rect x="454.90" y="87.70" width="8.75" height="11.80" fill="#0a3574"/><rect x="408.80" y="98.50" width="9.75" height="11.80" fill="#1a58a0"/><rect x="437.40" y="98.50" width="9.75" height="11.80" fill="#e0eaf6"/><rect x="417.55" y="98.50" width="9.75" height="11.80" fill="#0a3574"/><rect x="446.15" y="98.50" width="9.75" height="11.80" fill="#f0f5fb"/><rect x="426.30" y="98.50" width="8.75" height="11.80" fill="#0a3574"/><rect x="454.90" y="98.50" width="8.75" height="11.80" fill="#dce8f5"/><rect x="408.80" y="109.30" width="9.75" height="10.80" fill="#2878c0"/><rect x="437.40" y="109.30" width="9.75" height="10.80" fill="#e0eaf6"/><rect x="417.55" y="109.30" width="9.75" height="10.80" fill="#0a3574"/><rect x="446.15" y="109.30" width="9.75" height="10.80" fill="#f0f5fb"/><rect x="426.30" y="109.30" width="8.75" height="10.80" fill="#0a3574"/><rect x="454.90" y="109.30" width="8.75" height="10.80" fill="#dce8f5"/><text x="388.90" y="64.10" font-size="8.2" fill="#2a2a2a" stroke="#2a2a2a" font-weight="normal" textLength="18.00" lengthAdjust="spacingAndGlyphs" >IFNG</text><text x="397.60" y="73.90" font-size="8.2" fill="#2a2a2a" stroke="#2a2a2a" font-weight="normal" textLength="9.30" lengthAdjust="spacingAndGlyphs" >AP</text><text x="391.10" y="83.90" font-size="8.2" fill="#2a2a2a" stroke="#2a2a2a" font-weight="normal" textLength="15.80" lengthAdjust="spacingAndGlyphs" >CCK</text><text x="389.60" y="94.70" font-size="8.2" fill="#2a2a2a" stroke="#2a2a2a" font-weight="normal" textLength="17.30" lengthAdjust="spacingAndGlyphs" >IL-10</text><text x="380.90" y="105.80" font-size="8.2" fill="#2a2a2a" stroke="#2a2a2a" font-weight="normal" textLength="26.00" lengthAdjust="spacingAndGlyphs" >ANGIO</text><text x="392.00" y="116.90" font-size="8.2" fill="#2a2a2a" stroke="#2a2a2a" font-weight="normal" textLength="14.90" lengthAdjust="spacingAndGlyphs" >CAL</text><path d="M413,55.3 V49.5 H426.2 V53.2 M422.3,55.3 V53.2 H430.1 V55.3 M419.6,49.5 V42 H448.6 V46.7 M441.2,55.3 V46.7 H455 V50.4 M450.5,55.3 V50.4 H459.4 V55.3" fill="none" stroke="#333" stroke-width="0.75"/><rect x="409.4" y="123.5" width="26.2" height="3.4" fill="#1d4f8a"/><rect x="438.1" y="123.5" width="26.3" height="3.4" fill="#c00024"/><text x="408.80" y="136.90" font-size="7.2" fill="#3a6496" stroke="#3a6496" font-weight="normal" textLength="16.20" lengthAdjust="spacingAndGlyphs" >pBIC</text><text x="425.60" y="133.60" font-size="4.6" fill="#3a6496" stroke="#3a6496" font-weight="normal" textLength="10.00" lengthAdjust="spacingAndGlyphs" >Δ10</text><text x="443.10" y="136.90" font-size="7.2" fill="#c0324f" stroke="#c0324f" font-weight="normal" textLength="16.90" lengthAdjust="spacingAndGlyphs" >pBIC</text><text x="478.20" y="60.80" font-size="6.8" fill="#2a2a2a" stroke="#2a2a2a" font-weight="normal" textLength="27.60" lengthAdjust="spacingAndGlyphs" >ssGSEA</text><text x="478.20" y="70.20" font-size="6.8" fill="#2a2a2a" stroke="#2a2a2a" font-weight="normal" textLength="25.50" lengthAdjust="spacingAndGlyphs" >Z-score</text><rect x="484.1" y="73.40" width="6.9" height="4.35" fill="#08306b"/><rect x="484.1" y="77.65" width="6.9" height="4.35" fill="#0a3b7e"/><rect x="484.1" y="81.90" width="6.9" height="4.35" fill="#0f4a92"/><rect x="484.1" y="86.15" width="6.9" height="4.35" fill="#1a5ca5"/><rect x="484.1" y="90.40" width="6.9" height="4.35" fill="#2870b5"/><rect x="484.1" y="94.65" width="6.9" height="4.35" fill="#3f86c2"/><rect x="484.1" y="98.90" width="6.9" height="4.35" fill="#5b9dce"/><rect x="484.1" y="103.15" width="6.9" height="4.35" fill="#7fb4da"/><rect x="484.1" y="107.40" width="6.9" height="4.35" fill="#a8cce6"/><rect x="484.1" y="111.65" width="6.9" height="4.35" fill="#c9dff0"/><rect x="484.1" y="115.90" width="6.9" height="4.35" fill="#e0ecf7"/><rect x="484.1" y="120.15" width="6.9" height="4.35" fill="#eef4fa"/><text x="495.20" y="83.20" font-size="7.7" fill="#2a2a2a" stroke="#2a2a2a" font-weight="normal" textLength="2.40" lengthAdjust="spacingAndGlyphs" >1</text><text x="494.10" y="92.80" font-size="7.7" fill="#2a2a2a" stroke="#2a2a2a" font-weight="normal" textLength="10.80" lengthAdjust="spacingAndGlyphs" >0.5</text><text x="494.10" y="103.50" font-size="7.7" fill="#2a2a2a" stroke="#2a2a2a" font-weight="normal" textLength="4.20" lengthAdjust="spacingAndGlyphs" >0</text><text x="493.50" y="115.00" font-size="7.7" fill="#2a2a2a" stroke="#2a2a2a" font-weight="normal" textLength="15.50" lengthAdjust="spacingAndGlyphs" >−0.5</text><text x="493.50" y="125.00" font-size="7.7" fill="#2a2a2a" stroke="#2a2a2a" font-weight="normal" textLength="7.80" lengthAdjust="spacingAndGlyphs" >−1</text><polygon points="70.4,229.0 75.7,229.0 76.5,240.9 82.3,244.9 88.4,248.9 87.6,253.6 82.3,254.2 77.0,251.5 73.0,248.9 69.9,244.9 69.1,235.6" fill="#e0e596" fill-opacity="1.0" stroke="#e0e596" stroke-width="0.6" stroke-linejoin="round"/><g fill="#fff" fill-opacity="0.85"><circle cx="77.8" cy="243.1" r="0.55"/><circle cx="78.9" cy="243.8" r="0.55"/><circle cx="72.7" cy="241.9" r="0.55"/><circle cx="81.3" cy="249.0" r="0.55"/><circle cx="70.9" cy="236.6" r="0.55"/><circle cx="81.7" cy="244.5" r="0.55"/><circle cx="72.1" cy="229.4" r="0.55"/><circle cx="72.8" cy="235.1" r="0.55"/><circle cx="69.7" cy="240.7" r="0.55"/><circle cx="77.6" cy="250.2" r="0.55"/><circle cx="79.1" cy="245.1" r="0.55"/><circle cx="78.7" cy="245.7" r="0.55"/><circle cx="75.2" cy="234.8" r="0.55"/><circle cx="74.7" cy="230.8" r="0.55"/><circle cx="87.6" cy="250.4" r="0.55"/><circle cx="70.5" cy="244.9" r="0.55"/><circle cx="70.8" cy="237.4" r="0.55"/><circle cx="71.4" cy="235.2" r="0.55"/><circle cx="71.1" cy="230.5" r="0.55"/><circle cx="72.8" cy="247.4" r="0.55"/><circle cx="71.6" cy="245.2" r="0.55"/><circle cx="71.3" cy="239.6" r="0.55"/><circle cx="73.2" cy="235.8" r="0.55"/><circle cx="87.8" cy="249.2" r="0.55"/><circle cx="73.2" cy="238.9" r="0.55"/><circle cx="73.2" cy="235.5" r="0.55"/><circle cx="74.8" cy="230.8" r="0.55"/><circle cx="70.8" cy="243.7" r="0.55"/><circle cx="73.8" cy="244.2" r="0.55"/><circle cx="76.3" cy="240.4" r="0.55"/><circle cx="80.2" cy="250.8" r="0.55"/><circle cx="72.6" cy="232.9" r="0.55"/><circle cx="86.6" cy="249.6" r="0.55"/><circle cx="73.9" cy="233.8" r="0.55"/><circle cx="83.4" cy="252.7" r="0.55"/><circle cx="73.7" cy="246.8" r="0.55"/><circle cx="72.5" cy="247.2" r="0.55"/><circle cx="70.4" cy="234.8" r="0.55"/><circle cx="79.9" cy="250.5" r="0.55"/><circle cx="69.4" cy="235.8" r="0.55"/><circle cx="72.5" cy="238.3" r="0.55"/><circle cx="71.8" cy="229.9" r="0.55"/><circle cx="82.6" cy="253.3" r="0.55"/><circle cx="78.4" cy="247.4" r="0.55"/><circle cx="70.6" cy="242.8" r="0.55"/></g><g fill="#e0e596" ><circle cx="75.3" cy="229.6" r="0.6"/><circle cx="74.9" cy="230.1" r="0.6"/><circle cx="76.5" cy="234.2" r="0.6"/><circle cx="76.2" cy="240.1" r="0.6"/><circle cx="76.6" cy="239.6" r="0.6"/><circle cx="76.2" cy="233.8" r="0.6"/><circle cx="76.1" cy="231.2" r="0.6"/><circle cx="82.2" cy="244.1" r="0.6"/><circle cx="81.0" cy="243.7" r="0.6"/><circle cx="80.3" cy="244.9" r="0.6"/><circle cx="82.7" cy="245.0" r="0.6"/><circle cx="84.2" cy="245.8" r="0.6"/><circle cx="87.1" cy="246.7" r="0.6"/><circle cx="87.9" cy="249.4" r="0.6"/><circle cx="87.4" cy="250.9" r="0.6"/><circle cx="84.0" cy="255.0" r="0.6"/><circle cx="86.3" cy="253.0" r="0.6"/><circle cx="80.8" cy="254.1" r="0.6"/><circle cx="77.3" cy="252.0" r="0.6"/><circle cx="74.8" cy="250.7" r="0.6"/><circle cx="74.6" cy="249.9" r="0.6"/><circle cx="69.5" cy="244.2" r="0.6"/><circle cx="71.0" cy="246.4" r="0.6"/><circle cx="69.9" cy="241.0" r="0.6"/><circle cx="70.5" cy="243.2" r="0.6"/><circle cx="68.4" cy="239.5" r="0.6"/><circle cx="68.0" cy="237.3" r="0.6"/><circle cx="69.3" cy="232.6" r="0.6"/><circle cx="68.2" cy="235.4" r="0.6"/><circle cx="70.0" cy="234.8" r="0.6"/></g><polygon points="60.5,242.5 63.0,241.0 66.5,241.5 68.5,244.0 67.5,247.5 64.0,248.0 61.0,246.5" fill="#1b1766" fill-opacity="1.0" stroke="#1b1766" stroke-width="0.6" stroke-linejoin="round"/><g fill="#fff" fill-opacity="0.85"><circle cx="65.5" cy="244.1" r="0.55"/><circle cx="65.5" cy="245.6" r="0.55"/></g><g fill="#1b1766" ><circle cx="63.7" cy="241.8" r="0.6"/><circle cx="63.6" cy="240.3" r="0.6"/><circle cx="66.4" cy="242.1" r="0.6"/><circle cx="67.7" cy="244.2" r="0.6"/><circle cx="65.1" cy="248.1" r="0.6"/><circle cx="61.5" cy="247.6" r="0.6"/><circle cx="59.5" cy="244.0" r="0.6"/><circle cx="59.7" cy="243.5" r="0.6"/></g><polygon points="32.0,259.5 35.0,253.0 39.5,245.5 42.5,245.0 41.0,251.0 36.0,258.0 33.5,261.0" fill="#b9a391" fill-opacity="1.0" stroke="#b9a391" stroke-width="0.6" stroke-linejoin="round"/><g fill="#fff" fill-opacity="0.85"><circle cx="36.0" cy="254.1" r="0.55"/><circle cx="38.8" cy="248.3" r="0.55"/><circle cx="34.2" cy="259.4" r="0.55"/><circle cx="41.0" cy="250.6" r="0.55"/></g><g fill="#b9a391" ><circle cx="32.1" cy="259.1" r="0.6"/><circle cx="34.3" cy="253.3" r="0.6"/><circle cx="33.3" cy="255.0" r="0.6"/><circle cx="35.3" cy="252.5" r="0.6"/><circle cx="34.7" cy="252.0" r="0.6"/><circle cx="39.1" cy="248.1" r="0.6"/><circle cx="39.2" cy="247.1" r="0.6"/><circle cx="39.0" cy="245.5" r="0.6"/><circle cx="42.7" cy="247.1" r="0.6"/><circle cx="42.6" cy="248.3" r="0.6"/><circle cx="41.7" cy="247.8" r="0.6"/><circle cx="35.7" cy="258.2" r="0.6"/><circle cx="36.2" cy="258.0" r="0.6"/><circle cx="40.1" cy="252.4" r="0.6"/><circle cx="36.7" cy="256.5" r="0.6"/><circle cx="34.5" cy="260.3" r="0.6"/><circle cx="32.6" cy="260.7" r="0.6"/></g><polygon points="45.0,243.0 48.0,240.8 51.0,241.0 50.0,244.0 46.5,245.5" fill="#d2d2d2" fill-opacity="1.0" stroke="#d2d2d2" stroke-width="0.6" stroke-linejoin="round"/><g fill="#fff" fill-opacity="0.85"><circle cx="45.4" cy="243.3" r="0.55"/></g><g fill="#d2d2d2" ><circle cx="47.4" cy="243.2" r="0.6"/><circle cx="48.7" cy="239.9" r="0.6"/><circle cx="51.4" cy="243.3" r="0.6"/><circle cx="47.9" cy="243.9" r="0.6"/><circle cx="46.7" cy="243.0" r="0.6"/></g><polygon points="93.0,246.0 97.0,243.0 101.5,240.8 101.0,242.5 96.0,245.6" fill="#d2d2d2" fill-opacity="1.0" stroke="#d2d2d2" stroke-width="0.6" stroke-linejoin="round"/><g fill="#d2d2d2" ><circle cx="94.9" cy="242.9" r="0.6"/><circle cx="94.4" cy="244.9" r="0.6"/><circle cx="98.9" cy="241.2" r="0.6"/><circle cx="99.3" cy="241.4" r="0.6"/><circle cx="99.0" cy="243.4" r="0.6"/><circle cx="98.5" cy="243.6" r="0.6"/><circle cx="93.5" cy="245.0" r="0.6"/></g><polygon points="43.8,264.3 46.1,259.6 50.9,256.4 58.9,255.1 66.8,256.4 73.2,259.6 78.0,263.5 81.2,269.1 82.0,277.1 83.6,284.2 82.8,291.4 82.0,297.8 78.8,303.3 73.2,304.9 69.2,303.3 67.6,299.4 68.4,294.6 66.8,291.4 64.5,287.4 62.9,284.2 57.3,280.3 50.9,277.9 46.9,272.3 43.8,270.7" fill="#ea5f48" fill-opacity="1.0" stroke="#ea5f48" stroke-width="0.6" stroke-linejoin="round"/><g fill="#fff" fill-opacity="0.85"><circle cx="68.9" cy="286.9" r="0.55"/><circle cx="68.1" cy="297.8" r="0.55"/><circle cx="76.1" cy="300.1" r="0.55"/><circle cx="56.4" cy="270.8" r="0.55"/><circle cx="49.1" cy="267.0" r="0.55"/><circle cx="72.7" cy="268.0" r="0.55"/><circle cx="74.0" cy="280.1" r="0.55"/><circle cx="71.1" cy="264.5" r="0.55"/><circle cx="46.6" cy="260.4" r="0.55"/><circle cx="64.3" cy="283.4" r="0.55"/><circle cx="49.6" cy="264.3" r="0.55"/><circle cx="81.7" cy="278.1" r="0.55"/><circle cx="74.2" cy="271.4" r="0.55"/><circle cx="62.4" cy="280.8" r="0.55"/><circle cx="77.4" cy="264.1" r="0.55"/><circle cx="59.9" cy="264.8" r="0.55"/><circle cx="75.7" cy="290.2" r="0.55"/><circle cx="78.1" cy="286.4" r="0.55"/><circle cx="75.8" cy="268.0" r="0.55"/><circle cx="80.1" cy="292.2" r="0.55"/><circle cx="74.8" cy="295.7" r="0.55"/><circle cx="78.8" cy="289.7" r="0.55"/><circle cx="74.3" cy="293.2" r="0.55"/><circle cx="46.6" cy="272.1" r="0.55"/><circle cx="68.6" cy="266.7" r="0.55"/><circle cx="81.4" cy="288.3" r="0.55"/><circle cx="66.5" cy="281.6" r="0.55"/><circle cx="69.4" cy="290.0" r="0.55"/><circle cx="74.1" cy="303.9" r="0.55"/><circle cx="73.2" cy="267.9" r="0.55"/><circle cx="59.8" cy="257.6" r="0.55"/><circle cx="51.6" cy="273.8" r="0.55"/><circle cx="47.7" cy="267.6" r="0.55"/><circle cx="79.8" cy="282.5" r="0.55"/><circle cx="69.2" cy="295.4" r="0.55"/><circle cx="62.6" cy="263.5" r="0.55"/><circle cx="60.5" cy="281.3" r="0.55"/><circle cx="67.6" cy="273.3" r="0.55"/><circle cx="66.1" cy="269.2" r="0.55"/><circle cx="72.3" cy="269.8" r="0.55"/><circle cx="44.4" cy="267.3" r="0.55"/><circle cx="45.5" cy="262.9" r="0.55"/><circle cx="73.8" cy="274.5" r="0.55"/><circle cx="79.5" cy="292.4" r="0.55"/><circle cx="79.8" cy="276.5" r="0.55"/><circle cx="81.1" cy="291.1" r="0.55"/><circle cx="76.3" cy="285.2" r="0.55"/><circle cx="61.9" cy="265.2" r="0.55"/><circle cx="70.4" cy="277.8" r="0.55"/><circle cx="81.7" cy="291.7" r="0.55"/><circle cx="53.3" cy="260.8" r="0.55"/><circle cx="79.3" cy="294.2" r="0.55"/><circle cx="68.7" cy="273.0" r="0.55"/><circle cx="66.3" cy="284.6" r="0.55"/><circle cx="69.0" cy="292.6" r="0.55"/><circle cx="51.4" cy="267.5" r="0.55"/><circle cx="46.2" cy="268.6" r="0.55"/><circle cx="46.7" cy="259.4" r="0.55"/><circle cx="70.7" cy="282.5" r="0.55"/><circle cx="68.9" cy="273.7" r="0.55"/><circle cx="62.8" cy="265.6" r="0.55"/><circle cx="68.6" cy="293.4" r="0.55"/><circle cx="52.3" cy="276.2" r="0.55"/><circle cx="80.4" cy="276.4" r="0.55"/><circle cx="58.5" cy="259.9" r="0.55"/><circle cx="46.8" cy="265.7" r="0.55"/><circle cx="70.2" cy="259.2" r="0.55"/><circle cx="71.4" cy="269.2" r="0.55"/><circle cx="49.5" cy="272.9" r="0.55"/><circle cx="72.7" cy="273.3" r="0.55"/><circle cx="55.9" cy="270.9" r="0.55"/><circle cx="79.4" cy="267.5" r="0.55"/><circle cx="58.2" cy="273.3" r="0.55"/><circle cx="58.3" cy="274.8" r="0.55"/><circle cx="59.2" cy="264.8" r="0.55"/><circle cx="66.2" cy="263.9" r="0.55"/><circle cx="74.0" cy="299.0" r="0.55"/><circle cx="55.0" cy="256.2" r="0.55"/><circle cx="64.3" cy="282.2" r="0.55"/><circle cx="69.7" cy="295.2" r="0.55"/><circle cx="69.0" cy="262.3" r="0.55"/></g><g fill="#ea5f48" ><circle cx="45.9" cy="260.1" r="0.6"/><circle cx="45.0" cy="263.3" r="0.6"/><circle cx="49.5" cy="256.7" r="0.6"/><circle cx="51.2" cy="256.5" r="0.6"/><circle cx="55.8" cy="256.2" r="0.6"/><circle cx="58.0" cy="256.1" r="0.6"/><circle cx="57.2" cy="256.3" r="0.6"/><circle cx="58.6" cy="256.5" r="0.6"/><circle cx="64.0" cy="256.5" r="0.6"/><circle cx="65.0" cy="255.9" r="0.6"/><circle cx="60.7" cy="256.6" r="0.6"/><circle cx="61.0" cy="254.8" r="0.6"/><circle cx="69.0" cy="259.0" r="0.6"/><circle cx="66.7" cy="255.6" r="0.6"/><circle cx="71.7" cy="257.6" r="0.6"/><circle cx="73.4" cy="260.1" r="0.6"/><circle cx="76.4" cy="262.1" r="0.6"/><circle cx="73.4" cy="259.6" r="0.6"/><circle cx="80.5" cy="266.8" r="0.6"/><circle cx="78.0" cy="263.7" r="0.6"/><circle cx="79.9" cy="267.9" r="0.6"/><circle cx="81.8" cy="275.0" r="0.6"/><circle cx="83.0" cy="275.8" r="0.6"/><circle cx="82.8" cy="273.4" r="0.6"/><circle cx="80.2" cy="272.0" r="0.6"/><circle cx="83.0" cy="282.9" r="0.6"/><circle cx="82.2" cy="282.0" r="0.6"/><circle cx="82.4" cy="280.5" r="0.6"/><circle cx="82.9" cy="288.4" r="0.6"/><circle cx="83.3" cy="288.4" r="0.6"/><circle cx="83.0" cy="284.7" r="0.6"/><circle cx="82.1" cy="297.3" r="0.6"/><circle cx="81.4" cy="297.8" r="0.6"/><circle cx="83.4" cy="291.1" r="0.6"/><circle cx="80.3" cy="303.2" r="0.6"/><circle cx="81.1" cy="298.8" r="0.6"/><circle cx="81.6" cy="298.3" r="0.6"/><circle cx="73.7" cy="305.8" r="0.6"/><circle cx="77.9" cy="303.6" r="0.6"/><circle cx="68.5" cy="304.3" r="0.6"/><circle cx="72.5" cy="304.6" r="0.6"/><circle cx="69.8" cy="302.2" r="0.6"/><circle cx="67.6" cy="301.6" r="0.6"/><circle cx="68.5" cy="296.8" r="0.6"/><circle cx="67.1" cy="295.8" r="0.6"/><circle cx="68.9" cy="294.0" r="0.6"/><circle cx="64.0" cy="288.5" r="0.6"/><circle cx="64.5" cy="288.7" r="0.6"/><circle cx="62.5" cy="287.2" r="0.6"/><circle cx="57.7" cy="281.4" r="0.6"/><circle cx="61.0" cy="283.2" r="0.6"/><circle cx="60.8" cy="282.8" r="0.6"/><circle cx="52.4" cy="277.9" r="0.6"/><circle cx="52.2" cy="279.7" r="0.6"/><circle cx="54.3" cy="278.5" r="0.6"/><circle cx="46.5" cy="272.3" r="0.6"/><circle cx="51.0" cy="277.9" r="0.6"/><circle cx="49.9" cy="277.8" r="0.6"/><circle cx="44.0" cy="270.6" r="0.6"/><circle cx="42.8" cy="269.5" r="0.6"/><circle cx="44.9" cy="270.0" r="0.6"/><circle cx="44.2" cy="268.1" r="0.6"/></g><polygon points="93.6,258.4 98.2,255.2 105.7,255.6 110.3,258.4 110.7,264.9 107.5,268.6 102.9,271.4 105.7,276.0 112.2,280.7 115.0,284.4 112.2,288.1 106.6,289.0 104.7,294.6 107.5,300.2 106.6,307.6 102.9,313.2 95.4,316.0 86.2,316.0 81.5,312.3 82.4,305.8 88.9,301.1 96.4,296.5 99.2,291.8 98.2,288.1 94.5,284.4 93.6,277.9 95.4,273.2 91.7,269.5 90.8,263.9" fill="#6dbf66" fill-opacity="1.0" stroke="#6dbf66" stroke-width="0.6" stroke-linejoin="round"/><g fill="#fff" fill-opacity="0.85"><circle cx="109.0" cy="278.7" r="0.55"/><circle cx="101.9" cy="256.3" r="0.55"/><circle cx="103.3" cy="261.7" r="0.55"/><circle cx="102.0" cy="264.8" r="0.55"/><circle cx="99.9" cy="276.6" r="0.55"/><circle cx="98.3" cy="263.8" r="0.55"/><circle cx="98.8" cy="298.7" r="0.55"/><circle cx="104.9" cy="275.2" r="0.55"/><circle cx="97.0" cy="262.7" r="0.55"/><circle cx="100.3" cy="289.3" r="0.55"/><circle cx="90.4" cy="310.5" r="0.55"/><circle cx="101.7" cy="262.7" r="0.55"/><circle cx="100.7" cy="305.7" r="0.55"/><circle cx="87.5" cy="315.2" r="0.55"/><circle cx="106.2" cy="278.4" r="0.55"/><circle cx="101.3" cy="304.1" r="0.55"/><circle cx="97.2" cy="263.9" r="0.55"/><circle cx="86.3" cy="313.5" r="0.55"/><circle cx="101.6" cy="283.8" r="0.55"/><circle cx="104.6" cy="301.3" r="0.55"/><circle cx="106.7" cy="284.7" r="0.55"/><circle cx="110.1" cy="280.1" r="0.55"/><circle cx="111.8" cy="287.2" r="0.55"/><circle cx="99.1" cy="281.5" r="0.55"/><circle cx="101.5" cy="300.9" r="0.55"/><circle cx="96.5" cy="285.8" r="0.55"/><circle cx="94.8" cy="258.4" r="0.55"/><circle cx="104.8" cy="287.2" r="0.55"/><circle cx="94.8" cy="269.5" r="0.55"/><circle cx="83.8" cy="310.6" r="0.55"/><circle cx="110.5" cy="280.8" r="0.55"/><circle cx="108.0" cy="262.7" r="0.55"/><circle cx="99.5" cy="313.0" r="0.55"/><circle cx="83.6" cy="309.6" r="0.55"/><circle cx="108.8" cy="279.4" r="0.55"/><circle cx="98.2" cy="312.0" r="0.55"/><circle cx="114.2" cy="283.9" r="0.55"/><circle cx="88.0" cy="306.1" r="0.55"/><circle cx="87.3" cy="308.7" r="0.55"/><circle cx="102.7" cy="266.8" r="0.55"/><circle cx="92.0" cy="309.9" r="0.55"/><circle cx="112.9" cy="282.3" r="0.55"/><circle cx="108.0" cy="277.8" r="0.55"/><circle cx="103.7" cy="309.0" r="0.55"/><circle cx="101.3" cy="269.1" r="0.55"/><circle cx="91.6" cy="311.5" r="0.55"/><circle cx="102.9" cy="260.7" r="0.55"/><circle cx="99.2" cy="287.5" r="0.55"/><circle cx="108.4" cy="260.5" r="0.55"/><circle cx="91.1" cy="301.1" r="0.55"/><circle cx="99.9" cy="266.5" r="0.55"/><circle cx="106.6" cy="278.6" r="0.55"/><circle cx="112.6" cy="285.6" r="0.55"/><circle cx="103.1" cy="277.1" r="0.55"/><circle cx="103.6" cy="302.8" r="0.55"/><circle cx="98.8" cy="285.9" r="0.55"/><circle cx="98.9" cy="313.1" r="0.55"/><circle cx="87.3" cy="302.6" r="0.55"/><circle cx="97.9" cy="268.7" r="0.55"/><circle cx="100.9" cy="285.5" r="0.55"/><circle cx="105.4" cy="290.0" r="0.55"/><circle cx="98.1" cy="281.6" r="0.55"/><circle cx="96.3" cy="271.2" r="0.55"/><circle cx="108.3" cy="259.6" r="0.55"/><circle cx="99.7" cy="303.3" r="0.55"/><circle cx="99.1" cy="271.3" r="0.55"/></g><g fill="#6dbf66" ><circle cx="95.2" cy="257.3" r="0.6"/><circle cx="93.8" cy="257.0" r="0.6"/><circle cx="104.2" cy="256.2" r="0.6"/><circle cx="98.4" cy="254.9" r="0.6"/><circle cx="101.0" cy="254.1" r="0.6"/><circle cx="108.6" cy="258.2" r="0.6"/><circle cx="106.2" cy="256.6" r="0.6"/><circle cx="109.6" cy="259.7" r="0.6"/><circle cx="110.1" cy="258.8" r="0.6"/><circle cx="109.4" cy="259.9" r="0.6"/><circle cx="108.2" cy="269.2" r="0.6"/><circle cx="109.3" cy="265.9" r="0.6"/><circle cx="106.3" cy="270.4" r="0.6"/><circle cx="105.4" cy="270.9" r="0.6"/><circle cx="103.4" cy="274.0" r="0.6"/><circle cx="103.6" cy="274.0" r="0.6"/><circle cx="111.2" cy="279.5" r="0.6"/><circle cx="111.4" cy="279.9" r="0.6"/><circle cx="110.9" cy="280.7" r="0.6"/><circle cx="106.7" cy="276.2" r="0.6"/><circle cx="112.9" cy="282.0" r="0.6"/><circle cx="112.7" cy="281.0" r="0.6"/><circle cx="115.0" cy="286.5" r="0.6"/><circle cx="111.8" cy="287.3" r="0.6"/><circle cx="112.3" cy="287.8" r="0.6"/><circle cx="109.4" cy="287.5" r="0.6"/><circle cx="105.8" cy="291.6" r="0.6"/><circle cx="104.6" cy="292.6" r="0.6"/><circle cx="106.3" cy="295.1" r="0.6"/><circle cx="107.4" cy="299.9" r="0.6"/><circle cx="104.3" cy="294.4" r="0.6"/><circle cx="108.4" cy="300.4" r="0.6"/><circle cx="106.9" cy="304.7" r="0.6"/><circle cx="106.5" cy="301.9" r="0.6"/><circle cx="106.3" cy="307.2" r="0.6"/><circle cx="105.2" cy="309.5" r="0.6"/><circle cx="106.6" cy="307.7" r="0.6"/><circle cx="97.9" cy="314.3" r="0.6"/><circle cx="100.8" cy="314.3" r="0.6"/><circle cx="99.6" cy="315.3" r="0.6"/><circle cx="100.7" cy="313.4" r="0.6"/><circle cx="92.2" cy="314.8" r="0.6"/><circle cx="89.8" cy="316.8" r="0.6"/><circle cx="85.9" cy="316.4" r="0.6"/><circle cx="86.2" cy="316.5" r="0.6"/><circle cx="84.3" cy="314.5" r="0.6"/><circle cx="85.4" cy="314.1" r="0.6"/><circle cx="81.6" cy="308.4" r="0.6"/><circle cx="81.4" cy="309.8" r="0.6"/><circle cx="80.9" cy="310.2" r="0.6"/><circle cx="84.6" cy="304.0" r="0.6"/><circle cx="82.9" cy="304.3" r="0.6"/><circle cx="84.2" cy="304.0" r="0.6"/><circle cx="87.1" cy="303.0" r="0.6"/><circle cx="88.8" cy="300.6" r="0.6"/><circle cx="89.1" cy="299.7" r="0.6"/><circle cx="92.8" cy="298.7" r="0.6"/><circle cx="90.7" cy="298.4" r="0.6"/><circle cx="98.4" cy="295.0" r="0.6"/><circle cx="97.6" cy="294.5" r="0.6"/><circle cx="99.0" cy="291.2" r="0.6"/><circle cx="97.1" cy="287.9" r="0.6"/><circle cx="95.7" cy="285.6" r="0.6"/><circle cx="93.9" cy="281.1" r="0.6"/><circle cx="94.7" cy="278.7" r="0.6"/><circle cx="92.5" cy="277.5" r="0.6"/><circle cx="94.0" cy="275.2" r="0.6"/><circle cx="94.4" cy="272.5" r="0.6"/><circle cx="95.0" cy="271.7" r="0.6"/><circle cx="95.5" cy="272.9" r="0.6"/><circle cx="91.5" cy="268.6" r="0.6"/><circle cx="91.5" cy="266.6" r="0.6"/><circle cx="94.3" cy="258.9" r="0.6"/><circle cx="92.8" cy="261.5" r="0.6"/><circle cx="93.3" cy="260.4" r="0.6"/></g><polygon points="39.5,276.0 42.0,272.0 46.0,271.5 47.5,276.0 46.0,281.0 42.5,285.0 39.5,283.0" fill="#3d8fcf" fill-opacity="1.0" stroke="#3d8fcf" stroke-width="0.6" stroke-linejoin="round"/><g fill="#fff" fill-opacity="0.85"><circle cx="40.8" cy="279.9" r="0.55"/><circle cx="43.4" cy="279.1" r="0.55"/><circle cx="42.5" cy="275.4" r="0.55"/><circle cx="45.5" cy="278.7" r="0.55"/><circle cx="41.4" cy="274.9" r="0.55"/></g><g fill="#3d8fcf" ><circle cx="39.5" cy="274.7" r="0.6"/><circle cx="38.7" cy="274.4" r="0.6"/><circle cx="42.9" cy="270.9" r="0.6"/><circle cx="44.5" cy="271.7" r="0.6"/><circle cx="47.2" cy="273.2" r="0.6"/><circle cx="45.4" cy="271.8" r="0.6"/><circle cx="46.0" cy="280.5" r="0.6"/><circle cx="47.7" cy="276.8" r="0.6"/><circle cx="45.5" cy="283.2" r="0.6"/><circle cx="43.3" cy="284.1" r="0.6"/><circle cx="40.7" cy="284.4" r="0.6"/><circle cx="38.5" cy="277.1" r="0.6"/><circle cx="38.8" cy="277.5" r="0.6"/><circle cx="39.7" cy="284.1" r="0.6"/></g><polygon points="38.0,286.0 41.0,281.0 46.0,279.0 52.0,278.0 57.0,281.0 62.0,282.0 64.5,286.0 63.0,292.0 57.0,297.0 47.0,297.5 40.0,295.0 37.5,291.0" fill="#b49bd4" fill-opacity="1.0" stroke="#b49bd4" stroke-width="0.6" stroke-linejoin="round"/><g fill="#fff" fill-opacity="0.85"><circle cx="56.1" cy="286.2" r="0.55"/><circle cx="54.5" cy="285.7" r="0.55"/><circle cx="38.8" cy="291.9" r="0.55"/><circle cx="45.2" cy="292.3" r="0.55"/><circle cx="52.1" cy="287.4" r="0.55"/><circle cx="47.6" cy="284.0" r="0.55"/><circle cx="59.1" cy="294.4" r="0.55"/><circle cx="45.2" cy="285.6" r="0.55"/><circle cx="54.2" cy="292.9" r="0.55"/><circle cx="64.0" cy="285.6" r="0.55"/><circle cx="56.2" cy="288.6" r="0.55"/><circle cx="50.7" cy="280.3" r="0.55"/><circle cx="52.8" cy="280.8" r="0.55"/><circle cx="54.4" cy="283.3" r="0.55"/><circle cx="43.6" cy="287.4" r="0.55"/><circle cx="47.4" cy="283.1" r="0.55"/><circle cx="61.6" cy="284.0" r="0.55"/><circle cx="43.0" cy="294.9" r="0.55"/><circle cx="50.6" cy="286.1" r="0.55"/><circle cx="59.3" cy="285.7" r="0.55"/><circle cx="39.1" cy="288.7" r="0.55"/><circle cx="55.2" cy="290.1" r="0.55"/><circle cx="45.0" cy="296.3" r="0.55"/><circle cx="49.5" cy="294.3" r="0.55"/><circle cx="57.1" cy="281.4" r="0.55"/><circle cx="47.2" cy="292.7" r="0.55"/><circle cx="45.9" cy="288.0" r="0.55"/></g><g fill="#b49bd4" ><circle cx="37.3" cy="287.1" r="0.6"/><circle cx="38.1" cy="286.8" r="0.6"/><circle cx="45.6" cy="279.2" r="0.6"/><circle cx="45.9" cy="280.1" r="0.6"/><circle cx="50.9" cy="279.2" r="0.6"/><circle cx="48.9" cy="277.9" r="0.6"/><circle cx="50.2" cy="278.3" r="0.6"/><circle cx="52.8" cy="278.3" r="0.6"/><circle cx="56.1" cy="279.6" r="0.6"/><circle cx="59.8" cy="281.1" r="0.6"/><circle cx="61.1" cy="280.8" r="0.6"/><circle cx="63.5" cy="282.6" r="0.6"/><circle cx="64.0" cy="285.4" r="0.6"/><circle cx="63.2" cy="286.1" r="0.6"/><circle cx="63.8" cy="286.8" r="0.6"/><circle cx="63.5" cy="288.6" r="0.6"/><circle cx="61.0" cy="293.9" r="0.6"/><circle cx="57.3" cy="297.1" r="0.6"/><circle cx="63.6" cy="292.4" r="0.6"/><circle cx="46.6" cy="297.2" r="0.6"/><circle cx="49.1" cy="296.8" r="0.6"/><circle cx="51.4" cy="296.9" r="0.6"/><circle cx="54.8" cy="298.4" r="0.6"/><circle cx="55.9" cy="296.8" r="0.6"/><circle cx="41.7" cy="296.2" r="0.6"/><circle cx="41.7" cy="295.6" r="0.6"/><circle cx="43.6" cy="295.2" r="0.6"/><circle cx="38.4" cy="291.5" r="0.6"/><circle cx="38.1" cy="292.0" r="0.6"/><circle cx="37.9" cy="290.0" r="0.6"/><circle cx="36.5" cy="288.8" r="0.6"/></g><polygon points="34.8,285.0 37.0,284.0 37.6,288.0 35.4,290.0" fill="#2f8f86" fill-opacity="1.0" stroke="#2f8f86" stroke-width="0.6" stroke-linejoin="round"/><g fill="#2f8f86" ><circle cx="36.0" cy="284.8" r="0.6"/><circle cx="36.7" cy="287.6" r="0.6"/><circle cx="38.2" cy="287.5" r="0.6"/><circle cx="37.3" cy="289.2" r="0.6"/><circle cx="33.9" cy="286.9" r="0.6"/><circle cx="34.4" cy="288.4" r="0.6"/></g><polygon points="37.5,301.0 40.0,300.0 41.4,303.0 38.5,303.5" fill="#2f8f86" fill-opacity="1.0" stroke="#2f8f86" stroke-width="0.6" stroke-linejoin="round"/><g fill="#2f8f86" ><circle cx="40.3" cy="301.2" r="0.6"/><circle cx="41.1" cy="303.7" r="0.6"/><circle cx="42.2" cy="303.6" r="0.6"/><circle cx="39.0" cy="302.8" r="0.6"/></g><polygon points="22.8,273.0 26.0,271.4 28.0,274.0 26.0,279.0 23.0,279.4" fill="#4b3c8c" fill-opacity="1.0" stroke="#4b3c8c" stroke-width="0.6" stroke-linejoin="round"/><g fill="#fff" fill-opacity="0.85"><circle cx="25.6" cy="278.3" r="0.55"/><circle cx="23.8" cy="273.6" r="0.55"/></g><g fill="#4b3c8c" ><circle cx="23.8" cy="272.1" r="0.6"/><circle cx="27.6" cy="272.8" r="0.6"/><circle cx="27.3" cy="278.7" r="0.6"/><circle cx="28.0" cy="277.5" r="0.6"/><circle cx="25.2" cy="278.0" r="0.6"/><circle cx="22.6" cy="280.1" r="0.6"/><circle cx="21.8" cy="273.2" r="0.6"/><circle cx="23.8" cy="277.2" r="0.6"/></g><polygon points="68,285 72,283.5 76,285 75.5,289 71,290 68,288.5" fill="#fff" fill-opacity="0.9"/><path d="M46.5,311.9 Q52,315 57.7,317.7" stroke="#d8a878" stroke-width="1.4" fill="none" stroke-linecap="round"/><path d="M56,316.5 Q62,315 68,315 Q72,316 71.5,318.5 Q66,320.5 58,319 Z" fill="#f2b04e" stroke="#f2b04e" stroke-width="0.8"/><circle cx="61.5" cy="294" r="1.3" fill="#8a1a1a"/><circle cx="59.5" cy="293" r="0.9" fill="#a02020"/><polygon points="181.9,229.0 184.0,227.4 189.0,227.4 190.5,232.0 190.0,235.0 196.0,238.0 201.0,242.0 202.7,248.0 202.0,254.0 198.0,255.8 191.0,255.5 186.0,251.0 180.0,249.5 175.5,246.0 174.2,243.0 178.0,239.0 182.0,236.0" fill="#e0e596" fill-opacity="1.0" stroke="#e0e596" stroke-width="0.6" stroke-linejoin="round"/><g fill="#fff" fill-opacity="0.85"><circle cx="192.1" cy="252.3" r="0.55"/><circle cx="193.2" cy="239.6" r="0.55"/><circle cx="183.2" cy="245.3" r="0.55"/><circle cx="182.1" cy="244.5" r="0.55"/><circle cx="177.8" cy="247.1" r="0.55"/><circle cx="187.5" cy="231.1" r="0.55"/><circle cx="191.6" cy="237.6" r="0.55"/><circle cx="193.9" cy="248.3" r="0.55"/><circle cx="184.5" cy="236.2" r="0.55"/><circle cx="185.8" cy="231.6" r="0.55"/><circle cx="192.2" cy="239.5" r="0.55"/><circle cx="187.2" cy="241.8" r="0.55"/><circle cx="190.7" cy="235.5" r="0.55"/><circle cx="198.6" cy="246.6" r="0.55"/><circle cx="185.2" cy="248.5" r="0.55"/><circle cx="191.3" cy="240.1" r="0.55"/><circle cx="182.2" cy="239.9" r="0.55"/><circle cx="194.0" cy="246.5" r="0.55"/><circle cx="181.2" cy="239.1" r="0.55"/><circle cx="181.4" cy="239.3" r="0.55"/><circle cx="198.4" cy="244.2" r="0.55"/><circle cx="189.8" cy="230.2" r="0.55"/><circle cx="184.6" cy="238.0" r="0.55"/><circle cx="194.8" cy="246.4" r="0.55"/><circle cx="192.2" cy="240.7" r="0.55"/><circle cx="184.5" cy="240.6" r="0.55"/><circle cx="183.2" cy="246.5" r="0.55"/><circle cx="191.5" cy="255.0" r="0.55"/><circle cx="192.7" cy="247.3" r="0.55"/><circle cx="187.4" cy="238.8" r="0.55"/><circle cx="184.7" cy="231.5" r="0.55"/><circle cx="185.4" cy="248.5" r="0.55"/><circle cx="192.7" cy="245.1" r="0.55"/><circle cx="197.3" cy="248.2" r="0.55"/><circle cx="187.6" cy="227.8" r="0.55"/><circle cx="198.7" cy="254.2" r="0.55"/><circle cx="184.2" cy="242.6" r="0.55"/><circle cx="189.4" cy="230.6" r="0.55"/><circle cx="188.7" cy="230.9" r="0.55"/><circle cx="176.7" cy="241.9" r="0.55"/><circle cx="182.6" cy="249.5" r="0.55"/><circle cx="181.2" cy="239.2" r="0.55"/><circle cx="187.1" cy="243.3" r="0.55"/><circle cx="187.3" cy="251.6" r="0.55"/><circle cx="189.2" cy="238.9" r="0.55"/><circle cx="191.6" cy="251.9" r="0.55"/></g><g fill="#e0e596" ><circle cx="183.7" cy="226.2" r="0.6"/><circle cx="185.6" cy="228.0" r="0.6"/><circle cx="186.7" cy="227.5" r="0.6"/><circle cx="188.0" cy="227.0" r="0.6"/><circle cx="190.8" cy="232.7" r="0.6"/><circle cx="190.3" cy="231.0" r="0.6"/><circle cx="190.6" cy="236.9" r="0.6"/><circle cx="191.9" cy="236.4" r="0.6"/><circle cx="196.5" cy="237.8" r="0.6"/><circle cx="199.6" cy="239.7" r="0.6"/><circle cx="198.1" cy="238.6" r="0.6"/><circle cx="197.7" cy="239.4" r="0.6"/><circle cx="201.4" cy="244.0" r="0.6"/><circle cx="202.0" cy="241.2" r="0.6"/><circle cx="202.0" cy="244.9" r="0.6"/><circle cx="201.5" cy="249.0" r="0.6"/><circle cx="202.4" cy="249.2" r="0.6"/><circle cx="202.1" cy="251.2" r="0.6"/><circle cx="201.6" cy="253.5" r="0.6"/><circle cx="200.8" cy="254.7" r="0.6"/><circle cx="193.5" cy="255.1" r="0.6"/><circle cx="194.0" cy="255.1" r="0.6"/><circle cx="194.6" cy="256.3" r="0.6"/><circle cx="189.7" cy="254.6" r="0.6"/><circle cx="190.4" cy="254.1" r="0.6"/><circle cx="186.4" cy="251.1" r="0.6"/><circle cx="180.8" cy="251.2" r="0.6"/><circle cx="180.6" cy="249.3" r="0.6"/><circle cx="181.8" cy="250.1" r="0.6"/><circle cx="180.4" cy="248.1" r="0.6"/><circle cx="177.3" cy="248.4" r="0.6"/><circle cx="173.4" cy="245.2" r="0.6"/><circle cx="177.3" cy="238.7" r="0.6"/><circle cx="176.8" cy="240.5" r="0.6"/><circle cx="183.0" cy="234.9" r="0.6"/><circle cx="181.0" cy="237.3" r="0.6"/><circle cx="181.8" cy="233.2" r="0.6"/><circle cx="181.5" cy="235.8" r="0.6"/><circle cx="181.0" cy="236.4" r="0.6"/></g><polygon points="145.0,259.0 148.0,253.0 152.0,247.0 155.5,245.0 156.0,247.5 152.0,254.0 147.0,260.5" fill="#b9a391" fill-opacity="1.0" stroke="#b9a391" stroke-width="0.6" stroke-linejoin="round"/><g fill="#fff" fill-opacity="0.85"><circle cx="146.4" cy="258.5" r="0.55"/><circle cx="149.8" cy="250.9" r="0.55"/><circle cx="150.4" cy="255.7" r="0.55"/><circle cx="149.3" cy="257.1" r="0.55"/><circle cx="151.5" cy="253.1" r="0.55"/><circle cx="149.3" cy="253.9" r="0.55"/><circle cx="151.4" cy="252.4" r="0.55"/><circle cx="152.7" cy="248.6" r="0.55"/><circle cx="147.9" cy="256.3" r="0.55"/></g><g fill="#b9a391" ><circle cx="146.1" cy="254.4" r="0.6"/><circle cx="147.2" cy="254.6" r="0.6"/><circle cx="146.6" cy="256.6" r="0.6"/><circle cx="153.0" cy="247.0" r="0.6"/><circle cx="149.2" cy="250.7" r="0.6"/><circle cx="147.9" cy="253.3" r="0.6"/><circle cx="152.6" cy="247.1" r="0.6"/><circle cx="153.5" cy="245.0" r="0.6"/><circle cx="156.7" cy="248.2" r="0.6"/><circle cx="156.3" cy="247.4" r="0.6"/><circle cx="155.3" cy="249.1" r="0.6"/><circle cx="156.2" cy="248.5" r="0.6"/><circle cx="148.6" cy="260.3" r="0.6"/><circle cx="151.4" cy="256.9" r="0.6"/><circle cx="151.5" cy="256.5" r="0.6"/><circle cx="150.0" cy="254.5" r="0.6"/><circle cx="145.3" cy="259.2" r="0.6"/></g><polygon points="159.6,241.5 162.0,239.7 164.5,241.0 165.0,245.0 162.0,247.4 160.0,245.0" fill="#d2d2d2" fill-opacity="1.0" stroke="#d2d2d2" stroke-width="0.6" stroke-linejoin="round"/><g fill="#fff" fill-opacity="0.85"><circle cx="161.0" cy="240.7" r="0.55"/><circle cx="162.2" cy="241.8" r="0.55"/><circle cx="161.1" cy="241.8" r="0.55"/><circle cx="162.3" cy="246.4" r="0.55"/></g><g fill="#d2d2d2" ><circle cx="160.9" cy="242.1" r="0.6"/><circle cx="163.6" cy="241.1" r="0.6"/><circle cx="165.2" cy="244.2" r="0.6"/><circle cx="164.3" cy="242.9" r="0.6"/><circle cx="161.8" cy="248.0" r="0.6"/><circle cx="161.4" cy="246.5" r="0.6"/><circle cx="160.9" cy="242.5" r="0.6"/></g><polygon points="205.0,245.5 209.0,243.0 214.0,241.2 213.5,243.5 208.0,246.6" fill="#d2d2d2" fill-opacity="1.0" stroke="#d2d2d2" stroke-width="0.6" stroke-linejoin="round"/><g fill="#fff" fill-opacity="0.85"><circle cx="210.1" cy="243.1" r="0.55"/><circle cx="213.1" cy="241.8" r="0.55"/><circle cx="209.7" cy="243.1" r="0.55"/></g><g fill="#d2d2d2" ><circle cx="206.2" cy="244.8" r="0.6"/><circle cx="206.6" cy="243.4" r="0.6"/><circle cx="211.6" cy="243.4" r="0.6"/><circle cx="210.9" cy="241.5" r="0.6"/><circle cx="214.4" cy="243.1" r="0.6"/><circle cx="209.3" cy="247.6" r="0.6"/><circle cx="209.9" cy="244.9" r="0.6"/><circle cx="211.0" cy="245.5" r="0.6"/><circle cx="206.5" cy="247.1" r="0.6"/></g><polygon points="157.2,264.0 160.0,260.0 166.0,256.6 175.0,256.2 184.0,257.0 190.0,260.0 194.6,264.0 196.0,268.0 193.0,271.5 197.0,274.0 199.5,279.0 200.3,287.0 199.0,294.6 195.0,300.0 191.4,305.5 183.0,305.7 181.0,300.0 178.0,298.6 170.0,298.6 169.9,292.5 177.0,291.0 175.0,286.0 170.0,281.0 164.0,277.0 157.2,273.0" fill="#ea5f48" fill-opacity="1.0" stroke="#ea5f48" stroke-width="0.6" stroke-linejoin="round"/><g fill="#fff" fill-opacity="0.85"><circle cx="186.9" cy="281.9" r="0.55"/><circle cx="182.2" cy="293.7" r="0.55"/><circle cx="174.8" cy="272.8" r="0.55"/><circle cx="172.1" cy="256.9" r="0.55"/><circle cx="190.4" cy="269.2" r="0.55"/><circle cx="182.4" cy="282.2" r="0.55"/><circle cx="176.8" cy="267.8" r="0.55"/><circle cx="163.7" cy="268.7" r="0.55"/><circle cx="177.8" cy="295.0" r="0.55"/><circle cx="171.5" cy="268.0" r="0.55"/><circle cx="185.4" cy="269.1" r="0.55"/><circle cx="179.7" cy="268.8" r="0.55"/><circle cx="195.0" cy="265.3" r="0.55"/><circle cx="167.2" cy="271.1" r="0.55"/><circle cx="186.3" cy="295.3" r="0.55"/><circle cx="180.5" cy="260.1" r="0.55"/><circle cx="190.1" cy="268.3" r="0.55"/><circle cx="166.6" cy="276.7" r="0.55"/><circle cx="190.9" cy="272.9" r="0.55"/><circle cx="191.3" cy="275.0" r="0.55"/><circle cx="189.2" cy="279.8" r="0.55"/><circle cx="178.7" cy="275.0" r="0.55"/><circle cx="163.4" cy="266.4" r="0.55"/><circle cx="188.0" cy="303.0" r="0.55"/><circle cx="165.5" cy="262.9" r="0.55"/><circle cx="186.4" cy="299.9" r="0.55"/><circle cx="188.5" cy="303.2" r="0.55"/><circle cx="176.8" cy="274.6" r="0.55"/><circle cx="162.4" cy="269.7" r="0.55"/><circle cx="165.2" cy="273.4" r="0.55"/><circle cx="159.3" cy="271.4" r="0.55"/><circle cx="165.1" cy="262.3" r="0.55"/><circle cx="179.9" cy="282.9" r="0.55"/><circle cx="181.7" cy="293.9" r="0.55"/><circle cx="160.7" cy="267.2" r="0.55"/><circle cx="160.5" cy="271.5" r="0.55"/><circle cx="190.0" cy="301.9" r="0.55"/><circle cx="178.9" cy="264.1" r="0.55"/><circle cx="199.1" cy="279.0" r="0.55"/><circle cx="183.2" cy="298.1" r="0.55"/><circle cx="177.2" cy="265.6" r="0.55"/><circle cx="174.5" cy="258.8" r="0.55"/><circle cx="164.2" cy="264.8" r="0.55"/><circle cx="188.9" cy="266.7" r="0.55"/><circle cx="158.0" cy="267.1" r="0.55"/><circle cx="191.6" cy="280.9" r="0.55"/><circle cx="185.3" cy="279.2" r="0.55"/><circle cx="170.3" cy="258.3" r="0.55"/><circle cx="173.1" cy="279.6" r="0.55"/><circle cx="184.1" cy="271.9" r="0.55"/><circle cx="182.2" cy="276.8" r="0.55"/><circle cx="180.5" cy="279.0" r="0.55"/><circle cx="194.0" cy="299.9" r="0.55"/><circle cx="169.4" cy="261.0" r="0.55"/><circle cx="186.8" cy="273.4" r="0.55"/><circle cx="181.3" cy="280.8" r="0.55"/><circle cx="197.0" cy="281.7" r="0.55"/><circle cx="173.5" cy="256.3" r="0.55"/><circle cx="178.6" cy="269.5" r="0.55"/><circle cx="181.9" cy="287.5" r="0.55"/><circle cx="177.1" cy="260.7" r="0.55"/><circle cx="178.6" cy="280.0" r="0.55"/><circle cx="184.8" cy="304.2" r="0.55"/><circle cx="169.3" cy="278.1" r="0.55"/><circle cx="191.6" cy="268.8" r="0.55"/><circle cx="196.1" cy="281.1" r="0.55"/><circle cx="175.6" cy="283.7" r="0.55"/><circle cx="198.0" cy="280.4" r="0.55"/><circle cx="178.0" cy="270.6" r="0.55"/><circle cx="193.5" cy="281.1" r="0.55"/><circle cx="172.0" cy="265.9" r="0.55"/><circle cx="191.8" cy="304.6" r="0.55"/><circle cx="196.7" cy="290.1" r="0.55"/><circle cx="191.6" cy="291.4" r="0.55"/><circle cx="192.1" cy="295.9" r="0.55"/><circle cx="170.3" cy="268.3" r="0.55"/><circle cx="179.3" cy="273.2" r="0.55"/><circle cx="191.3" cy="286.4" r="0.55"/><circle cx="185.0" cy="259.4" r="0.55"/><circle cx="186.0" cy="261.6" r="0.55"/><circle cx="170.6" cy="265.4" r="0.55"/><circle cx="187.1" cy="293.7" r="0.55"/><circle cx="199.7" cy="287.0" r="0.55"/><circle cx="190.3" cy="295.1" r="0.55"/><circle cx="194.9" cy="284.4" r="0.55"/><circle cx="197.9" cy="287.8" r="0.55"/><circle cx="178.4" cy="275.2" r="0.55"/><circle cx="172.4" cy="257.3" r="0.55"/><circle cx="190.6" cy="290.6" r="0.55"/><circle cx="179.4" cy="271.8" r="0.55"/><circle cx="169.0" cy="265.5" r="0.55"/><circle cx="185.1" cy="290.2" r="0.55"/><circle cx="183.9" cy="303.8" r="0.55"/><circle cx="190.6" cy="272.7" r="0.55"/><circle cx="178.2" cy="258.0" r="0.55"/><circle cx="194.4" cy="282.7" r="0.55"/><circle cx="177.6" cy="293.1" r="0.55"/><circle cx="168.0" cy="266.1" r="0.55"/><circle cx="182.2" cy="268.1" r="0.55"/><circle cx="171.3" cy="259.7" r="0.55"/><circle cx="159.4" cy="273.8" r="0.55"/><circle cx="184.8" cy="276.7" r="0.55"/><circle cx="174.7" cy="267.9" r="0.55"/><circle cx="186.8" cy="293.9" r="0.55"/><circle cx="181.1" cy="287.9" r="0.55"/><circle cx="159.7" cy="263.6" r="0.55"/><circle cx="181.0" cy="269.7" r="0.55"/><circle cx="188.2" cy="292.2" r="0.55"/><circle cx="171.0" cy="294.2" r="0.55"/><circle cx="185.1" cy="291.1" r="0.55"/><circle cx="176.9" cy="277.6" r="0.55"/><circle cx="176.1" cy="262.5" r="0.55"/><circle cx="175.5" cy="284.6" r="0.55"/><circle cx="189.3" cy="276.1" r="0.55"/><circle cx="185.2" cy="289.9" r="0.55"/><circle cx="183.7" cy="258.5" r="0.55"/><circle cx="187.8" cy="262.6" r="0.55"/><circle cx="174.1" cy="279.4" r="0.55"/><circle cx="193.9" cy="280.3" r="0.55"/><circle cx="182.5" cy="271.8" r="0.55"/><circle cx="170.3" cy="267.1" r="0.55"/><circle cx="194.5" cy="281.4" r="0.55"/><circle cx="174.9" cy="275.9" r="0.55"/><circle cx="191.3" cy="291.3" r="0.55"/><circle cx="176.5" cy="274.3" r="0.55"/><circle cx="176.0" cy="278.6" r="0.55"/><circle cx="174.9" cy="271.2" r="0.55"/><circle cx="190.5" cy="278.7" r="0.55"/><circle cx="176.8" cy="274.8" r="0.55"/><circle cx="191.1" cy="276.1" r="0.55"/><circle cx="186.1" cy="292.9" r="0.55"/><circle cx="198.1" cy="288.7" r="0.55"/><circle cx="186.0" cy="277.7" r="0.55"/><circle cx="185.4" cy="267.4" r="0.55"/><circle cx="190.4" cy="282.9" r="0.55"/><circle cx="175.1" cy="294.1" r="0.55"/><circle cx="166.7" cy="275.9" r="0.55"/><circle cx="182.3" cy="296.9" r="0.55"/><circle cx="193.3" cy="275.6" r="0.55"/><circle cx="182.6" cy="291.5" r="0.55"/><circle cx="190.0" cy="293.2" r="0.55"/><circle cx="182.2" cy="268.7" r="0.55"/><circle cx="187.6" cy="284.0" r="0.55"/><circle cx="181.6" cy="282.4" r="0.55"/><circle cx="178.5" cy="264.5" r="0.55"/><circle cx="184.2" cy="300.4" r="0.55"/><circle cx="185.8" cy="270.5" r="0.55"/><circle cx="191.9" cy="277.0" r="0.55"/><circle cx="177.0" cy="282.4" r="0.55"/><circle cx="199.9" cy="284.4" r="0.55"/><circle cx="186.9" cy="297.2" r="0.55"/><circle cx="173.6" cy="269.7" r="0.55"/><circle cx="172.6" cy="282.8" r="0.55"/><circle cx="185.5" cy="263.6" r="0.55"/><circle cx="164.9" cy="262.0" r="0.55"/><circle cx="189.1" cy="269.3" r="0.55"/><circle cx="178.3" cy="290.6" r="0.55"/><circle cx="194.2" cy="266.7" r="0.55"/><circle cx="187.5" cy="290.8" r="0.55"/><circle cx="170.7" cy="278.1" r="0.55"/><circle cx="192.2" cy="284.4" r="0.55"/><circle cx="183.5" cy="305.1" r="0.55"/><circle cx="166.8" cy="267.2" r="0.55"/><circle cx="183.9" cy="263.6" r="0.55"/><circle cx="176.2" cy="277.5" r="0.55"/><circle cx="192.9" cy="301.5" r="0.55"/><circle cx="186.4" cy="264.7" r="0.55"/><circle cx="194.8" cy="267.4" r="0.55"/><circle cx="172.9" cy="267.5" r="0.55"/><circle cx="187.2" cy="259.3" r="0.55"/><circle cx="193.5" cy="283.1" r="0.55"/><circle cx="182.3" cy="260.9" r="0.55"/><circle cx="159.1" cy="273.7" r="0.55"/><circle cx="199.6" cy="285.9" r="0.55"/><circle cx="187.2" cy="264.9" r="0.55"/><circle cx="187.2" cy="272.2" r="0.55"/><circle cx="177.3" cy="270.5" r="0.55"/><circle cx="181.4" cy="273.8" r="0.55"/><circle cx="172.7" cy="268.5" r="0.55"/><circle cx="169.8" cy="269.1" r="0.55"/><circle cx="157.9" cy="271.6" r="0.55"/><circle cx="182.7" cy="269.5" r="0.55"/><circle cx="177.4" cy="281.5" r="0.55"/><circle cx="189.7" cy="287.0" r="0.55"/><circle cx="185.6" cy="290.5" r="0.55"/><circle cx="178.8" cy="276.7" r="0.55"/><circle cx="174.0" cy="281.2" r="0.55"/><circle cx="177.4" cy="282.4" r="0.55"/><circle cx="180.2" cy="295.2" r="0.55"/><circle cx="195.7" cy="267.3" r="0.55"/><circle cx="158.2" cy="271.1" r="0.55"/><circle cx="183.9" cy="270.3" r="0.55"/><circle cx="193.2" cy="290.0" r="0.55"/><circle cx="187.0" cy="293.1" r="0.55"/><circle cx="176.8" cy="275.9" r="0.55"/><circle cx="181.0" cy="299.8" r="0.55"/><circle cx="180.6" cy="281.7" r="0.55"/><circle cx="157.8" cy="263.5" r="0.55"/><circle cx="197.7" cy="277.8" r="0.55"/><circle cx="190.1" cy="285.5" r="0.55"/><circle cx="182.3" cy="264.8" r="0.55"/><circle cx="186.3" cy="266.9" r="0.55"/><circle cx="176.5" cy="283.1" r="0.55"/><circle cx="166.4" cy="259.8" r="0.55"/><circle cx="190.0" cy="272.7" r="0.55"/><circle cx="198.5" cy="283.9" r="0.55"/><circle cx="188.4" cy="293.7" r="0.55"/><circle cx="191.6" cy="263.2" r="0.55"/><circle cx="165.9" cy="257.7" r="0.55"/><circle cx="183.7" cy="302.5" r="0.55"/><circle cx="173.7" cy="297.0" r="0.55"/><circle cx="186.3" cy="259.5" r="0.55"/><circle cx="165.2" cy="267.9" r="0.55"/><circle cx="187.4" cy="304.7" r="0.55"/><circle cx="186.1" cy="287.3" r="0.55"/><circle cx="173.7" cy="291.7" r="0.55"/><circle cx="178.5" cy="259.1" r="0.55"/><circle cx="178.4" cy="275.2" r="0.55"/><circle cx="180.1" cy="258.6" r="0.55"/><circle cx="173.2" cy="272.5" r="0.55"/><circle cx="178.8" cy="280.9" r="0.55"/><circle cx="190.2" cy="284.2" r="0.55"/><circle cx="167.5" cy="265.6" r="0.55"/><circle cx="188.4" cy="260.1" r="0.55"/><circle cx="193.6" cy="286.9" r="0.55"/><circle cx="189.3" cy="293.9" r="0.55"/><circle cx="192.8" cy="263.5" r="0.55"/><circle cx="164.2" cy="258.1" r="0.55"/><circle cx="173.6" cy="260.5" r="0.55"/><circle cx="183.1" cy="301.6" r="0.55"/><circle cx="158.8" cy="261.8" r="0.55"/><circle cx="169.6" cy="265.7" r="0.55"/><circle cx="162.0" cy="266.1" r="0.55"/><circle cx="184.8" cy="264.5" r="0.55"/><circle cx="173.4" cy="263.6" r="0.55"/></g><g fill="#ea5f48" ><circle cx="158.8" cy="261.4" r="0.6"/><circle cx="157.3" cy="262.4" r="0.6"/><circle cx="160.7" cy="258.1" r="0.6"/><circle cx="165.6" cy="256.7" r="0.6"/><circle cx="164.4" cy="257.2" r="0.6"/><circle cx="170.0" cy="256.1" r="0.6"/><circle cx="173.4" cy="255.1" r="0.6"/><circle cx="168.0" cy="257.1" r="0.6"/><circle cx="173.6" cy="257.4" r="0.6"/><circle cx="176.4" cy="257.3" r="0.6"/><circle cx="180.9" cy="258.1" r="0.6"/><circle cx="182.6" cy="256.4" r="0.6"/><circle cx="181.6" cy="257.7" r="0.6"/><circle cx="188.5" cy="260.0" r="0.6"/><circle cx="189.4" cy="260.7" r="0.6"/><circle cx="184.6" cy="257.6" r="0.6"/><circle cx="191.3" cy="259.4" r="0.6"/><circle cx="192.3" cy="262.1" r="0.6"/><circle cx="192.0" cy="262.3" r="0.6"/><circle cx="197.1" cy="266.8" r="0.6"/><circle cx="195.6" cy="264.7" r="0.6"/><circle cx="192.7" cy="271.1" r="0.6"/><circle cx="193.7" cy="267.9" r="0.6"/><circle cx="192.6" cy="270.9" r="0.6"/><circle cx="197.3" cy="272.8" r="0.6"/><circle cx="198.1" cy="277.5" r="0.6"/><circle cx="199.7" cy="278.7" r="0.6"/><circle cx="199.4" cy="282.1" r="0.6"/><circle cx="200.4" cy="281.4" r="0.6"/><circle cx="199.1" cy="285.2" r="0.6"/><circle cx="199.5" cy="287.0" r="0.6"/><circle cx="198.9" cy="288.0" r="0.6"/><circle cx="200.7" cy="288.6" r="0.6"/><circle cx="200.6" cy="291.0" r="0.6"/><circle cx="197.4" cy="295.0" r="0.6"/><circle cx="196.2" cy="299.2" r="0.6"/><circle cx="195.2" cy="298.2" r="0.6"/><circle cx="191.5" cy="302.8" r="0.6"/><circle cx="194.0" cy="299.0" r="0.6"/><circle cx="192.1" cy="303.2" r="0.6"/><circle cx="184.1" cy="304.7" r="0.6"/><circle cx="186.4" cy="306.6" r="0.6"/><circle cx="187.0" cy="306.6" r="0.6"/><circle cx="186.9" cy="305.1" r="0.6"/><circle cx="181.8" cy="301.2" r="0.6"/><circle cx="182.9" cy="305.0" r="0.6"/><circle cx="181.8" cy="302.3" r="0.6"/><circle cx="179.9" cy="300.2" r="0.6"/><circle cx="173.8" cy="299.4" r="0.6"/><circle cx="175.6" cy="298.6" r="0.6"/><circle cx="171.3" cy="299.7" r="0.6"/><circle cx="173.9" cy="298.5" r="0.6"/><circle cx="171.3" cy="295.2" r="0.6"/><circle cx="168.9" cy="296.6" r="0.6"/><circle cx="169.1" cy="297.5" r="0.6"/><circle cx="174.9" cy="291.5" r="0.6"/><circle cx="171.7" cy="293.1" r="0.6"/><circle cx="170.1" cy="293.2" r="0.6"/><circle cx="175.1" cy="287.6" r="0.6"/><circle cx="175.9" cy="285.4" r="0.6"/><circle cx="170.9" cy="282.5" r="0.6"/><circle cx="170.8" cy="284.1" r="0.6"/><circle cx="172.4" cy="285.1" r="0.6"/><circle cx="168.1" cy="281.0" r="0.6"/><circle cx="168.2" cy="279.9" r="0.6"/><circle cx="167.6" cy="280.4" r="0.6"/><circle cx="160.3" cy="276.2" r="0.6"/><circle cx="163.0" cy="275.1" r="0.6"/><circle cx="158.9" cy="273.6" r="0.6"/><circle cx="157.8" cy="271.2" r="0.6"/><circle cx="156.0" cy="265.9" r="0.6"/><circle cx="157.3" cy="272.9" r="0.6"/><circle cx="156.5" cy="265.4" r="0.6"/></g><polygon points="211.6,264.9 218.0,264.9 218.8,272.6 216.8,277.8 220.6,282.3 225.8,283.8 223.2,286.9 218.0,286.9 212.9,288.2 209.0,284.3 206.4,279.1 203.8,274.0 204.5,269.3 208.4,266.7" fill="#6dbf66" fill-opacity="1.0" stroke="#6dbf66" stroke-width="0.6" stroke-linejoin="round"/><g fill="#fff" fill-opacity="0.85"><circle cx="210.8" cy="268.8" r="0.55"/><circle cx="220.2" cy="282.6" r="0.55"/><circle cx="211.2" cy="274.7" r="0.55"/><circle cx="219.1" cy="281.9" r="0.55"/><circle cx="214.0" cy="267.7" r="0.55"/><circle cx="205.9" cy="268.9" r="0.55"/><circle cx="218.0" cy="273.4" r="0.55"/><circle cx="211.9" cy="269.0" r="0.55"/><circle cx="217.0" cy="279.2" r="0.55"/><circle cx="212.7" cy="280.0" r="0.55"/><circle cx="212.0" cy="274.5" r="0.55"/><circle cx="211.9" cy="280.0" r="0.55"/><circle cx="211.6" cy="273.1" r="0.55"/><circle cx="222.4" cy="283.5" r="0.55"/><circle cx="218.7" cy="284.6" r="0.55"/><circle cx="212.3" cy="279.9" r="0.55"/><circle cx="209.3" cy="272.2" r="0.55"/><circle cx="212.1" cy="267.6" r="0.55"/><circle cx="206.9" cy="279.8" r="0.55"/><circle cx="209.4" cy="282.6" r="0.55"/><circle cx="211.6" cy="275.9" r="0.55"/><circle cx="208.2" cy="271.7" r="0.55"/><circle cx="213.1" cy="271.4" r="0.55"/><circle cx="217.9" cy="283.6" r="0.55"/><circle cx="211.0" cy="269.4" r="0.55"/><circle cx="217.0" cy="272.3" r="0.55"/><circle cx="204.6" cy="274.7" r="0.55"/><circle cx="211.7" cy="286.4" r="0.55"/><circle cx="205.8" cy="277.9" r="0.55"/><circle cx="212.8" cy="268.5" r="0.55"/><circle cx="214.2" cy="283.0" r="0.55"/><circle cx="215.5" cy="274.5" r="0.55"/><circle cx="215.1" cy="281.5" r="0.55"/><circle cx="221.2" cy="284.1" r="0.55"/><circle cx="213.5" cy="275.7" r="0.55"/><circle cx="216.2" cy="271.4" r="0.55"/><circle cx="222.4" cy="283.6" r="0.55"/><circle cx="205.3" cy="271.1" r="0.55"/><circle cx="215.3" cy="269.6" r="0.55"/><circle cx="214.0" cy="270.9" r="0.55"/><circle cx="206.8" cy="269.5" r="0.55"/><circle cx="215.5" cy="278.5" r="0.55"/><circle cx="220.4" cy="284.0" r="0.55"/><circle cx="206.5" cy="268.7" r="0.55"/><circle cx="206.6" cy="273.1" r="0.55"/><circle cx="209.1" cy="280.0" r="0.55"/><circle cx="219.6" cy="283.0" r="0.55"/><circle cx="213.4" cy="275.5" r="0.55"/></g><g fill="#6dbf66" ><circle cx="214.3" cy="264.8" r="0.6"/><circle cx="216.5" cy="264.4" r="0.6"/><circle cx="214.3" cy="263.7" r="0.6"/><circle cx="217.9" cy="266.7" r="0.6"/><circle cx="217.9" cy="266.7" r="0.6"/><circle cx="217.4" cy="270.9" r="0.6"/><circle cx="217.6" cy="273.6" r="0.6"/><circle cx="218.5" cy="275.4" r="0.6"/><circle cx="216.4" cy="277.3" r="0.6"/><circle cx="219.0" cy="281.8" r="0.6"/><circle cx="223.6" cy="282.7" r="0.6"/><circle cx="222.9" cy="283.4" r="0.6"/><circle cx="224.9" cy="284.4" r="0.6"/><circle cx="225.3" cy="284.6" r="0.6"/><circle cx="220.1" cy="287.2" r="0.6"/><circle cx="219.4" cy="286.0" r="0.6"/><circle cx="212.2" cy="289.0" r="0.6"/><circle cx="216.9" cy="286.9" r="0.6"/><circle cx="210.1" cy="284.2" r="0.6"/><circle cx="210.3" cy="284.7" r="0.6"/><circle cx="208.3" cy="283.5" r="0.6"/><circle cx="209.1" cy="282.4" r="0.6"/><circle cx="203.2" cy="274.3" r="0.6"/><circle cx="204.1" cy="274.7" r="0.6"/><circle cx="202.7" cy="273.5" r="0.6"/><circle cx="203.9" cy="271.6" r="0.6"/><circle cx="204.4" cy="269.0" r="0.6"/><circle cx="205.8" cy="268.1" r="0.6"/><circle cx="208.1" cy="265.7" r="0.6"/></g><polygon points="209.5,253.5 213.5,253.8 214.2,257.5 211.0,258.6" fill="#6dbf66" fill-opacity="1.0" stroke="#6dbf66" stroke-width="0.6" stroke-linejoin="round"/><g fill="#fff" fill-opacity="0.85"><circle cx="210.9" cy="254.1" r="0.55"/><circle cx="211.2" cy="255.8" r="0.55"/></g><g fill="#6dbf66" ><circle cx="210.4" cy="252.6" r="0.6"/><circle cx="212.8" cy="253.7" r="0.6"/><circle cx="214.4" cy="255.1" r="0.6"/><circle cx="212.5" cy="259.4" r="0.6"/><circle cx="210.4" cy="254.8" r="0.6"/><circle cx="210.4" cy="255.9" r="0.6"/></g><polygon points="218.0,256.0 220.6,255.8 220.8,258.4 218.4,258.6" fill="#6dbf66" fill-opacity="1.0" stroke="#6dbf66" stroke-width="0.6" stroke-linejoin="round"/><g fill="#fff" fill-opacity="0.85"><circle cx="220.3" cy="258.2" r="0.55"/></g><g fill="#6dbf66" ><circle cx="218.8" cy="256.3" r="0.6"/><circle cx="221.8" cy="256.2" r="0.6"/><circle cx="219.3" cy="259.7" r="0.6"/><circle cx="218.5" cy="257.2" r="0.6"/></g><polygon points="195.5,313.0 198.0,305.0 204.0,299.0 210.0,296.0 215.7,295.5 221.5,298.0 222.0,304.0 218.0,310.0 210.0,315.0 202.0,317.0 196.5,316.5" fill="#6dbf66" fill-opacity="1.0" stroke="#6dbf66" stroke-width="0.6" stroke-linejoin="round"/><g fill="#fff" fill-opacity="0.85"><circle cx="215.5" cy="306.0" r="0.55"/><circle cx="215.0" cy="302.1" r="0.55"/><circle cx="201.5" cy="311.3" r="0.55"/><circle cx="214.3" cy="311.2" r="0.55"/><circle cx="197.1" cy="315.6" r="0.55"/><circle cx="208.2" cy="302.8" r="0.55"/><circle cx="198.3" cy="314.5" r="0.55"/><circle cx="220.3" cy="298.2" r="0.55"/><circle cx="207.3" cy="301.4" r="0.55"/><circle cx="213.3" cy="297.9" r="0.55"/><circle cx="204.3" cy="304.3" r="0.55"/><circle cx="208.0" cy="304.9" r="0.55"/><circle cx="217.5" cy="300.4" r="0.55"/><circle cx="202.0" cy="305.4" r="0.55"/><circle cx="212.5" cy="308.5" r="0.55"/><circle cx="201.9" cy="312.4" r="0.55"/><circle cx="219.3" cy="301.2" r="0.55"/><circle cx="198.2" cy="316.3" r="0.55"/><circle cx="208.0" cy="311.6" r="0.55"/><circle cx="215.8" cy="306.5" r="0.55"/><circle cx="202.7" cy="306.8" r="0.55"/><circle cx="213.1" cy="302.5" r="0.55"/><circle cx="212.4" cy="298.7" r="0.55"/><circle cx="221.2" cy="300.0" r="0.55"/><circle cx="201.5" cy="316.1" r="0.55"/><circle cx="217.3" cy="307.7" r="0.55"/><circle cx="197.5" cy="311.2" r="0.55"/><circle cx="214.9" cy="306.0" r="0.55"/><circle cx="207.3" cy="310.0" r="0.55"/><circle cx="213.1" cy="310.4" r="0.55"/><circle cx="205.2" cy="309.2" r="0.55"/><circle cx="197.3" cy="314.9" r="0.55"/><circle cx="207.7" cy="299.9" r="0.55"/><circle cx="207.5" cy="310.1" r="0.55"/><circle cx="210.0" cy="297.8" r="0.55"/><circle cx="201.4" cy="304.4" r="0.55"/><circle cx="213.4" cy="295.9" r="0.55"/><circle cx="218.5" cy="308.6" r="0.55"/><circle cx="214.9" cy="308.7" r="0.55"/><circle cx="204.9" cy="302.8" r="0.55"/><circle cx="197.4" cy="309.8" r="0.55"/><circle cx="196.9" cy="310.1" r="0.55"/><circle cx="211.6" cy="312.9" r="0.55"/><circle cx="211.7" cy="303.3" r="0.55"/><circle cx="195.6" cy="313.4" r="0.55"/><circle cx="211.2" cy="313.8" r="0.55"/><circle cx="207.8" cy="314.8" r="0.55"/><circle cx="204.1" cy="303.1" r="0.55"/><circle cx="221.8" cy="304.0" r="0.55"/><circle cx="202.8" cy="310.4" r="0.55"/><circle cx="206.0" cy="298.2" r="0.55"/><circle cx="211.3" cy="304.6" r="0.55"/><circle cx="216.8" cy="302.8" r="0.55"/><circle cx="221.4" cy="299.7" r="0.55"/><circle cx="209.6" cy="300.4" r="0.55"/><circle cx="219.2" cy="301.8" r="0.55"/><circle cx="208.4" cy="306.8" r="0.55"/><circle cx="202.5" cy="307.0" r="0.55"/><circle cx="203.0" cy="313.0" r="0.55"/><circle cx="215.9" cy="310.6" r="0.55"/><circle cx="211.3" cy="314.1" r="0.55"/><circle cx="215.1" cy="296.7" r="0.55"/><circle cx="199.0" cy="311.6" r="0.55"/><circle cx="216.0" cy="298.9" r="0.55"/><circle cx="210.5" cy="308.9" r="0.55"/></g><g fill="#6dbf66" ><circle cx="196.1" cy="309.4" r="0.6"/><circle cx="196.2" cy="310.2" r="0.6"/><circle cx="195.3" cy="310.4" r="0.6"/><circle cx="195.4" cy="310.4" r="0.6"/><circle cx="201.2" cy="301.8" r="0.6"/><circle cx="204.7" cy="300.6" r="0.6"/><circle cx="202.9" cy="300.3" r="0.6"/><circle cx="198.8" cy="303.4" r="0.6"/><circle cx="205.8" cy="297.7" r="0.6"/><circle cx="208.4" cy="295.6" r="0.6"/><circle cx="207.6" cy="297.6" r="0.6"/><circle cx="214.7" cy="295.5" r="0.6"/><circle cx="210.7" cy="294.8" r="0.6"/><circle cx="219.9" cy="297.3" r="0.6"/><circle cx="217.0" cy="296.3" r="0.6"/><circle cx="218.3" cy="296.5" r="0.6"/><circle cx="221.8" cy="299.9" r="0.6"/><circle cx="222.7" cy="299.3" r="0.6"/><circle cx="221.5" cy="301.8" r="0.6"/><circle cx="223.2" cy="304.7" r="0.6"/><circle cx="218.3" cy="308.8" r="0.6"/><circle cx="220.2" cy="305.3" r="0.6"/><circle cx="214.2" cy="312.6" r="0.6"/><circle cx="215.4" cy="310.2" r="0.6"/><circle cx="217.8" cy="309.9" r="0.6"/><circle cx="216.2" cy="311.4" r="0.6"/><circle cx="203.5" cy="315.6" r="0.6"/><circle cx="210.0" cy="316.0" r="0.6"/><circle cx="210.1" cy="314.4" r="0.6"/><circle cx="205.4" cy="317.0" r="0.6"/><circle cx="199.8" cy="318.1" r="0.6"/><circle cx="198.1" cy="316.6" r="0.6"/><circle cx="196.1" cy="317.4" r="0.6"/></g><polygon points="151.5,278.0 154.0,274.0 158.0,273.2 160.6,276.0 160.0,281.0 156.0,284.3 152.5,283.0" fill="#3d8fcf" fill-opacity="1.0" stroke="#3d8fcf" stroke-width="0.6" stroke-linejoin="round"/><g fill="#fff" fill-opacity="0.85"><circle cx="154.7" cy="274.1" r="0.55"/><circle cx="154.7" cy="275.5" r="0.55"/><circle cx="155.4" cy="280.0" r="0.55"/><circle cx="157.5" cy="274.3" r="0.55"/><circle cx="156.4" cy="273.8" r="0.55"/><circle cx="155.5" cy="282.2" r="0.55"/><circle cx="153.9" cy="282.3" r="0.55"/><circle cx="153.7" cy="277.6" r="0.55"/><circle cx="156.5" cy="279.2" r="0.55"/><circle cx="157.8" cy="275.7" r="0.55"/><circle cx="153.3" cy="278.5" r="0.55"/><circle cx="154.1" cy="279.3" r="0.55"/></g><g fill="#3d8fcf" ><circle cx="152.2" cy="277.4" r="0.6"/><circle cx="150.6" cy="278.9" r="0.6"/><circle cx="158.4" cy="273.0" r="0.6"/><circle cx="157.1" cy="273.8" r="0.6"/><circle cx="159.7" cy="274.5" r="0.6"/><circle cx="159.4" cy="277.4" r="0.6"/><circle cx="160.2" cy="278.0" r="0.6"/><circle cx="156.5" cy="282.2" r="0.6"/><circle cx="158.0" cy="283.7" r="0.6"/><circle cx="152.2" cy="282.7" r="0.6"/><circle cx="152.3" cy="281.1" r="0.6"/><circle cx="152.1" cy="279.5" r="0.6"/></g><polygon points="145.8,285.0 148.0,283.4 150.4,285.0 149.0,289.0 146.5,288.5" fill="#3d8fcf" fill-opacity="1.0" stroke="#3d8fcf" stroke-width="0.6" stroke-linejoin="round"/><g fill="#fff" fill-opacity="0.85"><circle cx="148.0" cy="288.5" r="0.55"/><circle cx="149.5" cy="284.6" r="0.55"/></g><g fill="#3d8fcf" ><circle cx="145.4" cy="285.1" r="0.6"/><circle cx="150.4" cy="283.6" r="0.6"/><circle cx="150.7" cy="287.9" r="0.6"/><circle cx="150.3" cy="289.1" r="0.6"/><circle cx="148.6" cy="287.7" r="0.6"/><circle cx="147.2" cy="286.1" r="0.6"/></g><polygon points="149.5,289.0 152.0,284.0 157.0,283.0 161.0,281.0 166.0,280.0 171.0,284.0 170.0,289.0 176.4,292.0 175.0,296.0 168.0,296.4 160.0,295.0 153.0,294.0 150.0,292.0" fill="#b49bd4" fill-opacity="1.0" stroke="#b49bd4" stroke-width="0.6" stroke-linejoin="round"/><g fill="#fff" fill-opacity="0.85"><circle cx="153.4" cy="289.3" r="0.55"/><circle cx="151.3" cy="287.6" r="0.55"/><circle cx="151.7" cy="286.8" r="0.55"/><circle cx="171.5" cy="292.1" r="0.55"/><circle cx="170.7" cy="289.3" r="0.55"/><circle cx="160.5" cy="282.4" r="0.55"/><circle cx="161.8" cy="281.0" r="0.55"/><circle cx="160.9" cy="282.3" r="0.55"/><circle cx="171.8" cy="290.0" r="0.55"/><circle cx="153.8" cy="284.5" r="0.55"/><circle cx="166.9" cy="290.4" r="0.55"/><circle cx="161.1" cy="293.8" r="0.55"/><circle cx="164.5" cy="286.7" r="0.55"/><circle cx="149.9" cy="289.5" r="0.55"/><circle cx="156.1" cy="290.1" r="0.55"/><circle cx="174.0" cy="292.3" r="0.55"/><circle cx="157.0" cy="289.9" r="0.55"/><circle cx="157.3" cy="292.5" r="0.55"/><circle cx="156.4" cy="294.3" r="0.55"/><circle cx="167.7" cy="294.6" r="0.55"/><circle cx="165.2" cy="284.2" r="0.55"/><circle cx="166.9" cy="285.1" r="0.55"/><circle cx="165.9" cy="284.0" r="0.55"/><circle cx="152.2" cy="292.7" r="0.55"/><circle cx="153.3" cy="292.4" r="0.55"/><circle cx="156.8" cy="286.0" r="0.55"/><circle cx="174.6" cy="293.6" r="0.55"/><circle cx="172.0" cy="296.1" r="0.55"/><circle cx="165.7" cy="295.3" r="0.55"/><circle cx="166.2" cy="289.5" r="0.55"/><circle cx="158.2" cy="286.2" r="0.55"/><circle cx="164.8" cy="284.1" r="0.55"/><circle cx="166.8" cy="294.2" r="0.55"/><circle cx="168.9" cy="283.7" r="0.55"/><circle cx="161.2" cy="293.9" r="0.55"/><circle cx="164.2" cy="288.5" r="0.55"/><circle cx="165.8" cy="289.1" r="0.55"/><circle cx="167.7" cy="289.1" r="0.55"/><circle cx="164.4" cy="283.9" r="0.55"/><circle cx="152.8" cy="287.2" r="0.55"/><circle cx="173.3" cy="295.5" r="0.55"/><circle cx="157.4" cy="289.4" r="0.55"/><circle cx="163.4" cy="287.4" r="0.55"/><circle cx="154.3" cy="292.9" r="0.55"/><circle cx="157.0" cy="283.3" r="0.55"/><circle cx="163.6" cy="282.8" r="0.55"/><circle cx="166.8" cy="289.8" r="0.55"/><circle cx="166.3" cy="287.9" r="0.55"/><circle cx="166.0" cy="284.8" r="0.55"/><circle cx="162.0" cy="291.3" r="0.55"/><circle cx="155.3" cy="292.0" r="0.55"/><circle cx="166.1" cy="289.0" r="0.55"/><circle cx="170.2" cy="284.7" r="0.55"/><circle cx="159.5" cy="287.1" r="0.55"/><circle cx="169.3" cy="291.8" r="0.55"/><circle cx="150.0" cy="289.7" r="0.55"/><circle cx="168.8" cy="290.1" r="0.55"/><circle cx="169.5" cy="289.9" r="0.55"/><circle cx="166.6" cy="289.0" r="0.55"/><circle cx="167.4" cy="289.2" r="0.55"/><circle cx="151.9" cy="291.1" r="0.55"/><circle cx="168.4" cy="287.0" r="0.55"/><circle cx="154.0" cy="288.4" r="0.55"/><circle cx="159.1" cy="282.7" r="0.55"/><circle cx="168.7" cy="282.8" r="0.55"/><circle cx="166.7" cy="287.5" r="0.55"/><circle cx="153.9" cy="285.8" r="0.55"/><circle cx="161.4" cy="294.3" r="0.55"/><circle cx="152.6" cy="288.8" r="0.55"/><circle cx="162.2" cy="289.1" r="0.55"/><circle cx="170.8" cy="289.8" r="0.55"/><circle cx="165.6" cy="284.4" r="0.55"/><circle cx="164.2" cy="294.2" r="0.55"/><circle cx="150.7" cy="290.6" r="0.55"/><circle cx="162.6" cy="284.7" r="0.55"/><circle cx="153.8" cy="283.8" r="0.55"/><circle cx="161.3" cy="286.9" r="0.55"/><circle cx="165.7" cy="284.4" r="0.55"/><circle cx="166.2" cy="287.8" r="0.55"/><circle cx="170.9" cy="293.2" r="0.55"/><circle cx="164.2" cy="285.5" r="0.55"/><circle cx="156.3" cy="291.7" r="0.55"/><circle cx="161.2" cy="291.2" r="0.55"/><circle cx="156.4" cy="294.1" r="0.55"/><circle cx="156.6" cy="294.3" r="0.55"/><circle cx="161.3" cy="286.6" r="0.55"/><circle cx="165.0" cy="288.6" r="0.55"/><circle cx="164.2" cy="289.2" r="0.55"/><circle cx="175.1" cy="292.2" r="0.55"/><circle cx="162.8" cy="293.8" r="0.55"/><circle cx="158.0" cy="288.1" r="0.55"/><circle cx="174.0" cy="291.0" r="0.55"/><circle cx="156.0" cy="286.1" r="0.55"/><circle cx="162.4" cy="281.8" r="0.55"/><circle cx="154.9" cy="288.1" r="0.55"/><circle cx="165.3" cy="281.5" r="0.55"/><circle cx="163.1" cy="291.3" r="0.55"/><circle cx="155.6" cy="291.3" r="0.55"/><circle cx="165.3" cy="292.3" r="0.55"/><circle cx="163.2" cy="282.9" r="0.55"/><circle cx="151.8" cy="290.6" r="0.55"/><circle cx="151.8" cy="288.9" r="0.55"/><circle cx="154.8" cy="284.3" r="0.55"/><circle cx="170.1" cy="287.3" r="0.55"/><circle cx="153.5" cy="291.1" r="0.55"/><circle cx="161.5" cy="288.8" r="0.55"/><circle cx="168.4" cy="293.7" r="0.55"/><circle cx="170.6" cy="284.1" r="0.55"/><circle cx="153.0" cy="288.3" r="0.55"/><circle cx="154.5" cy="289.2" r="0.55"/><circle cx="161.2" cy="293.4" r="0.55"/><circle cx="170.2" cy="288.1" r="0.55"/><circle cx="160.2" cy="282.0" r="0.55"/><circle cx="167.2" cy="295.1" r="0.55"/><circle cx="168.0" cy="285.2" r="0.55"/><circle cx="163.6" cy="285.8" r="0.55"/><circle cx="160.0" cy="292.7" r="0.55"/><circle cx="163.3" cy="282.4" r="0.55"/><circle cx="169.2" cy="284.2" r="0.55"/><circle cx="160.4" cy="284.1" r="0.55"/><circle cx="165.6" cy="287.1" r="0.55"/><circle cx="167.9" cy="287.0" r="0.55"/><circle cx="152.3" cy="288.1" r="0.55"/><circle cx="156.3" cy="284.9" r="0.55"/><circle cx="166.4" cy="281.9" r="0.55"/><circle cx="155.8" cy="292.8" r="0.55"/><circle cx="170.1" cy="283.8" r="0.55"/><circle cx="163.2" cy="293.1" r="0.55"/><circle cx="165.7" cy="288.6" r="0.55"/><circle cx="154.6" cy="288.6" r="0.55"/><circle cx="165.5" cy="287.5" r="0.55"/><circle cx="166.6" cy="289.2" r="0.55"/><circle cx="166.9" cy="286.7" r="0.55"/><circle cx="171.8" cy="292.7" r="0.55"/><circle cx="168.1" cy="289.1" r="0.55"/><circle cx="167.3" cy="284.1" r="0.55"/><circle cx="166.0" cy="289.0" r="0.55"/><circle cx="165.8" cy="287.0" r="0.55"/><circle cx="155.9" cy="285.0" r="0.55"/><circle cx="168.2" cy="294.5" r="0.55"/><circle cx="158.1" cy="285.1" r="0.55"/><circle cx="161.5" cy="287.0" r="0.55"/><circle cx="166.5" cy="292.4" r="0.55"/><circle cx="170.2" cy="293.3" r="0.55"/><circle cx="169.0" cy="295.9" r="0.55"/><circle cx="161.6" cy="287.3" r="0.55"/><circle cx="167.0" cy="285.1" r="0.55"/><circle cx="164.5" cy="288.5" r="0.55"/><circle cx="157.0" cy="287.8" r="0.55"/><circle cx="173.8" cy="296.0" r="0.55"/><circle cx="170.8" cy="284.6" r="0.55"/><circle cx="171.7" cy="293.7" r="0.55"/><circle cx="154.3" cy="288.3" r="0.55"/><circle cx="152.0" cy="286.2" r="0.55"/><circle cx="162.8" cy="293.4" r="0.55"/><circle cx="157.3" cy="290.9" r="0.55"/><circle cx="153.3" cy="284.2" r="0.55"/><circle cx="151.1" cy="289.5" r="0.55"/><circle cx="165.3" cy="291.7" r="0.55"/><circle cx="168.9" cy="289.3" r="0.55"/><circle cx="157.4" cy="289.0" r="0.55"/><circle cx="165.6" cy="295.7" r="0.55"/><circle cx="155.0" cy="292.5" r="0.55"/><circle cx="166.4" cy="294.0" r="0.55"/><circle cx="164.3" cy="284.2" r="0.55"/><circle cx="162.2" cy="287.6" r="0.55"/><circle cx="159.0" cy="289.5" r="0.55"/><circle cx="153.5" cy="284.2" r="0.55"/><circle cx="163.6" cy="292.1" r="0.55"/><circle cx="160.3" cy="294.8" r="0.55"/><circle cx="165.9" cy="290.8" r="0.55"/><circle cx="158.9" cy="293.9" r="0.55"/><circle cx="167.9" cy="282.9" r="0.55"/></g><g fill="#b49bd4" ><circle cx="150.4" cy="285.0" r="0.6"/><circle cx="150.0" cy="286.7" r="0.6"/><circle cx="152.5" cy="282.8" r="0.6"/><circle cx="155.6" cy="283.8" r="0.6"/><circle cx="159.9" cy="283.1" r="0.6"/><circle cx="160.7" cy="282.7" r="0.6"/><circle cx="165.4" cy="280.3" r="0.6"/><circle cx="161.0" cy="280.5" r="0.6"/><circle cx="167.8" cy="283.1" r="0.6"/><circle cx="166.2" cy="280.3" r="0.6"/><circle cx="170.6" cy="282.5" r="0.6"/><circle cx="169.6" cy="287.6" r="0.6"/><circle cx="171.8" cy="285.9" r="0.6"/><circle cx="171.2" cy="291.0" r="0.6"/><circle cx="171.6" cy="290.1" r="0.6"/><circle cx="175.4" cy="289.9" r="0.6"/><circle cx="176.5" cy="293.3" r="0.6"/><circle cx="175.9" cy="293.7" r="0.6"/><circle cx="173.8" cy="295.5" r="0.6"/><circle cx="173.2" cy="295.1" r="0.6"/><circle cx="174.9" cy="296.7" r="0.6"/><circle cx="165.7" cy="296.8" r="0.6"/><circle cx="166.4" cy="296.3" r="0.6"/><circle cx="166.4" cy="296.0" r="0.6"/><circle cx="163.5" cy="294.4" r="0.6"/><circle cx="154.0" cy="295.0" r="0.6"/><circle cx="159.1" cy="295.0" r="0.6"/><circle cx="157.8" cy="296.0" r="0.6"/><circle cx="151.5" cy="292.2" r="0.6"/><circle cx="149.9" cy="289.7" r="0.6"/></g><polygon points="137.5,273.5 139.5,272.0 141.5,273.0 142.0,276.0 140.0,277.5 138.0,276.5" fill="#4b3c8c" fill-opacity="1.0" stroke="#4b3c8c" stroke-width="0.6" stroke-linejoin="round"/><g fill="#fff" fill-opacity="0.85"><circle cx="138.3" cy="275.5" r="0.55"/><circle cx="139.5" cy="275.7" r="0.55"/><circle cx="137.7" cy="273.6" r="0.55"/></g><g fill="#4b3c8c" ><circle cx="138.4" cy="273.3" r="0.6"/><circle cx="140.8" cy="272.3" r="0.6"/><circle cx="141.4" cy="272.6" r="0.6"/><circle cx="140.7" cy="277.3" r="0.6"/><circle cx="138.4" cy="277.8" r="0.6"/><circle cx="138.2" cy="273.9" r="0.6"/></g><polygon points="151.3,300.0 153.0,299.0 155.0,301.0 153.0,302.9" fill="#2f8f86" fill-opacity="1.0" stroke="#2f8f86" stroke-width="0.6" stroke-linejoin="round"/><g fill="#fff" fill-opacity="0.85"><circle cx="152.9" cy="301.4" r="0.55"/></g><g fill="#2f8f86" ><circle cx="154.2" cy="299.4" r="0.6"/><circle cx="152.9" cy="302.2" r="0.6"/><circle cx="152.3" cy="300.5" r="0.6"/></g><polygon points="159.7,311.0 163.0,310.3 168.0,313.0 176.0,315.0 182.0,314.5 183.8,316.5 181.0,319.6 172.0,319.0 165.0,316.0 160.5,313.0" fill="#f2b04e" fill-opacity="1.0" stroke="#f2b04e" stroke-width="0.6" stroke-linejoin="round"/><g fill="#fff" fill-opacity="0.85"><circle cx="163.7" cy="314.7" r="0.55"/><circle cx="177.4" cy="317.5" r="0.55"/><circle cx="169.2" cy="317.3" r="0.55"/><circle cx="166.2" cy="315.5" r="0.55"/><circle cx="177.4" cy="318.3" r="0.55"/><circle cx="171.9" cy="316.7" r="0.55"/><circle cx="182.1" cy="316.0" r="0.55"/><circle cx="171.5" cy="315.1" r="0.55"/><circle cx="174.5" cy="318.0" r="0.55"/><circle cx="172.0" cy="314.6" r="0.55"/><circle cx="163.7" cy="312.8" r="0.55"/><circle cx="164.2" cy="311.9" r="0.55"/><circle cx="177.7" cy="317.2" r="0.55"/><circle cx="177.3" cy="317.3" r="0.55"/><circle cx="178.9" cy="316.1" r="0.55"/><circle cx="168.5" cy="317.1" r="0.55"/></g><g fill="#f2b04e" ><circle cx="158.9" cy="310.7" r="0.6"/><circle cx="167.6" cy="311.9" r="0.6"/><circle cx="164.3" cy="311.4" r="0.6"/><circle cx="172.8" cy="315.1" r="0.6"/><circle cx="167.2" cy="312.6" r="0.6"/><circle cx="174.4" cy="314.0" r="0.6"/><circle cx="174.6" cy="313.9" r="0.6"/><circle cx="177.4" cy="316.2" r="0.6"/><circle cx="181.6" cy="313.5" r="0.6"/><circle cx="180.8" cy="315.5" r="0.6"/><circle cx="183.4" cy="317.3" r="0.6"/><circle cx="182.4" cy="318.3" r="0.6"/><circle cx="181.8" cy="320.1" r="0.6"/><circle cx="179.6" cy="320.4" r="0.6"/><circle cx="176.7" cy="319.7" r="0.6"/><circle cx="176.6" cy="319.4" r="0.6"/><circle cx="175.2" cy="318.3" r="0.6"/><circle cx="167.2" cy="316.3" r="0.6"/><circle cx="169.7" cy="318.8" r="0.6"/><circle cx="167.7" cy="316.2" r="0.6"/><circle cx="162.1" cy="314.5" r="0.6"/><circle cx="160.3" cy="313.1" r="0.6"/><circle cx="159.6" cy="312.9" r="0.6"/></g><circle cx="174" cy="295" r="1.6" fill="#c8302a"/><circle cx="175.5" cy="294" r="0.9" fill="#301010"/><g fill="#4b3c8c" ><circle cx="136.5" cy="279.0" r="0.8"/><circle cx="138.6" cy="280.6" r="0.8"/><circle cx="135.4" cy="274.6" r="0.8"/><circle cx="141.6" cy="279.2" r="0.8"/><circle cx="143.2" cy="275.4" r="0.8"/></g><path d="M20.5,303.2 V323.4 H37.4" fill="none" stroke="#111" stroke-width="1"/><path d="M18.6,304.0 L20.5,299.2 L22.4,304.0 Z" fill="#111"/><path d="M36.6,321.5 L41.4,323.4 L36.6,325.29999999999995 Z" fill="#111"/><path d="M133.7,303 V323.9 H151.1" fill="none" stroke="#111" stroke-width="1"/><path d="M131.79999999999998,303.8 L133.7,299 L135.6,303.8 Z" fill="#111"/><path d="M150.29999999999998,322.0 L155.1,323.9 L150.29999999999998,325.79999999999995 Z" fill="#111"/><text transform="translate(15.80,310.80) rotate(-90)" font-size="8.0" text-anchor="middle" fill="#2a2a2a" stroke="#2a2a2a" textLength="22.00" lengthAdjust="spacingAndGlyphs">tSNE-2</text><text x="20.50" y="334.40" font-size="8.0" fill="#2a2a2a" stroke="#2a2a2a" font-weight="normal" textLength="21.50" lengthAdjust="spacingAndGlyphs" >tSNE-1</text><text transform="translate(129.20,311.20) rotate(-90)" font-size="8.0" text-anchor="middle" fill="#2a2a2a" stroke="#2a2a2a" textLength="22.00" lengthAdjust="spacingAndGlyphs">tSNE-2</text><text x="133.60" y="334.60" font-size="8.0" fill="#2a2a2a" stroke="#2a2a2a" font-weight="normal" textLength="21.60" lengthAdjust="spacingAndGlyphs" >tSNE-1</text><text x="63.50" y="216.00" font-size="9.2" fill="#c41e45" stroke="#c41e45" font-weight="normal" textLength="20.20" lengthAdjust="spacingAndGlyphs" >pBIC</text><text x="168.50" y="216.50" font-size="9.2" fill="#2f5f93" stroke="#2f5f93" font-weight="normal" textLength="20.70" lengthAdjust="spacingAndGlyphs" >pBIC</text><text x="189.60" y="212.00" font-size="5.8" fill="#2f5f93" stroke="#2f5f93" font-weight="normal" textLength="12.70" lengthAdjust="spacingAndGlyphs" >Δ10</text><circle cx="232.3" cy="229.6" r="1.9" fill="#6f936f"/><text x="236.80" y="232.00" font-size="7.2" fill="#5fae5c" stroke="#5fae5c" font-weight="normal" textLength="36.70" lengthAdjust="spacingAndGlyphs" >Lymphoma</text><text x="236.80" y="239.70" font-size="7.2" fill="#5fae5c" stroke="#5fae5c" font-weight="normal" textLength="35.20" lengthAdjust="spacingAndGlyphs" >GFP<tspan font-size="4.5" dy="-2.4">+</tspan><tspan dy="2.4"> cells</tspan></text><circle cx="232.3" cy="245.9" r="1.9" fill="#5f90cc"/><text x="236.8" y="248.3" font-size="7.3" text-anchor="start" fill="#222" stroke="#222" font-weight="normal" >CD4 T</text><circle cx="232.3" cy="253.9" r="1.9" fill="#1b1766"/><text x="236.8" y="256.3" font-size="7.3" text-anchor="start" fill="#222" stroke="#222" font-weight="normal" >Treg</text><circle cx="232.3" cy="261.2" r="1.9" fill="#e05a50"/><text x="236.8" y="263.6" font-size="7.3" text-anchor="start" fill="#222" stroke="#222" font-weight="normal" >CD8 T</text><circle cx="232.3" cy="268.9" r="1.9" fill="#4b3c8c"/><text x="236.8" y="271.3" font-size="7.3" text-anchor="start" fill="#222" stroke="#222" font-weight="normal" >DCs</text><circle cx="232.3" cy="276.4" r="1.9" fill="#2f8f86"/><text x="236.8" y="278.8" font-size="7.3" text-anchor="start" fill="#222" stroke="#222" font-weight="normal" >NK</text><circle cx="232.3" cy="283.7" r="1.9" fill="#b49bd4"/><text x="236.8" y="286.1" font-size="7.3" text-anchor="start" fill="#222" stroke="#222" font-weight="normal" >NKT</text><circle cx="232.3" cy="291.3" r="1.9" fill="#d8b048"/><text x="236.8" y="293.7" font-size="7.3" text-anchor="start" fill="#222" stroke="#222" font-weight="normal" >MDSC</text><circle cx="232.3" cy="298.9" r="1.9" fill="#dcdc78"/><text x="236.8" y="301.3" font-size="7.3" text-anchor="start" fill="#222" stroke="#222" font-weight="normal" >Macrophages</text><circle cx="232.3" cy="306.3" r="1.9" fill="#b0a096"/><text x="236.8" y="308.7" font-size="7.3" text-anchor="start" fill="#222" stroke="#222" font-weight="normal" >Mep</text><circle cx="232.3" cy="313.6" r="1.9" fill="#d4d4dc"/><text x="236.80" y="316.00" font-size="7.2" fill="#222" stroke="#222" font-weight="normal" textLength="47.30" lengthAdjust="spacingAndGlyphs" >Undetermined</text><rect x="334.5" y="216.9" width="5.30" height="19.11" fill="#0f4b80"/><rect x="334.5" y="235.01" width="5.30" height="77.19" fill="#c00024"/><rect x="340.9" y="216.9" width="1.60" height="20.01" fill="#8fb0d0"/><rect x="340.9" y="236.91" width="1.60" height="75.29" fill="#e8a0a8"/><rect x="343.8" y="216.9" width="17.00" height="21.01" fill="#0f4b80"/><rect x="343.8" y="236.91" width="17.00" height="75.29" fill="#c00024"/><rect x="362" y="216.9" width="8.80" height="30.54" fill="#0f4b80"/><rect x="362" y="246.44" width="8.80" height="65.76" fill="#c00024"/><rect x="372" y="216.9" width="6.40" height="37.21" fill="#0f4b80"/><rect x="372" y="253.11" width="6.40" height="59.09" fill="#c00024"/><rect x="379.8" y="216.9" width="76.90" height="41.03" fill="#0f4b80"/><rect x="379.8" y="256.93" width="76.90" height="55.27" fill="#c00024"/><rect x="457.8" y="216.9" width="1.80" height="47.65" fill="#8fb0d0"/><rect x="457.8" y="264.55" width="1.80" height="47.65" fill="#e8a0a8"/><rect x="460.7" y="216.9" width="11.10" height="77.24" fill="#0f4b80"/><rect x="460.7" y="293.14" width="11.10" height="19.06" fill="#c00024"/><rect x="473.4" y="216.9" width="30.20" height="82.96" fill="#0f4b80"/><rect x="473.4" y="298.86" width="30.20" height="13.34" fill="#c00024"/><line x1="327" y1="264.4" x2="512" y2="264.4" stroke="#333" stroke-width="0.7" stroke-dasharray="2,1.6"/><path d="M326.3,211.8 V317.1 H512" fill="none" stroke="#222" stroke-width="1.1"/><line x1="323.4" y1="217.2" x2="326.2" y2="217.2" stroke="#222" stroke-width="0.9"/><text x="308.20" y="220.20" font-size="8.3" fill="#333" stroke="#333" font-weight="normal" textLength="12.00" lengthAdjust="spacingAndGlyphs" >100</text><line x1="323.4" y1="240.8" x2="326.2" y2="240.8" stroke="#222" stroke-width="0.9"/><text x="311.90" y="243.80" font-size="8.3" fill="#333" stroke="#333" font-weight="normal" textLength="8.30" lengthAdjust="spacingAndGlyphs" >75</text><line x1="323.4" y1="264.5" x2="326.2" y2="264.5" stroke="#222" stroke-width="0.9"/><text x="311.60" y="267.50" font-size="8.3" fill="#333" stroke="#333" font-weight="normal" textLength="8.60" lengthAdjust="spacingAndGlyphs" >50</text><line x1="323.4" y1="288.3" x2="326.2" y2="288.3" stroke="#222" stroke-width="0.9"/><text x="311.60" y="291.30" font-size="8.3" fill="#333" stroke="#333" font-weight="normal" textLength="8.60" lengthAdjust="spacingAndGlyphs" >25</text><line x1="323.4" y1="312.2" x2="326.2" y2="312.2" stroke="#222" stroke-width="0.9"/><text x="315.90" y="315.20" font-size="8.3" fill="#333" stroke="#333" font-weight="normal" textLength="4.30" lengthAdjust="spacingAndGlyphs" >0</text><line x1="337.5" y1="317.1" x2="337.5" y2="319.8" stroke="#222" stroke-width="0.9"/><text transform="translate(340.1,326.3) rotate(-45)" font-size="7.8" text-anchor="end" fill="#333" stroke="#333">DCs</text><line x1="342" y1="317.1" x2="342" y2="319.8" stroke="#222" stroke-width="0.9"/><text transform="translate(344.6,326.3) rotate(-45)" font-size="7.8" text-anchor="end" fill="#333" stroke="#333">NK</text><line x1="352.7" y1="317.1" x2="352.7" y2="319.8" stroke="#222" stroke-width="0.9"/><text transform="translate(355.3,326.3) rotate(-45)" font-size="7.8" text-anchor="end" fill="#333" stroke="#333">NKT</text><line x1="366.2" y1="317.1" x2="366.2" y2="319.8" stroke="#222" stroke-width="0.9"/><text transform="translate(368.8,326.3) rotate(-45)" font-size="7.8" text-anchor="end" fill="#333" stroke="#333">CD4</text><line x1="375.2" y1="317.1" x2="375.2" y2="319.8" stroke="#222" stroke-width="0.9"/><text transform="translate(377.8,326.3) rotate(-45)" font-size="7.8" text-anchor="end" fill="#333" stroke="#333">Mep</text><line x1="418" y1="317.1" x2="418" y2="319.8" stroke="#222" stroke-width="0.9"/><text transform="translate(420.6,326.3) rotate(-45)" font-size="7.8" text-anchor="end" fill="#333" stroke="#333">CD8</text><line x1="458.2" y1="317.1" x2="458.2" y2="319.8" stroke="#222" stroke-width="0.9"/><text transform="translate(460.8,326.3) rotate(-45)" font-size="7.8" text-anchor="end" fill="#333" stroke="#333">Treg</text><line x1="466.3" y1="317.1" x2="466.3" y2="319.8" stroke="#222" stroke-width="0.9"/><text transform="translate(468.90000000000003,326.3) rotate(-45)" font-size="7.8" text-anchor="end" fill="#333" stroke="#333">MDSC</text><line x1="488.5" y1="317.1" x2="488.5" y2="319.8" stroke="#222" stroke-width="0.9"/><text transform="translate(491.1,326.3) rotate(-45)" font-size="7.8" text-anchor="end" fill="#333" stroke="#333">Macrophages</text><text transform="translate(301.60,266.80) rotate(-90)" font-size="8.5" text-anchor="middle" fill="#333" stroke="#333" textLength="69.60" lengthAdjust="spacingAndGlyphs">Relative frequency (%)</text><rect x="383.6" y="363.7" width="5.8" height="5.4" fill="#0f4b80"/><text x="393.00" y="369.10" font-size="6.6" fill="#3a6496" stroke="#3a6496" font-weight="normal" textLength="15.90" lengthAdjust="spacingAndGlyphs" >pBIC</text><text x="409.60" y="365.40" font-size="4.4" fill="#3a6496" stroke="#3a6496" font-weight="normal" textLength="8.20" lengthAdjust="spacingAndGlyphs" >Δ10</text><rect x="426.5" y="363.7" width="5.5" height="5.4" fill="#c00024"/><text x="435.60" y="369.10" font-size="6.6" fill="#c0324f" stroke="#c0324f" font-weight="normal" textLength="15.80" lengthAdjust="spacingAndGlyphs" >pBIC</text><text x="8.00" y="16.60" font-size="11" fill="#000" stroke="#000" font-weight="bold" textLength="7.90" lengthAdjust="spacingAndGlyphs" >A</text><text x="134.90" y="16.20" font-size="11" fill="#000" stroke="#000" font-weight="bold" textLength="6.80" lengthAdjust="spacingAndGlyphs" >B</text><text x="381.50" y="18.90" font-size="11" fill="#000" stroke="#000" font-weight="bold" textLength="7.60" lengthAdjust="spacingAndGlyphs" >C</text><text x="7.70" y="203.40" font-size="11" fill="#000" stroke="#000" font-weight="bold" textLength="7.30" lengthAdjust="spacingAndGlyphs" >D</text><text x="292.90" y="203.30" font-size="11" fill="#000" stroke="#000" font-weight="bold" textLength="6.40" lengthAdjust="spacingAndGlyphs" >E</text><rect x="0.5" y="0.5" width="519" height="376" fill="none" stroke="#555" stroke-width="1"/></svg>
</body></html>
